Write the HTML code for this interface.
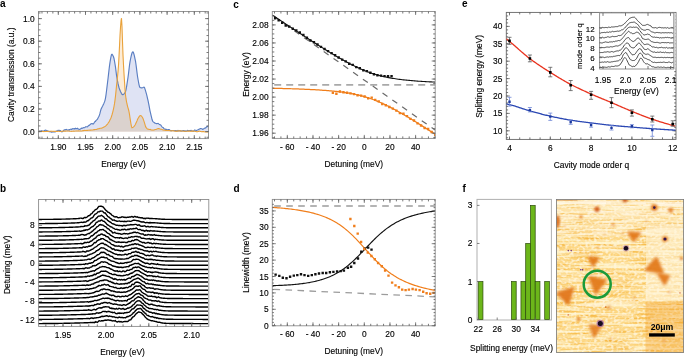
<!DOCTYPE html>
<html><head><meta charset="utf-8"><style>
html,body{margin:0;padding:0;background:#fff;}
svg{display:block;font-family:"Liberation Sans", sans-serif;will-change:transform;}
</style></head><body>
<svg width="685" height="357" viewBox="0 0 685 357">
<path d="M38.5,131.6 L38.5,131.51 L39,131.54 L39.5,131.05 L40,131.35 L40.5,131.19 L41,130.88 L41.5,130.86 L42,130.68 L42.5,131.49 L43,131.46 L43.5,131.43 L44,130.71 L44.5,130.46 L45,130.25 L45.5,130.17 L46,130.34 L46.5,130.51 L47,130.82 L47.5,130.84 L48,131.04 L48.5,131.31 L49,131.6 L49.5,131.66 L50,131.48 L50.5,131.56 L51,132.06 L51.5,132.13 L52,132.07 L52.5,131.96 L53,131.88 L53.5,131.86 L54,131.8 L54.5,131.99 L55,131.98 L55.5,131.86 L56,131.19 L56.5,131.23 L57,130.84 L57.5,130.8 L58,130.33 L58.5,130.34 L59,130.5 L59.5,130.39 L60,130.47 L60.5,130.76 L61,131.4 L61.5,131.68 L62,131.79 L62.5,131.62 L63,131.14 L63.5,130.55 L64,130.05 L64.5,129.87 L65,129.86 L65.5,129.67 L66,129.7 L66.5,129.44 L67,129.81 L67.5,129.94 L68,130.12 L68.5,129.99 L69,129.66 L69.5,129.93 L70,129.42 L70.5,129.26 L71,129.09 L71.5,129.47 L72,129.15 L72.5,128.85 L73,128.61 L73.5,128.77 L74,129.02 L74.5,128.69 L75,128.78 L75.5,128.3 L76,128.72 L76.5,128.67 L77,128.82 L77.5,128.34 L78,128.68 L78.5,128.92 L79,129.38 L79.5,129.33 L80,129.27 L80.5,129 L81,128.58 L81.5,128.24 L82,128.4 L82.5,128.11 L83,127.99 L83.5,127.56 L84,127.69 L84.5,127.73 L85,127.41 L85.5,126.9 L86,126.6 L86.5,126.79 L87,126.94 L87.5,126.7 L88,126.14 L88.5,125.75 L89,125.36 L89.5,125.19 L90,124.61 L90.5,124.27 L91,123.75 L91.5,123.69 L92,123.52 L92.5,123.83 L93,123.86 L93.5,123.93 L94,122.96 L94.5,122.34 L95,121.54 L95.5,121.43 L96,120.5 L96.5,120.15 L97,119.59 L97.5,119.12 L98,118.09 L98.5,116.98 L99,116.21 L99.5,114.85 L100,113.13 L100.5,111.04 L101,109.24 L101.5,108.15 L102,107.21 L102.5,106.31 L103,105.36 L103.5,104.27 L104,103.15 L104.5,101.91 L105,100.37 L105.5,98.11 L106,94.87 L106.5,91 L107,86.84 L107.5,82.77 L108,78.77 L108.5,74.39 L109,69.96 L109.5,65.84 L110,62.38 L110.5,59.44 L111,56.6 L111.5,54.67 L112,54.35 L112.5,54.84 L113,55.71 L113.5,56.8 L114,58.5 L114.5,61.05 L115,64 L115.5,67.2 L116,71.15 L116.5,75.05 L117,78.13 L117.5,80.86 L118,83.38 L118.5,85.62 L119,87.51 L119.5,88.96 L120,90.26 L120.5,91.5 L121,92.62 L121.5,93.55 L122,94.22 L122.5,94.57 L123,94.56 L123.5,94.31 L124,93.88 L124.5,93.29 L125,92.58 L125.5,91.67 L126,89.82 L126.5,87.13 L127,83.95 L127.5,80.62 L128,77.38 L128.5,73.56 L129,69.37 L129.5,65.3 L130,61.81 L130.5,59.26 L131,56.92 L131.5,54.75 L132,53.03 L132.5,51.99 L133,51.89 L133.5,52.76 L134,54.38 L134.5,56.49 L135,58.81 L135.5,61.21 L136,64.48 L136.5,68.41 L137,72.5 L137.5,76.26 L138,79.23 L138.5,82 L139,84.62 L139.5,86.61 L140,87.5 L140.5,87.66 L141,87.79 L141.5,87.87 L142,87.9 L142.5,87.82 L143,87.56 L143.5,87.27 L144,87.11 L144.5,87.59 L145,89.08 L145.5,90.7 L146,92.35 L146.5,94.19 L147,96.18 L147.5,98.28 L148,100.44 L148.5,102.86 L149,105.47 L149.5,108.13 L150,110.83 L150.5,112.96 L151,115.11 L151.5,117.15 L152,119.29 L152.5,120.84 L153,121.59 L153.5,122.03 L154,122.35 L154.5,122.73 L155,123.25 L155.5,123.22 L156,123.44 L156.5,123.61 L157,123.68 L157.5,123.52 L158,123.45 L158.5,123.63 L159,124.15 L159.5,124.41 L160,124.7 L160.5,124.75 L161,125.22 L161.5,126.29 L162,126.84 L162.5,127.3 L163,127.46 L163.5,127.93 L164,128.72 L164.5,128.92 L165,129.35 L165.5,129.19 L166,129.53 L166.5,129.35 L167,129.73 L167.5,129.71 L168,130.01 L168.5,129.64 L169,129.61 L169.5,129.76 L170,130.14 L170.5,130.44 L171,130.59 L171.5,130.59 L172,130.5 L172.5,130.48 L173,130.49 L173.5,130.5 L174,130.51 L174.5,130.66 L175,130.74 L175.5,130.59 L176,130.53 L176.5,130.84 L177,130.9 L177.5,130.79 L178,130.49 L178.5,130.76 L179,130.5 L179.5,130.61 L180,130.63 L180.5,130.83 L181,131.04 L181.5,130.95 L182,131.02 L182.5,130.82 L183,130.49 L183.5,130.49 L184,130.77 L184.5,130.89 L185,131.3 L185.5,130.99 L186,131.32 L186.5,131.02 L187,130.67 L187.5,130.42 L188,130.45 L188.5,130.63 L189,130.51 L189.5,130.54 L190,130.63 L190.5,130.57 L191,130.39 L191.5,130.63 L192,130.8 L192.5,131.02 L193,131.08 L193.5,131.1 L194,130.69 L194.5,130.14 L195,130.05 L195.5,130.3 L196,130.49 L196.5,130.49 L197,130.17 L197.5,130.05 L198,129.75 L198.5,129.63 L199,129.23 L199.5,128.91 L200,128.74 L200.5,128.65 L201,128.63 L201.5,128.72 L202,128.79 L202.5,129.34 L203,129.27 L203.5,129.07 L204,128.58 L204.5,128.32 L205,128.13 L205.5,127.98 L206,127.56 L206.5,126.92 L207,126.6 L207.5,126.34 L208,126.79 L208.5,126.34 L208.5,131.6 Z" fill="#dfe3f4"/>
<path d="M38.5,131.6 L38.5,131.28 L39,131.22 L39.5,131.24 L40,131.4 L40.5,131.5 L41,131.39 L41.5,131.48 L42,131.53 L42.5,131.38 L43,131.42 L43.5,131.47 L44,131.63 L44.5,131.55 L45,131.55 L45.5,131.56 L46,131.49 L46.5,131.35 L47,131.39 L47.5,131.53 L48,131.44 L48.5,131.46 L49,131.26 L49.5,131.19 L50,131.21 L50.5,131.21 L51,131.17 L51.5,131.25 L52,131.35 L52.5,131.25 L53,131.21 L53.5,131.29 L54,131.38 L54.5,131.38 L55,131.31 L55.5,131.51 L56,131.48 L56.5,131.44 L57,131.33 L57.5,131.35 L58,131.27 L58.5,131.21 L59,131.29 L59.5,131.35 L60,131.45 L60.5,131.44 L61,131.44 L61.5,131.22 L62,131.19 L62.5,131.15 L63,131.09 L63.5,131.12 L64,131.21 L64.5,131.16 L65,131.02 L65.5,131.1 L66,131.06 L66.5,131.05 L67,130.97 L67.5,131.02 L68,131.01 L68.5,131.02 L69,131 L69.5,131.18 L70,131.28 L70.5,131.24 L71,131.25 L71.5,131.38 L72,131.31 L72.5,131.25 L73,131.12 L73.5,131.16 L74,131.09 L74.5,131.18 L75,130.98 L75.5,131.07 L76,131.03 L76.5,130.98 L77,130.86 L77.5,131.04 L78,131.02 L78.5,130.9 L79,130.9 L79.5,130.93 L80,130.95 L80.5,130.91 L81,130.93 L81.5,130.94 L82,130.93 L82.5,130.75 L83,130.63 L83.5,130.61 L84,130.5 L84.5,130.36 L85,130.42 L85.5,130.52 L86,130.41 L86.5,130.52 L87,130.41 L87.5,130.41 L88,130.23 L88.5,130.18 L89,130.14 L89.5,130.19 L90,130.06 L90.5,130.09 L91,130.16 L91.5,130.04 L92,129.99 L92.5,130.03 L93,129.92 L93.5,129.75 L94,129.62 L94.5,129.59 L95,129.48 L95.5,129.5 L96,129.42 L96.5,129.34 L97,129.21 L97.5,129 L98,128.85 L98.5,128.78 L99,128.62 L99.5,128.43 L100,128.32 L100.5,128.25 L101,128.24 L101.5,128.15 L102,128.03 L102.5,127.76 L103,127.52 L103.5,127.18 L104,126.94 L104.5,126.78 L105,126.55 L105.5,126.13 L106,125.65 L106.5,125.08 L107,124.48 L107.5,124.04 L108,123.31 L108.5,122.49 L109,121.83 L109.5,120.91 L110,119.8 L110.5,119 L111,117.79 L111.5,116.36 L112,114.75 L112.5,113 L113,111.09 L113.5,108.94 L114,106.51 L114.5,103.7 L115,100.15 L115.5,96 L116,91.12 L116.5,86 L117,81.52 L117.5,77.02 L118,71.69 L118.5,65.2 L119,56.37 L119.5,46.35 L120,35.44 L120.5,27.59 L121,21.06 L121.5,18.2 L122,26.74 L122.5,41.69 L123,55.1 L123.5,65 L124,73.74 L124.5,81.52 L125,89.12 L125.5,95 L126,98.7 L126.5,101.56 L127,104 L127.5,106.07 L128,107.8 L128.5,109.5 L129,111.53 L129.5,114.35 L130,117.85 L130.5,121.06 L131,123.99 L131.5,126.67 L132,127.7 L132.5,127.49 L133,127.2 L133.5,126.85 L134,126.41 L134.5,125.8 L135,125.03 L135.5,124.15 L136,123.09 L136.5,122.01 L137,120.88 L137.5,119.46 L138,118.5 L138.5,117.68 L139,116.87 L139.5,116.18 L140,115.69 L140.5,115.5 L141,115.67 L141.5,116.13 L142,116.77 L142.5,117.5 L143,118.5 L143.5,119.9 L144,121.32 L144.5,122.95 L145,124.61 L145.5,126.32 L146,127.36 L146.5,127.96 L147,128.59 L147.5,129.07 L148,129.13 L148.5,129.23 L149,129.36 L149.5,129.45 L150,129.41 L150.5,129.6 L151,129.92 L151.5,129.96 L152,129.93 L152.5,130.03 L153,130.08 L153.5,130.03 L154,129.94 L154.5,129.8 L155,129.54 L155.5,129.43 L156,129.44 L156.5,129.28 L157,128.94 L157.5,128.79 L158,128.61 L158.5,128.47 L159,128.64 L159.5,128.84 L160,128.97 L160.5,129.19 L161,129.18 L161.5,129.31 L162,129.48 L162.5,129.73 L163,129.84 L163.5,130.1 L164,130.21 L164.5,130.26 L165,130.31 L165.5,130.33 L166,130.37 L166.5,130.46 L167,130.57 L167.5,130.55 L168,130.55 L168.5,130.55 L169,130.55 L169.5,130.55 L170,130.7 L170.5,130.8 L171,130.83 L171.5,130.7 L172,130.8 L172.5,130.78 L173,130.65 L173.5,130.77 L174,130.99 L174.5,131.01 L175,131.01 L175.5,131.32 L176,131.34 L176.5,131.17 L177,131.16 L177.5,131.12 L178,130.95 L178.5,130.71 L179,130.84 L179.5,130.81 L180,130.84 L180.5,130.86 L181,131.09 L181.5,131.03 L182,131.03 L182.5,131.07 L183,131.18 L183.5,131.11 L184,131.24 L184.5,131.32 L185,131.25 L185.5,131.27 L186,131.24 L186.5,131.23 L187,131.18 L187.5,131.26 L188,131.08 L188.5,131.09 L189,131.1 L189.5,131.16 L190,131.15 L190.5,131.21 L191,131.32 L191.5,131.16 L192,131.08 L192.5,131.09 L193,131.08 L193.5,131.01 L194,131.12 L194.5,131.21 L195,131.22 L195.5,131.41 L196,131.55 L196.5,131.66 L197,131.68 L197.5,131.68 L198,131.47 L198.5,131.39 L199,131.17 L199.5,131.14 L200,131.24 L200.5,131.46 L201,131.56 L201.5,131.66 L202,131.74 L202.5,131.64 L203,131.59 L203.5,131.52 L204,131.65 L204.5,131.8 L205,131.93 L205.5,132.04 L206,132.06 L206.5,131.99 L207,131.9 L207.5,131.96 L208,131.8 L208.5,131.79 L208.5,131.6 Z" fill="#fdecd6"/>
<path d="M38.5,131.6 L38.5,131.51 L39,131.54 L39.5,131.24 L40,131.4 L40.5,131.5 L41,131.39 L41.5,131.48 L42,131.53 L42.5,131.49 L43,131.46 L43.5,131.47 L44,131.63 L44.5,131.55 L45,131.55 L45.5,131.56 L46,131.49 L46.5,131.35 L47,131.39 L47.5,131.53 L48,131.44 L48.5,131.46 L49,131.6 L49.5,131.66 L50,131.48 L50.5,131.56 L51,132.06 L51.5,132.13 L52,132.07 L52.5,131.96 L53,131.88 L53.5,131.86 L54,131.8 L54.5,131.99 L55,131.98 L55.5,131.86 L56,131.48 L56.5,131.44 L57,131.33 L57.5,131.35 L58,131.27 L58.5,131.21 L59,131.29 L59.5,131.35 L60,131.45 L60.5,131.44 L61,131.44 L61.5,131.68 L62,131.79 L62.5,131.62 L63,131.14 L63.5,131.12 L64,131.21 L64.5,131.16 L65,131.02 L65.5,131.1 L66,131.06 L66.5,131.05 L67,130.97 L67.5,131.02 L68,131.01 L68.5,131.02 L69,131 L69.5,131.18 L70,131.28 L70.5,131.24 L71,131.25 L71.5,131.38 L72,131.31 L72.5,131.25 L73,131.12 L73.5,131.16 L74,131.09 L74.5,131.18 L75,130.98 L75.5,131.07 L76,131.03 L76.5,130.98 L77,130.86 L77.5,131.04 L78,131.02 L78.5,130.9 L79,130.9 L79.5,130.93 L80,130.95 L80.5,130.91 L81,130.93 L81.5,130.94 L82,130.93 L82.5,130.75 L83,130.63 L83.5,130.61 L84,130.5 L84.5,130.36 L85,130.42 L85.5,130.52 L86,130.41 L86.5,130.52 L87,130.41 L87.5,130.41 L88,130.23 L88.5,130.18 L89,130.14 L89.5,130.19 L90,130.06 L90.5,130.09 L91,130.16 L91.5,130.04 L92,129.99 L92.5,130.03 L93,129.92 L93.5,129.75 L94,129.62 L94.5,129.59 L95,129.48 L95.5,129.5 L96,129.42 L96.5,129.34 L97,129.21 L97.5,129 L98,128.85 L98.5,128.78 L99,128.62 L99.5,128.43 L100,128.32 L100.5,128.25 L101,128.24 L101.5,128.15 L102,128.03 L102.5,127.76 L103,127.52 L103.5,127.18 L104,126.94 L104.5,126.78 L105,126.55 L105.5,126.13 L106,125.65 L106.5,125.08 L107,124.48 L107.5,124.04 L108,123.31 L108.5,122.49 L109,121.83 L109.5,120.91 L110,119.8 L110.5,119 L111,117.79 L111.5,116.36 L112,114.75 L112.5,113 L113,111.09 L113.5,108.94 L114,106.51 L114.5,103.7 L115,100.15 L115.5,96 L116,91.12 L116.5,86 L117,81.52 L117.5,80.86 L118,83.38 L118.5,85.62 L119,87.51 L119.5,88.96 L120,90.26 L120.5,91.5 L121,92.62 L121.5,93.55 L122,94.22 L122.5,94.57 L123,94.56 L123.5,94.31 L124,93.88 L124.5,93.29 L125,92.58 L125.5,95 L126,98.7 L126.5,101.56 L127,104 L127.5,106.07 L128,107.8 L128.5,109.5 L129,111.53 L129.5,114.35 L130,117.85 L130.5,121.06 L131,123.99 L131.5,126.67 L132,127.7 L132.5,127.49 L133,127.2 L133.5,126.85 L134,126.41 L134.5,125.8 L135,125.03 L135.5,124.15 L136,123.09 L136.5,122.01 L137,120.88 L137.5,119.46 L138,118.5 L138.5,117.68 L139,116.87 L139.5,116.18 L140,115.69 L140.5,115.5 L141,115.67 L141.5,116.13 L142,116.77 L142.5,117.5 L143,118.5 L143.5,119.9 L144,121.32 L144.5,122.95 L145,124.61 L145.5,126.32 L146,127.36 L146.5,127.96 L147,128.59 L147.5,129.07 L148,129.13 L148.5,129.23 L149,129.36 L149.5,129.45 L150,129.41 L150.5,129.6 L151,129.92 L151.5,129.96 L152,129.93 L152.5,130.03 L153,130.08 L153.5,130.03 L154,129.94 L154.5,129.8 L155,129.54 L155.5,129.43 L156,129.44 L156.5,129.28 L157,128.94 L157.5,128.79 L158,128.61 L158.5,128.47 L159,128.64 L159.5,128.84 L160,128.97 L160.5,129.19 L161,129.18 L161.5,129.31 L162,129.48 L162.5,129.73 L163,129.84 L163.5,130.1 L164,130.21 L164.5,130.26 L165,130.31 L165.5,130.33 L166,130.37 L166.5,130.46 L167,130.57 L167.5,130.55 L168,130.55 L168.5,130.55 L169,130.55 L169.5,130.55 L170,130.7 L170.5,130.8 L171,130.83 L171.5,130.7 L172,130.8 L172.5,130.78 L173,130.65 L173.5,130.77 L174,130.99 L174.5,131.01 L175,131.01 L175.5,131.32 L176,131.34 L176.5,131.17 L177,131.16 L177.5,131.12 L178,130.95 L178.5,130.76 L179,130.84 L179.5,130.81 L180,130.84 L180.5,130.86 L181,131.09 L181.5,131.03 L182,131.03 L182.5,131.07 L183,131.18 L183.5,131.11 L184,131.24 L184.5,131.32 L185,131.3 L185.5,131.27 L186,131.32 L186.5,131.23 L187,131.18 L187.5,131.26 L188,131.08 L188.5,131.09 L189,131.1 L189.5,131.16 L190,131.15 L190.5,131.21 L191,131.32 L191.5,131.16 L192,131.08 L192.5,131.09 L193,131.08 L193.5,131.1 L194,131.12 L194.5,131.21 L195,131.22 L195.5,131.41 L196,131.55 L196.5,131.66 L197,131.68 L197.5,131.68 L198,131.47 L198.5,131.39 L199,131.17 L199.5,131.14 L200,131.24 L200.5,131.46 L201,131.56 L201.5,131.66 L202,131.74 L202.5,131.64 L203,131.59 L203.5,131.52 L204,131.65 L204.5,131.8 L205,131.93 L205.5,132.04 L206,132.06 L206.5,131.99 L207,131.9 L207.5,131.96 L208,131.8 L208.5,131.79 L208.5,131.6 Z" fill="#dbd2ce"/>
<path d="M38.5,131.51 L39,131.54 L39.5,131.05 L40,131.35 L40.5,131.19 L41,130.88 L41.5,130.86 L42,130.68 L42.5,131.49 L43,131.46 L43.5,131.43 L44,130.71 L44.5,130.46 L45,130.25 L45.5,130.17 L46,130.34 L46.5,130.51 L47,130.82 L47.5,130.84 L48,131.04 L48.5,131.31 L49,131.6 L49.5,131.66 L50,131.48 L50.5,131.56 L51,132.06 L51.5,132.13 L52,132.07 L52.5,131.96 L53,131.88 L53.5,131.86 L54,131.8 L54.5,131.99 L55,131.98 L55.5,131.86 L56,131.19 L56.5,131.23 L57,130.84 L57.5,130.8 L58,130.33 L58.5,130.34 L59,130.5 L59.5,130.39 L60,130.47 L60.5,130.76 L61,131.4 L61.5,131.68 L62,131.79 L62.5,131.62 L63,131.14 L63.5,130.55 L64,130.05 L64.5,129.87 L65,129.86 L65.5,129.67 L66,129.7 L66.5,129.44 L67,129.81 L67.5,129.94 L68,130.12 L68.5,129.99 L69,129.66 L69.5,129.93 L70,129.42 L70.5,129.26 L71,129.09 L71.5,129.47 L72,129.15 L72.5,128.85 L73,128.61 L73.5,128.77 L74,129.02 L74.5,128.69 L75,128.78 L75.5,128.3 L76,128.72 L76.5,128.67 L77,128.82 L77.5,128.34 L78,128.68 L78.5,128.92 L79,129.38 L79.5,129.33 L80,129.27 L80.5,129 L81,128.58 L81.5,128.24 L82,128.4 L82.5,128.11 L83,127.99 L83.5,127.56 L84,127.69 L84.5,127.73 L85,127.41 L85.5,126.9 L86,126.6 L86.5,126.79 L87,126.94 L87.5,126.7 L88,126.14 L88.5,125.75 L89,125.36 L89.5,125.19 L90,124.61 L90.5,124.27 L91,123.75 L91.5,123.69 L92,123.52 L92.5,123.83 L93,123.86 L93.5,123.93 L94,122.96 L94.5,122.34 L95,121.54 L95.5,121.43 L96,120.5 L96.5,120.15 L97,119.59 L97.5,119.12 L98,118.09 L98.5,116.98 L99,116.21 L99.5,114.85 L100,113.13 L100.5,111.04 L101,109.24 L101.5,108.15 L102,107.21 L102.5,106.31 L103,105.36 L103.5,104.27 L104,103.15 L104.5,101.91 L105,100.37 L105.5,98.11 L106,94.87 L106.5,91 L107,86.84 L107.5,82.77 L108,78.77 L108.5,74.39 L109,69.96 L109.5,65.84 L110,62.38 L110.5,59.44 L111,56.6 L111.5,54.67 L112,54.35 L112.5,54.84 L113,55.71 L113.5,56.8 L114,58.5 L114.5,61.05 L115,64 L115.5,67.2 L116,71.15 L116.5,75.05 L117,78.13 L117.5,80.86 L118,83.38 L118.5,85.62 L119,87.51 L119.5,88.96 L120,90.26 L120.5,91.5 L121,92.62 L121.5,93.55 L122,94.22 L122.5,94.57 L123,94.56 L123.5,94.31 L124,93.88 L124.5,93.29 L125,92.58 L125.5,91.67 L126,89.82 L126.5,87.13 L127,83.95 L127.5,80.62 L128,77.38 L128.5,73.56 L129,69.37 L129.5,65.3 L130,61.81 L130.5,59.26 L131,56.92 L131.5,54.75 L132,53.03 L132.5,51.99 L133,51.89 L133.5,52.76 L134,54.38 L134.5,56.49 L135,58.81 L135.5,61.21 L136,64.48 L136.5,68.41 L137,72.5 L137.5,76.26 L138,79.23 L138.5,82 L139,84.62 L139.5,86.61 L140,87.5 L140.5,87.66 L141,87.79 L141.5,87.87 L142,87.9 L142.5,87.82 L143,87.56 L143.5,87.27 L144,87.11 L144.5,87.59 L145,89.08 L145.5,90.7 L146,92.35 L146.5,94.19 L147,96.18 L147.5,98.28 L148,100.44 L148.5,102.86 L149,105.47 L149.5,108.13 L150,110.83 L150.5,112.96 L151,115.11 L151.5,117.15 L152,119.29 L152.5,120.84 L153,121.59 L153.5,122.03 L154,122.35 L154.5,122.73 L155,123.25 L155.5,123.22 L156,123.44 L156.5,123.61 L157,123.68 L157.5,123.52 L158,123.45 L158.5,123.63 L159,124.15 L159.5,124.41 L160,124.7 L160.5,124.75 L161,125.22 L161.5,126.29 L162,126.84 L162.5,127.3 L163,127.46 L163.5,127.93 L164,128.72 L164.5,128.92 L165,129.35 L165.5,129.19 L166,129.53 L166.5,129.35 L167,129.73 L167.5,129.71 L168,130.01 L168.5,129.64 L169,129.61 L169.5,129.76 L170,130.14 L170.5,130.44 L171,130.59 L171.5,130.59 L172,130.5 L172.5,130.48 L173,130.49 L173.5,130.5 L174,130.51 L174.5,130.66 L175,130.74 L175.5,130.59 L176,130.53 L176.5,130.84 L177,130.9 L177.5,130.79 L178,130.49 L178.5,130.76 L179,130.5 L179.5,130.61 L180,130.63 L180.5,130.83 L181,131.04 L181.5,130.95 L182,131.02 L182.5,130.82 L183,130.49 L183.5,130.49 L184,130.77 L184.5,130.89 L185,131.3 L185.5,130.99 L186,131.32 L186.5,131.02 L187,130.67 L187.5,130.42 L188,130.45 L188.5,130.63 L189,130.51 L189.5,130.54 L190,130.63 L190.5,130.57 L191,130.39 L191.5,130.63 L192,130.8 L192.5,131.02 L193,131.08 L193.5,131.1 L194,130.69 L194.5,130.14 L195,130.05 L195.5,130.3 L196,130.49 L196.5,130.49 L197,130.17 L197.5,130.05 L198,129.75 L198.5,129.63 L199,129.23 L199.5,128.91 L200,128.74 L200.5,128.65 L201,128.63 L201.5,128.72 L202,128.79 L202.5,129.34 L203,129.27 L203.5,129.07 L204,128.58 L204.5,128.32 L205,128.13 L205.5,127.98 L206,127.56 L206.5,126.92 L207,126.6 L207.5,126.34 L208,126.79 L208.5,126.34" fill="none" stroke="#5a7ec2" stroke-width="1.15" />
<path d="M38.5,131.28 L39,131.22 L39.5,131.24 L40,131.4 L40.5,131.5 L41,131.39 L41.5,131.48 L42,131.53 L42.5,131.38 L43,131.42 L43.5,131.47 L44,131.63 L44.5,131.55 L45,131.55 L45.5,131.56 L46,131.49 L46.5,131.35 L47,131.39 L47.5,131.53 L48,131.44 L48.5,131.46 L49,131.26 L49.5,131.19 L50,131.21 L50.5,131.21 L51,131.17 L51.5,131.25 L52,131.35 L52.5,131.25 L53,131.21 L53.5,131.29 L54,131.38 L54.5,131.38 L55,131.31 L55.5,131.51 L56,131.48 L56.5,131.44 L57,131.33 L57.5,131.35 L58,131.27 L58.5,131.21 L59,131.29 L59.5,131.35 L60,131.45 L60.5,131.44 L61,131.44 L61.5,131.22 L62,131.19 L62.5,131.15 L63,131.09 L63.5,131.12 L64,131.21 L64.5,131.16 L65,131.02 L65.5,131.1 L66,131.06 L66.5,131.05 L67,130.97 L67.5,131.02 L68,131.01 L68.5,131.02 L69,131 L69.5,131.18 L70,131.28 L70.5,131.24 L71,131.25 L71.5,131.38 L72,131.31 L72.5,131.25 L73,131.12 L73.5,131.16 L74,131.09 L74.5,131.18 L75,130.98 L75.5,131.07 L76,131.03 L76.5,130.98 L77,130.86 L77.5,131.04 L78,131.02 L78.5,130.9 L79,130.9 L79.5,130.93 L80,130.95 L80.5,130.91 L81,130.93 L81.5,130.94 L82,130.93 L82.5,130.75 L83,130.63 L83.5,130.61 L84,130.5 L84.5,130.36 L85,130.42 L85.5,130.52 L86,130.41 L86.5,130.52 L87,130.41 L87.5,130.41 L88,130.23 L88.5,130.18 L89,130.14 L89.5,130.19 L90,130.06 L90.5,130.09 L91,130.16 L91.5,130.04 L92,129.99 L92.5,130.03 L93,129.92 L93.5,129.75 L94,129.62 L94.5,129.59 L95,129.48 L95.5,129.5 L96,129.42 L96.5,129.34 L97,129.21 L97.5,129 L98,128.85 L98.5,128.78 L99,128.62 L99.5,128.43 L100,128.32 L100.5,128.25 L101,128.24 L101.5,128.15 L102,128.03 L102.5,127.76 L103,127.52 L103.5,127.18 L104,126.94 L104.5,126.78 L105,126.55 L105.5,126.13 L106,125.65 L106.5,125.08 L107,124.48 L107.5,124.04 L108,123.31 L108.5,122.49 L109,121.83 L109.5,120.91 L110,119.8 L110.5,119 L111,117.79 L111.5,116.36 L112,114.75 L112.5,113 L113,111.09 L113.5,108.94 L114,106.51 L114.5,103.7 L115,100.15 L115.5,96 L116,91.12 L116.5,86 L117,81.52 L117.5,77.02 L118,71.69 L118.5,65.2 L119,56.37 L119.5,46.35 L120,35.44 L120.5,27.59 L121,21.06 L121.5,18.2 L122,26.74 L122.5,41.69 L123,55.1 L123.5,65 L124,73.74 L124.5,81.52 L125,89.12 L125.5,95 L126,98.7 L126.5,101.56 L127,104 L127.5,106.07 L128,107.8 L128.5,109.5 L129,111.53 L129.5,114.35 L130,117.85 L130.5,121.06 L131,123.99 L131.5,126.67 L132,127.7 L132.5,127.49 L133,127.2 L133.5,126.85 L134,126.41 L134.5,125.8 L135,125.03 L135.5,124.15 L136,123.09 L136.5,122.01 L137,120.88 L137.5,119.46 L138,118.5 L138.5,117.68 L139,116.87 L139.5,116.18 L140,115.69 L140.5,115.5 L141,115.67 L141.5,116.13 L142,116.77 L142.5,117.5 L143,118.5 L143.5,119.9 L144,121.32 L144.5,122.95 L145,124.61 L145.5,126.32 L146,127.36 L146.5,127.96 L147,128.59 L147.5,129.07 L148,129.13 L148.5,129.23 L149,129.36 L149.5,129.45 L150,129.41 L150.5,129.6 L151,129.92 L151.5,129.96 L152,129.93 L152.5,130.03 L153,130.08 L153.5,130.03 L154,129.94 L154.5,129.8 L155,129.54 L155.5,129.43 L156,129.44 L156.5,129.28 L157,128.94 L157.5,128.79 L158,128.61 L158.5,128.47 L159,128.64 L159.5,128.84 L160,128.97 L160.5,129.19 L161,129.18 L161.5,129.31 L162,129.48 L162.5,129.73 L163,129.84 L163.5,130.1 L164,130.21 L164.5,130.26 L165,130.31 L165.5,130.33 L166,130.37 L166.5,130.46 L167,130.57 L167.5,130.55 L168,130.55 L168.5,130.55 L169,130.55 L169.5,130.55 L170,130.7 L170.5,130.8 L171,130.83 L171.5,130.7 L172,130.8 L172.5,130.78 L173,130.65 L173.5,130.77 L174,130.99 L174.5,131.01 L175,131.01 L175.5,131.32 L176,131.34 L176.5,131.17 L177,131.16 L177.5,131.12 L178,130.95 L178.5,130.71 L179,130.84 L179.5,130.81 L180,130.84 L180.5,130.86 L181,131.09 L181.5,131.03 L182,131.03 L182.5,131.07 L183,131.18 L183.5,131.11 L184,131.24 L184.5,131.32 L185,131.25 L185.5,131.27 L186,131.24 L186.5,131.23 L187,131.18 L187.5,131.26 L188,131.08 L188.5,131.09 L189,131.1 L189.5,131.16 L190,131.15 L190.5,131.21 L191,131.32 L191.5,131.16 L192,131.08 L192.5,131.09 L193,131.08 L193.5,131.01 L194,131.12 L194.5,131.21 L195,131.22 L195.5,131.41 L196,131.55 L196.5,131.66 L197,131.68 L197.5,131.68 L198,131.47 L198.5,131.39 L199,131.17 L199.5,131.14 L200,131.24 L200.5,131.46 L201,131.56 L201.5,131.66 L202,131.74 L202.5,131.64 L203,131.59 L203.5,131.52 L204,131.65 L204.5,131.8 L205,131.93 L205.5,132.04 L206,132.06 L206.5,131.99 L207,131.9 L207.5,131.96 L208,131.8 L208.5,131.79" fill="none" stroke="#e9a23b" stroke-width="1.1" />
<rect x="38.5" y="11.5" width="170" height="127.1" fill="none" stroke="#8c8c8c" stroke-width="0.9"/>
<path d="M41.98,138.6v-2.0M41.98,11.5v2.0M47.42,138.6v-2.0M47.42,11.5v2.0M52.86,138.6v-2.0M52.86,11.5v2.0M58.3,138.6v-2.0M58.3,11.5v2.0M63.74,138.6v-2.0M63.74,11.5v2.0M69.18,138.6v-2.0M69.18,11.5v2.0M74.62,138.6v-2.0M74.62,11.5v2.0M80.06,138.6v-2.0M80.06,11.5v2.0M85.5,138.6v-2.0M85.5,11.5v2.0M90.94,138.6v-2.0M90.94,11.5v2.0M96.38,138.6v-2.0M96.38,11.5v2.0M101.82,138.6v-2.0M101.82,11.5v2.0M107.26,138.6v-2.0M107.26,11.5v2.0M112.7,138.6v-2.0M112.7,11.5v2.0M118.14,138.6v-2.0M118.14,11.5v2.0M123.58,138.6v-2.0M123.58,11.5v2.0M129.02,138.6v-2.0M129.02,11.5v2.0M134.46,138.6v-2.0M134.46,11.5v2.0M139.9,138.6v-2.0M139.9,11.5v2.0M145.34,138.6v-2.0M145.34,11.5v2.0M150.78,138.6v-2.0M150.78,11.5v2.0M156.22,138.6v-2.0M156.22,11.5v2.0M161.66,138.6v-2.0M161.66,11.5v2.0M167.1,138.6v-2.0M167.1,11.5v2.0M172.54,138.6v-2.0M172.54,11.5v2.0M177.98,138.6v-2.0M177.98,11.5v2.0M183.42,138.6v-2.0M183.42,11.5v2.0M188.86,138.6v-2.0M188.86,11.5v2.0M194.3,138.6v-2.0M194.3,11.5v2.0M199.74,138.6v-2.0M199.74,11.5v2.0M205.18,138.6v-2.0M205.18,11.5v2.0" stroke="#555" stroke-width="0.8" fill="none"/>
<path d="M58.3,138.6v-3.5M58.3,11.5v3.5M85.5,138.6v-3.5M85.5,11.5v3.5M112.7,138.6v-3.5M112.7,11.5v3.5M139.9,138.6v-3.5M139.9,11.5v3.5M167.1,138.6v-3.5M167.1,11.5v3.5M194.3,138.6v-3.5M194.3,11.5v3.5" stroke="#666" stroke-width="0.8" fill="none"/>
<text x="58.3" y="150.32" text-anchor="middle" font-size="8.4" font-weight="normal" fill="#000" stroke="#000" stroke-width="0.14">1.90</text>
<text x="85.5" y="150.32" text-anchor="middle" font-size="8.4" font-weight="normal" fill="#000" stroke="#000" stroke-width="0.14">1.95</text>
<text x="112.7" y="150.32" text-anchor="middle" font-size="8.4" font-weight="normal" fill="#000" stroke="#000" stroke-width="0.14">2.00</text>
<text x="139.9" y="150.32" text-anchor="middle" font-size="8.4" font-weight="normal" fill="#000" stroke="#000" stroke-width="0.14">2.05</text>
<text x="167.1" y="150.32" text-anchor="middle" font-size="8.4" font-weight="normal" fill="#000" stroke="#000" stroke-width="0.14">2.10</text>
<text x="194.3" y="150.32" text-anchor="middle" font-size="8.4" font-weight="normal" fill="#000" stroke="#000" stroke-width="0.14">2.15</text>
<path d="M38.5,137.25h2.0M208.5,137.25h-2.0M38.5,131.6h2.0M208.5,131.6h-2.0M38.5,125.95h2.0M208.5,125.95h-2.0M38.5,120.3h2.0M208.5,120.3h-2.0M38.5,114.65h2.0M208.5,114.65h-2.0M38.5,109h2.0M208.5,109h-2.0M38.5,103.35h2.0M208.5,103.35h-2.0M38.5,97.7h2.0M208.5,97.7h-2.0M38.5,92.05h2.0M208.5,92.05h-2.0M38.5,86.4h2.0M208.5,86.4h-2.0M38.5,80.75h2.0M208.5,80.75h-2.0M38.5,75.1h2.0M208.5,75.1h-2.0M38.5,69.45h2.0M208.5,69.45h-2.0M38.5,63.8h2.0M208.5,63.8h-2.0M38.5,58.15h2.0M208.5,58.15h-2.0M38.5,52.5h2.0M208.5,52.5h-2.0M38.5,46.85h2.0M208.5,46.85h-2.0M38.5,41.2h2.0M208.5,41.2h-2.0M38.5,35.55h2.0M208.5,35.55h-2.0M38.5,29.9h2.0M208.5,29.9h-2.0M38.5,24.25h2.0M208.5,24.25h-2.0M38.5,18.6h2.0M208.5,18.6h-2.0M38.5,12.95h2.0M208.5,12.95h-2.0" stroke="#555" stroke-width="0.8" fill="none"/>
<path d="M38.5,131.6h3.5M208.5,131.6h-3.5M38.5,109h3.5M208.5,109h-3.5M38.5,86.4h3.5M208.5,86.4h-3.5M38.5,63.8h3.5M208.5,63.8h-3.5M38.5,41.2h3.5M208.5,41.2h-3.5M38.5,18.6h3.5M208.5,18.6h-3.5" stroke="#666" stroke-width="0.8" fill="none"/>
<text x="34.7" y="134.62" text-anchor="end" font-size="8.4" font-weight="normal" fill="#000" stroke="#000" stroke-width="0.14">0.0</text>
<text x="34.7" y="112.02" text-anchor="end" font-size="8.4" font-weight="normal" fill="#000" stroke="#000" stroke-width="0.14">0.2</text>
<text x="34.7" y="89.42" text-anchor="end" font-size="8.4" font-weight="normal" fill="#000" stroke="#000" stroke-width="0.14">0.4</text>
<text x="34.7" y="66.82" text-anchor="end" font-size="8.4" font-weight="normal" fill="#000" stroke="#000" stroke-width="0.14">0.6</text>
<text x="34.7" y="44.22" text-anchor="end" font-size="8.4" font-weight="normal" fill="#000" stroke="#000" stroke-width="0.14">0.8</text>
<text x="34.7" y="21.62" text-anchor="end" font-size="8.4" font-weight="normal" fill="#000" stroke="#000" stroke-width="0.14">1.0</text>
<text x="123.5" y="167.42" text-anchor="middle" font-size="8.4" font-weight="normal" fill="#000" stroke="#000" stroke-width="0.14">Energy (eV)</text>
<text x="14.3" y="74.8" text-anchor="middle" font-size="8.4" font-weight="normal" fill="#000" stroke="#000" stroke-width="0.14" transform="rotate(-90 14.3 74.8)">Cavity transmission (a.u.)</text>
<text x="0" y="7.4" text-anchor="start" font-size="10" font-weight="bold" fill="#000">a</text>
<path d="M38.12,219.44 L38.63,219.44 L39.15,219.44 L39.66,219.44 L40.18,219.43 L40.69,219.43 L41.21,219.43 L41.72,219.43 L42.24,219.42 L42.75,219.42 L43.27,219.42 L43.78,219.42 L44.3,219.41 L44.81,219.41 L45.33,219.41 L45.84,219.4 L46.35,219.4 L46.87,219.39 L47.38,219.39 L47.9,219.39 L48.41,219.38 L48.93,219.38 L49.44,219.37 L49.96,219.37 L50.47,219.36 L50.99,219.35 L51.5,219.35 L52.02,219.34 L52.53,219.34 L53.05,219.33 L53.56,219.32 L54.08,219.31 L54.59,219.31 L55.11,219.3 L55.62,219.29 L56.14,219.28 L56.65,219.27 L57.17,219.27 L57.68,219.26 L58.2,219.25 L58.71,219.24 L59.22,219.23 L59.74,219.22 L60.25,219.2 L60.77,219.19 L61.28,219.18 L61.8,219.17 L62.31,219.16 L62.83,219.15 L63.34,219.13 L63.86,219.12 L64.37,219.11 L64.89,219.09 L65.4,219.08 L65.92,219.06 L66.43,219.05 L66.95,219.03 L67.46,219.02 L67.98,219 L68.49,218.99 L69.01,218.97 L69.52,218.95 L70.04,218.94 L70.55,218.92 L71.07,218.9 L71.58,218.88 L72.09,218.86 L72.61,218.84 L73.12,218.82 L73.64,218.8 L74.15,218.78 L74.67,218.76 L75.18,218.74 L75.7,218.71 L76.21,218.69 L76.73,218.66 L77.24,218.63 L77.76,218.6 L78.27,218.57 L78.79,218.53 L79.3,218.51 L79.82,218.12 L80.33,218.16 L80.85,218.1 L81.36,218.18 L81.88,218.12 L82.39,218.48 L82.91,218.47 L83.42,218.31 L83.94,217.72 L84.45,217.47 L84.96,217.45 L85.48,217.67 L85.99,217.49 L86.51,217.39 L87.02,217.05 L87.54,216.66 L88.05,216.08 L88.57,215.7 L89.08,215.66 L89.6,215.6 L90.11,215.11 L90.63,214.33 L91.14,213.86 L91.66,213.55 L92.17,213.22 L92.69,212.39 L93.2,211.85 L93.72,211.38 L94.23,210.88 L94.75,210.33 L95.26,209.7 L95.78,209.46 L96.29,209.4 L96.81,209.01 L97.32,208.51 L97.83,207.61 L98.35,207.02 L98.86,206.44 L99.38,206.32 L99.89,206.28 L100.41,206.1 L100.92,206.2 L101.44,206.21 L101.95,206.49 L102.47,206.63 L102.98,206.91 L103.5,207.53 L104.01,207.88 L104.53,208.72 L105.04,209.23 L105.56,210.06 L106.07,210.38 L106.59,210.94 L107.1,211.3 L107.62,212.05 L108.13,212.25 L108.65,212.46 L109.16,212.71 L109.68,213.06 L110.19,213.66 L110.7,213.75 L111.22,214.33 L111.73,214.97 L112.25,215.37 L112.76,215.67 L113.28,215.83 L113.79,216.37 L114.31,216.79 L114.82,216.82 L115.34,217.03 L115.85,216.69 L116.37,216.68 L116.88,216.86 L117.4,217.39 L117.91,217.64 L118.43,217.74 L118.94,217.57 L119.46,217.53 L119.97,217.39 L120.49,217.48 L121,217.41 L121.52,217.09 L122.03,216.79 L122.55,216.86 L123.06,216.95 L123.57,217.27 L124.09,217.2 L124.6,217.46 L125.12,217.22 L125.63,217.44 L126.15,217.42 L126.66,217.49 L127.18,217.19 L127.69,217.22 L128.21,217.26 L128.72,217.28 L129.24,216.98 L129.75,216.98 L130.27,216.94 L130.78,216.97 L131.3,216.59 L131.81,216.49 L132.33,216.62 L132.84,217.14 L133.36,217.2 L133.87,216.82 L134.39,216.48 L134.9,216.39 L135.42,216.68 L135.93,216.97 L136.44,217.06 L136.96,217.05 L137.47,216.83 L137.99,217.24 L138.5,217.33 L139.02,217.62 L139.53,217.39 L140.05,217.6 L140.56,217.7 L141.08,218 L141.59,217.81 L142.11,217.8 L142.62,217.91 L143.14,218.33 L143.65,218.56 L144.17,218.28 L144.68,218.46 L145.2,218.48 L145.71,218.65 L146.23,218.24 L146.74,218.16 L147.26,218.17 L147.77,218.25 L148.29,218.1 L148.8,218.22 L149.31,218.5 L149.83,218.51 L150.34,218.52 L150.86,218.53 L151.37,218.54 L151.89,218.55 L152.4,218.56 L152.92,218.58 L153.43,218.59 L153.95,218.62 L154.46,218.64 L154.98,218.67 L155.49,218.71 L156.01,218.74 L156.52,218.78 L157.04,218.82 L157.55,218.86 L158.07,218.91 L158.58,218.95 L159.1,218.99 L159.61,219.03 L160.13,219.07 L160.64,219.11 L161.16,219.14 L161.67,219.18 L162.18,219.21 L162.7,219.23 L163.21,219.26 L163.73,219.28 L164.24,219.3 L164.76,219.31 L165.27,219.33 L165.79,219.34 L166.3,219.35 L166.82,219.36 L167.33,219.37 L167.85,219.38 L168.36,219.39 L168.88,219.4 L169.39,219.4 L169.91,219.41 L170.42,219.41 L170.94,219.42 L171.45,219.42 L171.97,219.43 L172.48,219.43 L173,219.43 L173.51,219.44 L174.03,219.44 L174.54,219.44 L175.05,219.44 L175.57,219.45 L176.08,219.45 L176.6,219.45 L177.11,219.45 L177.63,219.45 L178.14,219.46 L178.66,219.46 L179.17,219.46 L179.69,219.46 L180.2,219.46 L180.72,219.46 L181.23,219.46 L181.75,219.46 L182.26,219.47 L182.78,219.47 L183.29,219.47 L183.81,219.47 L184.32,219.47 L184.84,219.47 L185.35,219.47 L185.87,219.47 L186.38,219.47 L186.9,219.47 L187.41,219.47 L187.92,219.47 L188.44,219.47 L188.95,219.47 L189.47,219.47 L189.98,219.47 L190.5,219.47 L191.01,219.48 L191.53,219.48 L192.04,219.48 L192.56,219.48 L193.07,219.48 L193.59,219.48 L194.1,219.48 L194.62,219.48 L195.13,219.48 L195.65,219.48 L196.16,219.48 L196.68,219.48 L197.19,219.48 L197.71,219.48 L198.22,219.48 L198.74,219.48 L199.25,219.48 L199.77,219.48 L200.28,219.48 L200.79,219.48 L201.31,219.48 L201.82,219.48 L202.34,219.48 L202.85,219.48 L203.37,219.48 L203.88,219.48 L204.4,219.48 L204.91,219.48 L205.43,219.48 L205.94,219.48 L206.46,219.48 L206.97,219.48 L207.49,219.48 L208,219.48 M38.12,223.61 L38.63,223.61 L39.15,223.61 L39.66,223.6 L40.18,223.6 L40.69,223.6 L41.21,223.6 L41.72,223.59 L42.24,223.59 L42.75,223.59 L43.27,223.59 L43.78,223.58 L44.3,223.58 L44.81,223.58 L45.33,223.57 L45.84,223.57 L46.35,223.57 L46.87,223.56 L47.38,223.56 L47.9,223.55 L48.41,223.55 L48.93,223.54 L49.44,223.54 L49.96,223.53 L50.47,223.53 L50.99,223.52 L51.5,223.52 L52.02,223.51 L52.53,223.5 L53.05,223.5 L53.56,223.49 L54.08,223.48 L54.59,223.48 L55.11,223.47 L55.62,223.46 L56.14,223.45 L56.65,223.44 L57.17,223.43 L57.68,223.43 L58.2,223.42 L58.71,223.41 L59.22,223.4 L59.74,223.39 L60.25,223.37 L60.77,223.36 L61.28,223.35 L61.8,223.34 L62.31,223.33 L62.83,223.32 L63.34,223.3 L63.86,223.29 L64.37,223.28 L64.89,223.26 L65.4,223.25 L65.92,223.24 L66.43,223.22 L66.95,223.21 L67.46,223.19 L67.98,223.17 L68.49,223.16 L69.01,223.14 L69.52,223.13 L70.04,223.11 L70.55,223.09 L71.07,223.07 L71.58,223.06 L72.09,223.04 L72.61,223.02 L73.12,223 L73.64,222.98 L74.15,222.96 L74.67,222.94 L75.18,222.91 L75.7,222.89 L76.21,222.87 L76.73,222.84 L77.24,222.81 L77.76,222.79 L78.27,222.75 L78.79,222.72 L79.3,222.68 L79.82,222.53 L80.33,222.36 L80.85,222.36 L81.36,222.32 L81.88,222.16 L82.39,222.33 L82.91,222.59 L83.42,222.41 L83.94,222.02 L84.45,222.02 L84.96,222.29 L85.48,222.19 L85.99,221.86 L86.51,221.4 L87.02,221.18 L87.54,220.73 L88.05,220.72 L88.57,220.36 L89.08,219.83 L89.6,219.44 L90.11,218.97 L90.63,218.73 L91.14,218.09 L91.66,217.86 L92.17,217.72 L92.69,217.46 L93.2,216.83 L93.72,215.99 L94.23,215.14 L94.75,214.57 L95.26,214.05 L95.78,213.77 L96.29,213.58 L96.81,213.19 L97.32,212.58 L97.83,211.96 L98.35,211.85 L98.86,211.69 L99.38,211.68 L99.89,211.26 L100.41,211.26 L100.92,211.07 L101.44,211.13 L101.95,211.12 L102.47,211.13 L102.98,211.66 L103.5,212.37 L104.01,212.85 L104.53,212.92 L105.04,212.86 L105.56,213.45 L106.07,214.08 L106.59,214.79 L107.1,215.53 L107.62,216.2 L108.13,216.62 L108.65,216.99 L109.16,217.06 L109.68,217.79 L110.19,218.18 L110.7,218.67 L111.22,218.88 L111.73,219.31 L112.25,219.97 L112.76,220.26 L113.28,220.1 L113.79,220.06 L114.31,220.06 L114.82,220.54 L115.34,220.62 L115.85,220.81 L116.37,220.98 L116.88,221.27 L117.4,221.34 L117.91,221.1 L118.43,221.1 L118.94,221.1 L119.46,221.01 L119.97,221.15 L120.49,221.43 L121,221.61 L121.52,221.43 L122.03,221.27 L122.55,221.37 L123.06,221.48 L123.57,221.38 L124.09,221.46 L124.6,221.27 L125.12,221.5 L125.63,221.54 L126.15,221.61 L126.66,221.47 L127.18,221.2 L127.69,221.17 L128.21,221.14 L128.72,221.16 L129.24,221.17 L129.75,221.27 L130.27,221.41 L130.78,221.4 L131.3,221.18 L131.81,220.95 L132.33,220.65 L132.84,220.46 L133.36,220.19 L133.87,220.13 L134.39,220.24 L134.9,220.29 L135.42,220.34 L135.93,220.43 L136.44,220.7 L136.96,220.8 L137.47,220.78 L137.99,220.78 L138.5,220.99 L139.02,221.03 L139.53,221.34 L140.05,221.45 L140.56,221.71 L141.08,221.67 L141.59,222.08 L142.11,222.07 L142.62,222.07 L143.14,221.82 L143.65,221.95 L144.17,222.12 L144.68,222.4 L145.2,222.57 L145.71,222.75 L146.23,222.69 L146.74,222.45 L147.26,222.56 L147.77,222.41 L148.29,222.81 L148.8,222.81 L149.31,222.98 L149.83,222.57 L150.34,222.56 L150.86,222.88 L151.37,222.67 L151.89,222.68 L152.4,222.69 L152.92,222.7 L153.43,222.72 L153.95,222.74 L154.46,222.77 L154.98,222.8 L155.49,222.83 L156.01,222.87 L156.52,222.91 L157.04,222.95 L157.55,223 L158.07,223.04 L158.58,223.09 L159.1,223.13 L159.61,223.18 L160.13,223.22 L160.64,223.26 L161.16,223.3 L161.67,223.33 L162.18,223.36 L162.7,223.39 L163.21,223.42 L163.73,223.44 L164.24,223.46 L164.76,223.48 L165.27,223.49 L165.79,223.51 L166.3,223.52 L166.82,223.53 L167.33,223.54 L167.85,223.55 L168.36,223.55 L168.88,223.56 L169.39,223.57 L169.91,223.57 L170.42,223.58 L170.94,223.58 L171.45,223.59 L171.97,223.59 L172.48,223.59 L173,223.6 L173.51,223.6 L174.03,223.6 L174.54,223.61 L175.05,223.61 L175.57,223.61 L176.08,223.61 L176.6,223.61 L177.11,223.62 L177.63,223.62 L178.14,223.62 L178.66,223.62 L179.17,223.62 L179.69,223.62 L180.2,223.63 L180.72,223.63 L181.23,223.63 L181.75,223.63 L182.26,223.63 L182.78,223.63 L183.29,223.63 L183.81,223.63 L184.32,223.63 L184.84,223.63 L185.35,223.63 L185.87,223.64 L186.38,223.64 L186.9,223.64 L187.41,223.64 L187.92,223.64 L188.44,223.64 L188.95,223.64 L189.47,223.64 L189.98,223.64 L190.5,223.64 L191.01,223.64 L191.53,223.64 L192.04,223.64 L192.56,223.64 L193.07,223.64 L193.59,223.64 L194.1,223.64 L194.62,223.64 L195.13,223.64 L195.65,223.64 L196.16,223.64 L196.68,223.64 L197.19,223.64 L197.71,223.64 L198.22,223.64 L198.74,223.64 L199.25,223.64 L199.77,223.65 L200.28,223.65 L200.79,223.65 L201.31,223.65 L201.82,223.65 L202.34,223.65 L202.85,223.65 L203.37,223.65 L203.88,223.65 L204.4,223.65 L204.91,223.65 L205.43,223.65 L205.94,223.65 L206.46,223.65 L206.97,223.65 L207.49,223.65 L208,223.65 M38.12,227.78 L38.63,227.77 L39.15,227.77 L39.66,227.77 L40.18,227.77 L40.69,227.77 L41.21,227.76 L41.72,227.76 L42.24,227.76 L42.75,227.76 L43.27,227.75 L43.78,227.75 L44.3,227.75 L44.81,227.74 L45.33,227.74 L45.84,227.74 L46.35,227.73 L46.87,227.73 L47.38,227.72 L47.9,227.72 L48.41,227.72 L48.93,227.71 L49.44,227.71 L49.96,227.7 L50.47,227.7 L50.99,227.69 L51.5,227.68 L52.02,227.68 L52.53,227.67 L53.05,227.67 L53.56,227.66 L54.08,227.65 L54.59,227.64 L55.11,227.64 L55.62,227.63 L56.14,227.62 L56.65,227.61 L57.17,227.6 L57.68,227.59 L58.2,227.58 L58.71,227.57 L59.22,227.56 L59.74,227.55 L60.25,227.54 L60.77,227.53 L61.28,227.52 L61.8,227.51 L62.31,227.5 L62.83,227.49 L63.34,227.47 L63.86,227.46 L64.37,227.45 L64.89,227.43 L65.4,227.42 L65.92,227.41 L66.43,227.39 L66.95,227.38 L67.46,227.36 L67.98,227.35 L68.49,227.33 L69.01,227.32 L69.52,227.3 L70.04,227.28 L70.55,227.27 L71.07,227.25 L71.58,227.23 L72.09,227.21 L72.61,227.19 L73.12,227.17 L73.64,227.16 L74.15,227.14 L74.67,227.11 L75.18,227.09 L75.7,227.07 L76.21,227.05 L76.73,227.02 L77.24,227 L77.76,226.97 L78.27,226.94 L78.79,226.91 L79.3,226.88 L79.82,226.84 L80.33,226.76 L80.85,226.45 L81.36,226.45 L81.88,226.63 L82.39,226.61 L82.91,226.45 L83.42,226.47 L83.94,226.35 L84.45,226.25 L84.96,225.66 L85.48,225.81 L85.99,225.94 L86.51,225.9 L87.02,225.81 L87.54,225.52 L88.05,225.56 L88.57,225.19 L89.08,225.08 L89.6,224.64 L90.11,224.01 L90.63,223.29 L91.14,222.81 L91.66,222.59 L92.17,222.01 L92.69,221.54 L93.2,220.85 L93.72,220.81 L94.23,220.33 L94.75,220.14 L95.26,219.35 L95.78,218.86 L96.29,218.35 L96.81,217.89 L97.32,217.29 L97.83,216.62 L98.35,216.17 L98.86,216.15 L99.38,216.06 L99.89,216.12 L100.41,215.85 L100.92,215.54 L101.44,215.35 L101.95,215.5 L102.47,216.04 L102.98,216.31 L103.5,216.67 L104.01,217.16 L104.53,217.9 L105.04,218.36 L105.56,218.68 L106.07,218.65 L106.59,219.08 L107.1,219.59 L107.62,220.39 L108.13,220.62 L108.65,221.06 L109.16,221.31 L109.68,221.91 L110.19,221.94 L110.7,222.35 L111.22,222.82 L111.73,223.28 L112.25,223.64 L112.76,223.7 L113.28,224.03 L113.79,223.97 L114.31,224.32 L114.82,224.42 L115.34,224.96 L115.85,225.06 L116.37,225.24 L116.88,225.21 L117.4,225.18 L117.91,225.33 L118.43,225.54 L118.94,225.56 L119.46,225.56 L119.97,225.57 L120.49,225.58 L121,225.44 L121.52,225.74 L122.03,225.98 L122.55,225.97 L123.06,225.45 L123.57,225.46 L124.09,225.32 L124.6,225.54 L125.12,225.47 L125.63,225.65 L126.15,225.49 L126.66,225.29 L127.18,225.11 L127.69,225.06 L128.21,224.91 L128.72,225.1 L129.24,225.05 L129.75,224.93 L130.27,224.75 L130.78,224.48 L131.3,224.74 L131.81,224.73 L132.33,224.85 L132.84,224.71 L133.36,224.68 L133.87,224.64 L134.39,224.57 L134.9,224.35 L135.42,224.37 L135.93,224.42 L136.44,224.54 L136.96,224.8 L137.47,225.23 L137.99,225.23 L138.5,224.99 L139.02,224.87 L139.53,225.18 L140.05,225.64 L140.56,225.98 L141.08,226.1 L141.59,226.3 L142.11,226.06 L142.62,226.31 L143.14,226.14 L143.65,226.08 L144.17,225.77 L144.68,225.92 L145.2,226.12 L145.71,226.6 L146.23,226.7 L146.74,226.84 L147.26,226.51 L147.77,226.53 L148.29,226.53 L148.8,226.73 L149.31,226.84 L149.83,226.95 L150.34,226.75 L150.86,226.58 L151.37,226.49 L151.89,226.6 L152.4,226.71 L152.92,226.61 L153.43,226.84 L153.95,226.86 L154.46,226.89 L154.98,226.92 L155.49,226.96 L156.01,227 L156.52,227.04 L157.04,227.09 L157.55,227.13 L158.07,227.18 L158.58,227.23 L159.1,227.28 L159.61,227.32 L160.13,227.37 L160.64,227.41 L161.16,227.45 L161.67,227.48 L162.18,227.52 L162.7,227.55 L163.21,227.57 L163.73,227.6 L164.24,227.62 L164.76,227.64 L165.27,227.65 L165.79,227.67 L166.3,227.68 L166.82,227.69 L167.33,227.7 L167.85,227.71 L168.36,227.72 L168.88,227.72 L169.39,227.73 L169.91,227.74 L170.42,227.74 L170.94,227.75 L171.45,227.75 L171.97,227.75 L172.48,227.76 L173,227.76 L173.51,227.76 L174.03,227.77 L174.54,227.77 L175.05,227.77 L175.57,227.77 L176.08,227.78 L176.6,227.78 L177.11,227.78 L177.63,227.78 L178.14,227.78 L178.66,227.79 L179.17,227.79 L179.69,227.79 L180.2,227.79 L180.72,227.79 L181.23,227.79 L181.75,227.79 L182.26,227.79 L182.78,227.8 L183.29,227.8 L183.81,227.8 L184.32,227.8 L184.84,227.8 L185.35,227.8 L185.87,227.8 L186.38,227.8 L186.9,227.8 L187.41,227.8 L187.92,227.8 L188.44,227.8 L188.95,227.8 L189.47,227.8 L189.98,227.8 L190.5,227.8 L191.01,227.8 L191.53,227.81 L192.04,227.81 L192.56,227.81 L193.07,227.81 L193.59,227.81 L194.1,227.81 L194.62,227.81 L195.13,227.81 L195.65,227.81 L196.16,227.81 L196.68,227.81 L197.19,227.81 L197.71,227.81 L198.22,227.81 L198.74,227.81 L199.25,227.81 L199.77,227.81 L200.28,227.81 L200.79,227.81 L201.31,227.81 L201.82,227.81 L202.34,227.81 L202.85,227.81 L203.37,227.81 L203.88,227.81 L204.4,227.81 L204.91,227.81 L205.43,227.81 L205.94,227.81 L206.46,227.81 L206.97,227.81 L207.49,227.81 L208,227.81 M38.12,231.94 L38.63,231.94 L39.15,231.94 L39.66,231.94 L40.18,231.93 L40.69,231.93 L41.21,231.93 L41.72,231.93 L42.24,231.93 L42.75,231.92 L43.27,231.92 L43.78,231.92 L44.3,231.91 L44.81,231.91 L45.33,231.91 L45.84,231.9 L46.35,231.9 L46.87,231.9 L47.38,231.89 L47.9,231.89 L48.41,231.88 L48.93,231.88 L49.44,231.87 L49.96,231.87 L50.47,231.86 L50.99,231.86 L51.5,231.85 L52.02,231.85 L52.53,231.84 L53.05,231.83 L53.56,231.83 L54.08,231.82 L54.59,231.81 L55.11,231.8 L55.62,231.8 L56.14,231.79 L56.65,231.78 L57.17,231.77 L57.68,231.76 L58.2,231.75 L58.71,231.74 L59.22,231.73 L59.74,231.72 L60.25,231.71 L60.77,231.7 L61.28,231.69 L61.8,231.68 L62.31,231.67 L62.83,231.66 L63.34,231.64 L63.86,231.63 L64.37,231.62 L64.89,231.6 L65.4,231.59 L65.92,231.58 L66.43,231.56 L66.95,231.55 L67.46,231.53 L67.98,231.52 L68.49,231.5 L69.01,231.49 L69.52,231.47 L70.04,231.46 L70.55,231.44 L71.07,231.42 L71.58,231.4 L72.09,231.39 L72.61,231.37 L73.12,231.35 L73.64,231.33 L74.15,231.31 L74.67,231.29 L75.18,231.27 L75.7,231.25 L76.21,231.23 L76.73,231.2 L77.24,231.18 L77.76,231.15 L78.27,231.13 L78.79,231.1 L79.3,231.07 L79.82,231.03 L80.33,231.34 L80.85,231.22 L81.36,231.05 L81.88,231.01 L82.39,230.94 L82.91,230.76 L83.42,230.44 L83.94,230.23 L84.45,230.38 L84.96,230.1 L85.48,230.24 L85.99,229.73 L86.51,229.85 L87.02,229.67 L87.54,229.89 L88.05,229.67 L88.57,229.4 L89.08,229.11 L89.6,228.82 L90.11,228.33 L90.63,227.76 L91.14,227.41 L91.66,226.94 L92.17,226.81 L92.69,226.49 L93.2,226.4 L93.72,225.69 L94.23,225.29 L94.75,224.85 L95.26,224.25 L95.78,223.27 L96.29,222.38 L96.81,222.32 L97.32,222.12 L97.83,221.77 L98.35,221.15 L98.86,221.06 L99.38,220.95 L99.89,221 L100.41,220.79 L100.92,220.35 L101.44,220 L101.95,220.12 L102.47,220.82 L102.98,221.09 L103.5,221.24 L104.01,221.27 L104.53,221.81 L105.04,222.16 L105.56,222.65 L106.07,223.16 L106.59,223.88 L107.1,224.56 L107.62,224.97 L108.13,225.17 L108.65,225.44 L109.16,225.77 L109.68,226.07 L110.19,226.58 L110.7,226.73 L111.22,226.85 L111.73,226.98 L112.25,227.45 L112.76,227.83 L113.28,228.03 L113.79,228.25 L114.31,228.66 L114.82,229.04 L115.34,229.39 L115.85,229.4 L116.37,229.23 L116.88,229.31 L117.4,229.51 L117.91,229.73 L118.43,229.69 L118.94,229.85 L119.46,229.98 L119.97,230.24 L120.49,230.16 L121,230.16 L121.52,229.56 L122.03,229.41 L122.55,229.42 L123.06,229.73 L123.57,229.59 L124.09,229.28 L124.6,229.22 L125.12,229.47 L125.63,229.88 L126.15,229.91 L126.66,229.87 L127.18,229.7 L127.69,229.33 L128.21,229.51 L128.72,229.34 L129.24,229.46 L129.75,229.03 L130.27,228.67 L130.78,228.85 L131.3,228.95 L131.81,229.1 L132.33,228.8 L132.84,228.68 L133.36,228.76 L133.87,228.58 L134.39,228.67 L134.9,228.64 L135.42,228.61 L135.93,228.24 L136.44,228.1 L136.96,228.53 L137.47,229.02 L137.99,229.41 L138.5,229.57 L139.02,229.64 L139.53,229.45 L140.05,229.39 L140.56,229.58 L141.08,230.02 L141.59,230.36 L142.11,230.19 L142.62,230.49 L143.14,230.38 L143.65,230.88 L144.17,230.82 L144.68,231.17 L145.2,230.88 L145.71,230.79 L146.23,230.21 L146.74,230.55 L147.26,230.74 L147.77,231.09 L148.29,230.87 L148.8,230.76 L149.31,231.16 L149.83,231.04 L150.34,230.92 L150.86,230.56 L151.37,230.87 L151.89,230.87 L152.4,231.02 L152.92,230.94 L153.43,231.09 L153.95,230.84 L154.46,231.01 L154.98,231.04 L155.49,231.08 L156.01,231.12 L156.52,231.17 L157.04,231.22 L157.55,231.27 L158.07,231.32 L158.58,231.37 L159.1,231.42 L159.61,231.47 L160.13,231.51 L160.64,231.56 L161.16,231.6 L161.67,231.64 L162.18,231.67 L162.7,231.7 L163.21,231.73 L163.73,231.76 L164.24,231.78 L164.76,231.8 L165.27,231.81 L165.79,231.83 L166.3,231.84 L166.82,231.85 L167.33,231.86 L167.85,231.87 L168.36,231.88 L168.88,231.89 L169.39,231.89 L169.91,231.9 L170.42,231.9 L170.94,231.91 L171.45,231.91 L171.97,231.92 L172.48,231.92 L173,231.92 L173.51,231.93 L174.03,231.93 L174.54,231.93 L175.05,231.94 L175.57,231.94 L176.08,231.94 L176.6,231.94 L177.11,231.94 L177.63,231.95 L178.14,231.95 L178.66,231.95 L179.17,231.95 L179.69,231.95 L180.2,231.95 L180.72,231.96 L181.23,231.96 L181.75,231.96 L182.26,231.96 L182.78,231.96 L183.29,231.96 L183.81,231.96 L184.32,231.96 L184.84,231.96 L185.35,231.96 L185.87,231.96 L186.38,231.96 L186.9,231.97 L187.41,231.97 L187.92,231.97 L188.44,231.97 L188.95,231.97 L189.47,231.97 L189.98,231.97 L190.5,231.97 L191.01,231.97 L191.53,231.97 L192.04,231.97 L192.56,231.97 L193.07,231.97 L193.59,231.97 L194.1,231.97 L194.62,231.97 L195.13,231.97 L195.65,231.97 L196.16,231.97 L196.68,231.97 L197.19,231.97 L197.71,231.97 L198.22,231.97 L198.74,231.97 L199.25,231.97 L199.77,231.97 L200.28,231.97 L200.79,231.98 L201.31,231.98 L201.82,231.98 L202.34,231.98 L202.85,231.98 L203.37,231.98 L203.88,231.98 L204.4,231.98 L204.91,231.98 L205.43,231.98 L205.94,231.98 L206.46,231.98 L206.97,231.98 L207.49,231.98 L208,231.98 M38.12,236.11 L38.63,236.11 L39.15,236.11 L39.66,236.1 L40.18,236.1 L40.69,236.1 L41.21,236.1 L41.72,236.09 L42.24,236.09 L42.75,236.09 L43.27,236.09 L43.78,236.08 L44.3,236.08 L44.81,236.08 L45.33,236.07 L45.84,236.07 L46.35,236.07 L46.87,236.06 L47.38,236.06 L47.9,236.05 L48.41,236.05 L48.93,236.05 L49.44,236.04 L49.96,236.04 L50.47,236.03 L50.99,236.03 L51.5,236.02 L52.02,236.01 L52.53,236.01 L53.05,236 L53.56,235.99 L54.08,235.99 L54.59,235.98 L55.11,235.97 L55.62,235.96 L56.14,235.96 L56.65,235.95 L57.17,235.94 L57.68,235.93 L58.2,235.92 L58.71,235.91 L59.22,235.9 L59.74,235.89 L60.25,235.88 L60.77,235.87 L61.28,235.86 L61.8,235.85 L62.31,235.84 L62.83,235.83 L63.34,235.81 L63.86,235.8 L64.37,235.79 L64.89,235.78 L65.4,235.76 L65.92,235.75 L66.43,235.73 L66.95,235.72 L67.46,235.71 L67.98,235.69 L68.49,235.68 L69.01,235.66 L69.52,235.64 L70.04,235.63 L70.55,235.61 L71.07,235.59 L71.58,235.58 L72.09,235.56 L72.61,235.54 L73.12,235.52 L73.64,235.51 L74.15,235.49 L74.67,235.47 L75.18,235.45 L75.7,235.43 L76.21,235.41 L76.73,235.38 L77.24,235.36 L77.76,235.34 L78.27,235.31 L78.79,235.28 L79.3,235.25 L79.82,235.22 L80.33,235.19 L80.85,234.73 L81.36,234.56 L81.88,234.63 L82.39,234.55 L82.91,234.61 L83.42,234.71 L83.94,234.98 L84.45,235.15 L84.96,234.89 L85.48,234.95 L85.99,234.62 L86.51,234.66 L87.02,234.04 L87.54,233.86 L88.05,233.66 L88.57,233.55 L89.08,233.69 L89.6,233.27 L90.11,232.92 L90.63,232.55 L91.14,232.13 L91.66,231.86 L92.17,231.18 L92.69,231.12 L93.2,230.59 L93.72,230.1 L94.23,229.43 L94.75,229.21 L95.26,228.72 L95.78,228.06 L96.29,227.38 L96.81,226.89 L97.32,226.72 L97.83,226.34 L98.35,226.04 L98.86,225.58 L99.38,224.89 L99.89,224.64 L100.41,224.57 L100.92,224.76 L101.44,224.96 L101.95,224.87 L102.47,224.99 L102.98,225.09 L103.5,225.44 L104.01,225.99 L104.53,226.24 L105.04,226.67 L105.56,226.68 L106.07,227.02 L106.59,227.39 L107.1,228.31 L107.62,228.54 L108.13,228.74 L108.65,228.89 L109.16,229.57 L109.68,230.14 L110.19,230.66 L110.7,230.77 L111.22,231.1 L111.73,231.55 L112.25,232.22 L112.76,232.91 L113.28,232.83 L113.79,232.84 L114.31,232.38 L114.82,232.34 L115.34,232.73 L115.85,233.06 L116.37,233.34 L116.88,233.21 L117.4,233.44 L117.91,233.54 L118.43,233.65 L118.94,233.42 L119.46,233.59 L119.97,233.73 L120.49,234.03 L121,234.1 L121.52,234.19 L122.03,234.17 L122.55,234.03 L123.06,233.84 L123.57,233.57 L124.09,233.46 L124.6,233.4 L125.12,233.73 L125.63,233.77 L126.15,233.63 L126.66,233.6 L127.18,233.78 L127.69,234.02 L128.21,233.9 L128.72,233.69 L129.24,233.59 L129.75,233.28 L130.27,233.32 L130.78,233.09 L131.3,233.12 L131.81,232.99 L132.33,232.72 L132.84,232.56 L133.36,232.27 L133.87,232.42 L134.39,232.29 L134.9,232.27 L135.42,232.26 L135.93,232.67 L136.44,232.71 L136.96,232.67 L137.47,232.48 L137.99,232.7 L138.5,232.92 L139.02,233.07 L139.53,233.41 L140.05,233.59 L140.56,233.72 L141.08,233.81 L141.59,234.1 L142.11,234.01 L142.62,233.95 L143.14,233.98 L143.65,234.44 L144.17,235.03 L144.68,235.29 L145.2,235.33 L145.71,234.81 L146.23,234.97 L146.74,235.08 L147.26,235.03 L147.77,234.65 L148.29,234.51 L148.8,234.63 L149.31,234.76 L149.83,234.86 L150.34,234.93 L150.86,234.79 L151.37,234.93 L151.89,234.82 L152.4,235.22 L152.92,235.17 L153.43,234.96 L153.95,234.8 L154.46,234.62 L154.98,235.17 L155.49,235.2 L156.01,235.25 L156.52,235.29 L157.04,235.34 L157.55,235.4 L158.07,235.45 L158.58,235.5 L159.1,235.56 L159.61,235.61 L160.13,235.66 L160.64,235.71 L161.16,235.75 L161.67,235.79 L162.18,235.83 L162.7,235.86 L163.21,235.89 L163.73,235.91 L164.24,235.94 L164.76,235.96 L165.27,235.98 L165.79,235.99 L166.3,236 L166.82,236.02 L167.33,236.03 L167.85,236.04 L168.36,236.04 L168.88,236.05 L169.39,236.06 L169.91,236.06 L170.42,236.07 L170.94,236.07 L171.45,236.08 L171.97,236.08 L172.48,236.08 L173,236.09 L173.51,236.09 L174.03,236.09 L174.54,236.1 L175.05,236.1 L175.57,236.1 L176.08,236.1 L176.6,236.11 L177.11,236.11 L177.63,236.11 L178.14,236.11 L178.66,236.11 L179.17,236.12 L179.69,236.12 L180.2,236.12 L180.72,236.12 L181.23,236.12 L181.75,236.12 L182.26,236.12 L182.78,236.12 L183.29,236.12 L183.81,236.13 L184.32,236.13 L184.84,236.13 L185.35,236.13 L185.87,236.13 L186.38,236.13 L186.9,236.13 L187.41,236.13 L187.92,236.13 L188.44,236.13 L188.95,236.13 L189.47,236.13 L189.98,236.13 L190.5,236.13 L191.01,236.13 L191.53,236.13 L192.04,236.13 L192.56,236.13 L193.07,236.14 L193.59,236.14 L194.1,236.14 L194.62,236.14 L195.13,236.14 L195.65,236.14 L196.16,236.14 L196.68,236.14 L197.19,236.14 L197.71,236.14 L198.22,236.14 L198.74,236.14 L199.25,236.14 L199.77,236.14 L200.28,236.14 L200.79,236.14 L201.31,236.14 L201.82,236.14 L202.34,236.14 L202.85,236.14 L203.37,236.14 L203.88,236.14 L204.4,236.14 L204.91,236.14 L205.43,236.14 L205.94,236.14 L206.46,236.14 L206.97,236.14 L207.49,236.14 L208,236.14 M38.12,240.28 L38.63,240.27 L39.15,240.27 L39.66,240.27 L40.18,240.27 L40.69,240.27 L41.21,240.26 L41.72,240.26 L42.24,240.26 L42.75,240.26 L43.27,240.25 L43.78,240.25 L44.3,240.25 L44.81,240.24 L45.33,240.24 L45.84,240.24 L46.35,240.23 L46.87,240.23 L47.38,240.23 L47.9,240.22 L48.41,240.22 L48.93,240.21 L49.44,240.21 L49.96,240.2 L50.47,240.2 L50.99,240.19 L51.5,240.19 L52.02,240.18 L52.53,240.17 L53.05,240.17 L53.56,240.16 L54.08,240.15 L54.59,240.15 L55.11,240.14 L55.62,240.13 L56.14,240.12 L56.65,240.12 L57.17,240.11 L57.68,240.1 L58.2,240.09 L58.71,240.08 L59.22,240.07 L59.74,240.06 L60.25,240.05 L60.77,240.04 L61.28,240.03 L61.8,240.02 L62.31,240.01 L62.83,240 L63.34,239.98 L63.86,239.97 L64.37,239.96 L64.89,239.95 L65.4,239.93 L65.92,239.92 L66.43,239.9 L66.95,239.89 L67.46,239.88 L67.98,239.86 L68.49,239.85 L69.01,239.83 L69.52,239.82 L70.04,239.8 L70.55,239.78 L71.07,239.77 L71.58,239.75 L72.09,239.73 L72.61,239.72 L73.12,239.7 L73.64,239.68 L74.15,239.66 L74.67,239.64 L75.18,239.62 L75.7,239.6 L76.21,239.58 L76.73,239.56 L77.24,239.54 L77.76,239.52 L78.27,239.49 L78.79,239.47 L79.3,239.44 L79.82,239.41 L80.33,239.38 L80.85,239.34 L81.36,239.25 L81.88,239.46 L82.39,239.34 L82.91,239.35 L83.42,239.14 L83.94,239.04 L84.45,238.97 L84.96,238.71 L85.48,238.68 L85.99,238.66 L86.51,238.74 L87.02,238.61 L87.54,238.59 L88.05,238.66 L88.57,238.62 L89.08,238.13 L89.6,237.7 L90.11,237.3 L90.63,236.63 L91.14,236.06 L91.66,235.7 L92.17,235.87 L92.69,235.46 L93.2,235.16 L93.72,234.47 L94.23,234.16 L94.75,233.4 L95.26,233.25 L95.78,232.76 L96.29,232.79 L96.81,232.26 L97.32,231.81 L97.83,231.02 L98.35,230.89 L98.86,230.6 L99.38,230.33 L99.89,229.8 L100.41,229.82 L100.92,229.8 L101.44,229.81 L101.95,229.57 L102.47,229.54 L102.98,229.44 L103.5,229.69 L104.01,230.22 L104.53,230.67 L105.04,230.79 L105.56,231.14 L106.07,231.52 L106.59,232.37 L107.1,232.75 L107.62,233.18 L108.13,233.34 L108.65,233.51 L109.16,233.87 L109.68,234.25 L110.19,234.98 L110.7,235.27 L111.22,235.69 L111.73,235.78 L112.25,236.19 L112.76,236.64 L113.28,236.67 L113.79,237 L114.31,237.29 L114.82,237.64 L115.34,237.77 L115.85,237.7 L116.37,237.59 L116.88,237.63 L117.4,237.68 L117.91,237.65 L118.43,237.9 L118.94,237.91 L119.46,238.12 L119.97,237.71 L120.49,237.45 L121,237.74 L121.52,237.89 L122.03,238.24 L122.55,238.2 L123.06,238.39 L123.57,238.58 L124.09,238.43 L124.6,238.17 L125.12,238.07 L125.63,237.95 L126.15,238.09 L126.66,238.01 L127.18,238.44 L127.69,238.11 L128.21,237.75 L128.72,237.3 L129.24,237.42 L129.75,237.61 L130.27,237.36 L130.78,237.19 L131.3,236.79 L131.81,236.73 L132.33,236.82 L132.84,237.03 L133.36,236.9 L133.87,236.87 L134.39,236.55 L134.9,236.45 L135.42,236.39 L135.93,236.36 L136.44,236.55 L136.96,236.37 L137.47,236.67 L137.99,236.81 L138.5,236.98 L139.02,236.76 L139.53,236.82 L140.05,236.97 L140.56,237.62 L141.08,237.84 L141.59,238.18 L142.11,238.16 L142.62,238.31 L143.14,238.2 L143.65,238.23 L144.17,238.35 L144.68,238.61 L145.2,238.59 L145.71,238.83 L146.23,238.88 L146.74,238.93 L147.26,238.87 L147.77,238.79 L148.29,238.88 L148.8,238.57 L149.31,238.54 L149.83,238.94 L150.34,239.24 L150.86,239.37 L151.37,239 L151.89,238.95 L152.4,238.72 L152.92,238.69 L153.43,238.95 L153.95,239.36 L154.46,239.87 L154.98,239.46 L155.49,239.33 L156.01,239.37 L156.52,239.42 L157.04,239.47 L157.55,239.53 L158.07,239.58 L158.58,239.64 L159.1,239.7 L159.61,239.75 L160.13,239.8 L160.64,239.85 L161.16,239.9 L161.67,239.94 L162.18,239.98 L162.7,240.01 L163.21,240.04 L163.73,240.07 L164.24,240.1 L164.76,240.12 L165.27,240.14 L165.79,240.15 L166.3,240.17 L166.82,240.18 L167.33,240.19 L167.85,240.2 L168.36,240.21 L168.88,240.21 L169.39,240.22 L169.91,240.23 L170.42,240.23 L170.94,240.24 L171.45,240.24 L171.97,240.24 L172.48,240.25 L173,240.25 L173.51,240.25 L174.03,240.26 L174.54,240.26 L175.05,240.26 L175.57,240.27 L176.08,240.27 L176.6,240.27 L177.11,240.27 L177.63,240.27 L178.14,240.28 L178.66,240.28 L179.17,240.28 L179.69,240.28 L180.2,240.28 L180.72,240.28 L181.23,240.28 L181.75,240.29 L182.26,240.29 L182.78,240.29 L183.29,240.29 L183.81,240.29 L184.32,240.29 L184.84,240.29 L185.35,240.29 L185.87,240.29 L186.38,240.29 L186.9,240.29 L187.41,240.29 L187.92,240.3 L188.44,240.3 L188.95,240.3 L189.47,240.3 L189.98,240.3 L190.5,240.3 L191.01,240.3 L191.53,240.3 L192.04,240.3 L192.56,240.3 L193.07,240.3 L193.59,240.3 L194.1,240.3 L194.62,240.3 L195.13,240.3 L195.65,240.3 L196.16,240.3 L196.68,240.3 L197.19,240.3 L197.71,240.3 L198.22,240.3 L198.74,240.3 L199.25,240.3 L199.77,240.3 L200.28,240.3 L200.79,240.3 L201.31,240.3 L201.82,240.3 L202.34,240.31 L202.85,240.31 L203.37,240.31 L203.88,240.31 L204.4,240.31 L204.91,240.31 L205.43,240.31 L205.94,240.31 L206.46,240.31 L206.97,240.31 L207.49,240.31 L208,240.31 M38.12,244.44 L38.63,244.44 L39.15,244.44 L39.66,244.44 L40.18,244.43 L40.69,244.43 L41.21,244.43 L41.72,244.43 L42.24,244.43 L42.75,244.42 L43.27,244.42 L43.78,244.42 L44.3,244.41 L44.81,244.41 L45.33,244.41 L45.84,244.4 L46.35,244.4 L46.87,244.4 L47.38,244.39 L47.9,244.39 L48.41,244.38 L48.93,244.38 L49.44,244.38 L49.96,244.37 L50.47,244.37 L50.99,244.36 L51.5,244.35 L52.02,244.35 L52.53,244.34 L53.05,244.34 L53.56,244.33 L54.08,244.32 L54.59,244.32 L55.11,244.31 L55.62,244.3 L56.14,244.29 L56.65,244.28 L57.17,244.28 L57.68,244.27 L58.2,244.26 L58.71,244.25 L59.22,244.24 L59.74,244.23 L60.25,244.22 L60.77,244.21 L61.28,244.2 L61.8,244.19 L62.31,244.18 L62.83,244.16 L63.34,244.15 L63.86,244.14 L64.37,244.13 L64.89,244.12 L65.4,244.1 L65.92,244.09 L66.43,244.08 L66.95,244.06 L67.46,244.05 L67.98,244.03 L68.49,244.02 L69.01,244 L69.52,243.99 L70.04,243.97 L70.55,243.96 L71.07,243.94 L71.58,243.92 L72.09,243.91 L72.61,243.89 L73.12,243.87 L73.64,243.86 L74.15,243.84 L74.67,243.82 L75.18,243.8 L75.7,243.78 L76.21,243.76 L76.73,243.74 L77.24,243.72 L77.76,243.7 L78.27,243.67 L78.79,243.65 L79.3,243.62 L79.82,243.59 L80.33,243.56 L80.85,243.53 L81.36,243.49 L81.88,243.92 L82.39,243.66 L82.91,243.69 L83.42,243.27 L83.94,243.29 L84.45,242.49 L84.96,242.44 L85.48,242.5 L85.99,242.83 L86.51,242.66 L87.02,242.31 L87.54,242.13 L88.05,242.16 L88.57,242.51 L89.08,242.38 L89.6,242.14 L90.11,241.36 L90.63,241.35 L91.14,240.93 L91.66,240.96 L92.17,240.57 L92.69,240 L93.2,239.49 L93.72,239 L94.23,238.75 L94.75,238.49 L95.26,238.09 L95.78,237.88 L96.29,237.03 L96.81,236.49 L97.32,235.88 L97.83,235.62 L98.35,235.32 L98.86,235.09 L99.38,235.2 L99.89,234.83 L100.41,234.55 L100.92,234.21 L101.44,234.01 L101.95,234.3 L102.47,234.22 L102.98,234.73 L103.5,234.8 L104.01,235.12 L104.53,234.98 L105.04,235.3 L105.56,235.76 L106.07,236.53 L106.59,236.41 L107.1,236.57 L107.62,236.72 L108.13,237.11 L108.65,237.55 L109.16,238.32 L109.68,239.09 L110.19,239.68 L110.7,239.37 L111.22,239.84 L111.73,239.91 L112.25,240.58 L112.76,240.69 L113.28,240.97 L113.79,241.13 L114.31,241.36 L114.82,241.73 L115.34,241.97 L115.85,242.16 L116.37,242.23 L116.88,242.21 L117.4,242.16 L117.91,242.02 L118.43,242.14 L118.94,241.87 L119.46,242.1 L119.97,242.25 L120.49,242.42 L121,242.43 L121.52,242.26 L122.03,242.27 L122.55,242.17 L123.06,242.23 L123.57,242.21 L124.09,242.11 L124.6,242.1 L125.12,242.39 L125.63,242.45 L126.15,242.55 L126.66,242.43 L127.18,242.45 L127.69,242.05 L128.21,241.69 L128.72,241.51 L129.24,241.5 L129.75,241.66 L130.27,241.64 L130.78,241.5 L131.3,241.1 L131.81,240.68 L132.33,240.39 L132.84,240.39 L133.36,240.78 L133.87,240.64 L134.39,240.32 L134.9,239.71 L135.42,239.7 L135.93,239.76 L136.44,239.54 L136.96,239.71 L137.47,239.75 L137.99,240.18 L138.5,240.28 L139.02,240.72 L139.53,241.08 L140.05,241.55 L140.56,241.62 L141.08,241.81 L141.59,242 L142.11,242.39 L142.62,242.69 L143.14,242.41 L143.65,242.47 L144.17,242.4 L144.68,242.96 L145.2,243.19 L145.71,243.13 L146.23,243.05 L146.74,242.92 L147.26,242.85 L147.77,242.53 L148.29,242.49 L148.8,242.72 L149.31,243.02 L149.83,243.18 L150.34,242.95 L150.86,243.18 L151.37,243.16 L151.89,243.78 L152.4,243.8 L152.92,243.73 L153.43,243.38 L153.95,243.15 L154.46,243.3 L154.98,243.51 L155.49,243.69 L156.01,243.49 L156.52,243.55 L157.04,243.6 L157.55,243.66 L158.07,243.72 L158.58,243.78 L159.1,243.84 L159.61,243.89 L160.13,243.95 L160.64,244 L161.16,244.05 L161.67,244.09 L162.18,244.13 L162.7,244.17 L163.21,244.2 L163.73,244.23 L164.24,244.26 L164.76,244.28 L165.27,244.3 L165.79,244.31 L166.3,244.33 L166.82,244.34 L167.33,244.35 L167.85,244.36 L168.36,244.37 L168.88,244.38 L169.39,244.38 L169.91,244.39 L170.42,244.39 L170.94,244.4 L171.45,244.4 L171.97,244.41 L172.48,244.41 L173,244.41 L173.51,244.42 L174.03,244.42 L174.54,244.42 L175.05,244.43 L175.57,244.43 L176.08,244.43 L176.6,244.43 L177.11,244.44 L177.63,244.44 L178.14,244.44 L178.66,244.44 L179.17,244.44 L179.69,244.44 L180.2,244.45 L180.72,244.45 L181.23,244.45 L181.75,244.45 L182.26,244.45 L182.78,244.45 L183.29,244.45 L183.81,244.45 L184.32,244.45 L184.84,244.46 L185.35,244.46 L185.87,244.46 L186.38,244.46 L186.9,244.46 L187.41,244.46 L187.92,244.46 L188.44,244.46 L188.95,244.46 L189.47,244.46 L189.98,244.46 L190.5,244.46 L191.01,244.46 L191.53,244.46 L192.04,244.46 L192.56,244.46 L193.07,244.46 L193.59,244.46 L194.1,244.46 L194.62,244.47 L195.13,244.47 L195.65,244.47 L196.16,244.47 L196.68,244.47 L197.19,244.47 L197.71,244.47 L198.22,244.47 L198.74,244.47 L199.25,244.47 L199.77,244.47 L200.28,244.47 L200.79,244.47 L201.31,244.47 L201.82,244.47 L202.34,244.47 L202.85,244.47 L203.37,244.47 L203.88,244.47 L204.4,244.47 L204.91,244.47 L205.43,244.47 L205.94,244.47 L206.46,244.47 L206.97,244.47 L207.49,244.47 L208,244.47 M38.12,248.61 L38.63,248.61 L39.15,248.6 L39.66,248.6 L40.18,248.6 L40.69,248.6 L41.21,248.6 L41.72,248.59 L42.24,248.59 L42.75,248.59 L43.27,248.59 L43.78,248.58 L44.3,248.58 L44.81,248.58 L45.33,248.57 L45.84,248.57 L46.35,248.57 L46.87,248.56 L47.38,248.56 L47.9,248.56 L48.41,248.55 L48.93,248.55 L49.44,248.54 L49.96,248.54 L50.47,248.53 L50.99,248.53 L51.5,248.52 L52.02,248.52 L52.53,248.51 L53.05,248.5 L53.56,248.5 L54.08,248.49 L54.59,248.48 L55.11,248.48 L55.62,248.47 L56.14,248.46 L56.65,248.45 L57.17,248.44 L57.68,248.44 L58.2,248.43 L58.71,248.42 L59.22,248.41 L59.74,248.4 L60.25,248.39 L60.77,248.38 L61.28,248.37 L61.8,248.36 L62.31,248.35 L62.83,248.33 L63.34,248.32 L63.86,248.31 L64.37,248.3 L64.89,248.28 L65.4,248.27 L65.92,248.26 L66.43,248.25 L66.95,248.23 L67.46,248.22 L67.98,248.2 L68.49,248.19 L69.01,248.17 L69.52,248.16 L70.04,248.14 L70.55,248.13 L71.07,248.11 L71.58,248.1 L72.09,248.08 L72.61,248.06 L73.12,248.05 L73.64,248.03 L74.15,248.01 L74.67,247.99 L75.18,247.98 L75.7,247.96 L76.21,247.94 L76.73,247.92 L77.24,247.9 L77.76,247.88 L78.27,247.85 L78.79,247.83 L79.3,247.81 L79.82,247.78 L80.33,247.75 L80.85,247.72 L81.36,247.69 L81.88,247.99 L82.39,247.58 L82.91,247.16 L83.42,247.06 L83.94,246.99 L84.45,247.24 L84.96,247.36 L85.48,247.28 L85.99,246.87 L86.51,246.81 L87.02,246.88 L87.54,247.01 L88.05,246.56 L88.57,246.23 L89.08,246.03 L89.6,246.2 L90.11,246 L90.63,245.97 L91.14,245.63 L91.66,245.51 L92.17,245.04 L92.69,244.65 L93.2,244.16 L93.72,243.24 L94.23,242.89 L94.75,242.46 L95.26,242.66 L95.78,242.53 L96.29,242.05 L96.81,241.22 L97.32,240.72 L97.83,240.51 L98.35,240.27 L98.86,239.76 L99.38,239.8 L99.89,239.54 L100.41,239.35 L100.92,238.69 L101.44,238.88 L101.95,238.67 L102.47,238.63 L102.98,238.67 L103.5,238.87 L104.01,239.32 L104.53,239.52 L105.04,240.02 L105.56,240.3 L106.07,240.67 L106.59,240.7 L107.1,241.04 L107.62,241.49 L108.13,241.83 L108.65,242.09 L109.16,242.13 L109.68,242.71 L110.19,243.03 L110.7,243.53 L111.22,243.98 L111.73,244.37 L112.25,244.6 L112.76,244.69 L113.28,244.81 L113.79,245.31 L114.31,245.48 L114.82,245.91 L115.34,245.84 L115.85,245.95 L116.37,245.94 L116.88,246.1 L117.4,246.14 L117.91,246.24 L118.43,246.05 L118.94,246.03 L119.46,246.12 L119.97,246.47 L120.49,246.67 L121,246.5 L121.52,246.29 L122.03,246.48 L122.55,246.86 L123.06,247.04 L123.57,246.98 L124.09,246.59 L124.6,246.39 L125.12,246.06 L125.63,246.11 L126.15,245.79 L126.66,245.84 L127.18,245.65 L127.69,245.86 L128.21,245.68 L128.72,245.47 L129.24,245.15 L129.75,244.88 L130.27,244.98 L130.78,244.88 L131.3,244.65 L131.81,244.36 L132.33,244.3 L132.84,244.45 L133.36,244.44 L133.87,244.28 L134.39,243.94 L134.9,243.73 L135.42,243.73 L135.93,244.07 L136.44,244.35 L136.96,244.07 L137.47,244.13 L137.99,244.08 L138.5,244.69 L139.02,244.77 L139.53,245.05 L140.05,245.16 L140.56,245.18 L141.08,245.43 L141.59,245.57 L142.11,246 L142.62,245.96 L143.14,246.32 L143.65,246.41 L144.17,246.82 L144.68,247.13 L145.2,247.51 L145.71,247.61 L146.23,247.59 L146.74,247.51 L147.26,247.26 L147.77,247.31 L148.29,247.23 L148.8,247.41 L149.31,247.36 L149.83,247.58 L150.34,247.55 L150.86,247.38 L151.37,247.29 L151.89,247.39 L152.4,247.47 L152.92,247.63 L153.43,247.61 L153.95,247.59 L154.46,247.16 L154.98,247.4 L155.49,247.63 L156.01,247.93 L156.52,247.67 L157.04,247.73 L157.55,247.79 L158.07,247.85 L158.58,247.91 L159.1,247.97 L159.61,248.03 L160.13,248.09 L160.64,248.15 L161.16,248.2 L161.67,248.24 L162.18,248.29 L162.7,248.32 L163.21,248.36 L163.73,248.39 L164.24,248.41 L164.76,248.44 L165.27,248.46 L165.79,248.47 L166.3,248.49 L166.82,248.5 L167.33,248.51 L167.85,248.52 L168.36,248.53 L168.88,248.54 L169.39,248.55 L169.91,248.55 L170.42,248.56 L170.94,248.56 L171.45,248.57 L171.97,248.57 L172.48,248.57 L173,248.58 L173.51,248.58 L174.03,248.58 L174.54,248.59 L175.05,248.59 L175.57,248.59 L176.08,248.59 L176.6,248.6 L177.11,248.6 L177.63,248.6 L178.14,248.6 L178.66,248.6 L179.17,248.61 L179.69,248.61 L180.2,248.61 L180.72,248.61 L181.23,248.61 L181.75,248.61 L182.26,248.61 L182.78,248.62 L183.29,248.62 L183.81,248.62 L184.32,248.62 L184.84,248.62 L185.35,248.62 L185.87,248.62 L186.38,248.62 L186.9,248.62 L187.41,248.62 L187.92,248.62 L188.44,248.62 L188.95,248.62 L189.47,248.62 L189.98,248.63 L190.5,248.63 L191.01,248.63 L191.53,248.63 L192.04,248.63 L192.56,248.63 L193.07,248.63 L193.59,248.63 L194.1,248.63 L194.62,248.63 L195.13,248.63 L195.65,248.63 L196.16,248.63 L196.68,248.63 L197.19,248.63 L197.71,248.63 L198.22,248.63 L198.74,248.63 L199.25,248.63 L199.77,248.63 L200.28,248.63 L200.79,248.63 L201.31,248.63 L201.82,248.63 L202.34,248.63 L202.85,248.63 L203.37,248.63 L203.88,248.64 L204.4,248.64 L204.91,248.64 L205.43,248.64 L205.94,248.64 L206.46,248.64 L206.97,248.64 L207.49,248.64 L208,248.64 M38.12,252.77 L38.63,252.77 L39.15,252.77 L39.66,252.77 L40.18,252.77 L40.69,252.76 L41.21,252.76 L41.72,252.76 L42.24,252.76 L42.75,252.76 L43.27,252.75 L43.78,252.75 L44.3,252.75 L44.81,252.74 L45.33,252.74 L45.84,252.74 L46.35,252.73 L46.87,252.73 L47.38,252.73 L47.9,252.72 L48.41,252.72 L48.93,252.71 L49.44,252.71 L49.96,252.7 L50.47,252.7 L50.99,252.69 L51.5,252.69 L52.02,252.68 L52.53,252.68 L53.05,252.67 L53.56,252.66 L54.08,252.66 L54.59,252.65 L55.11,252.64 L55.62,252.64 L56.14,252.63 L56.65,252.62 L57.17,252.61 L57.68,252.6 L58.2,252.59 L58.71,252.59 L59.22,252.58 L59.74,252.57 L60.25,252.56 L60.77,252.55 L61.28,252.54 L61.8,252.52 L62.31,252.51 L62.83,252.5 L63.34,252.49 L63.86,252.48 L64.37,252.47 L64.89,252.45 L65.4,252.44 L65.92,252.43 L66.43,252.41 L66.95,252.4 L67.46,252.39 L67.98,252.37 L68.49,252.36 L69.01,252.34 L69.52,252.33 L70.04,252.31 L70.55,252.3 L71.07,252.28 L71.58,252.27 L72.09,252.25 L72.61,252.24 L73.12,252.22 L73.64,252.2 L74.15,252.19 L74.67,252.17 L75.18,252.15 L75.7,252.13 L76.21,252.11 L76.73,252.09 L77.24,252.07 L77.76,252.05 L78.27,252.03 L78.79,252.01 L79.3,251.99 L79.82,251.96 L80.33,251.94 L80.85,251.91 L81.36,251.88 L81.88,251.84 L82.39,251.61 L82.91,251.3 L83.42,251.36 L83.94,251.63 L84.45,251.64 L84.96,251.95 L85.48,251.96 L85.99,251.93 L86.51,251.09 L87.02,250.89 L87.54,250.86 L88.05,251.23 L88.57,250.97 L89.08,250.84 L89.6,250.6 L90.11,250.34 L90.63,250.13 L91.14,249.71 L91.66,249.54 L92.17,249.42 L92.69,249.18 L93.2,248.71 L93.72,248.31 L94.23,247.79 L94.75,247.49 L95.26,247.05 L95.78,246.87 L96.29,246.61 L96.81,246.31 L97.32,245.79 L97.83,245.22 L98.35,244.79 L98.86,244.62 L99.38,244.47 L99.89,244.02 L100.41,243.53 L100.92,243.41 L101.44,243.33 L101.95,243.47 L102.47,243.27 L102.98,243.14 L103.5,243.37 L104.01,243.92 L104.53,244.37 L105.04,244.72 L105.56,244.44 L106.07,244.83 L106.59,244.96 L107.1,245.52 L107.62,245.74 L108.13,246.12 L108.65,246.51 L109.16,246.75 L109.68,247.08 L110.19,247.13 L110.7,247.54 L111.22,248.15 L111.73,248.58 L112.25,249.17 L112.76,249.01 L113.28,249.04 L113.79,248.82 L114.31,249.23 L114.82,249.87 L115.34,250.18 L115.85,249.93 L116.37,250.04 L116.88,249.98 L117.4,250.24 L117.91,250.22 L118.43,250.48 L118.94,250.32 L119.46,250.58 L119.97,250.76 L120.49,250.9 L121,250.54 L121.52,250.57 L122.03,250.84 L122.55,251.16 L123.06,250.86 L123.57,250.8 L124.09,250.38 L124.6,250.3 L125.12,250.1 L125.63,250.22 L126.15,250.18 L126.66,250 L127.18,249.93 L127.69,249.86 L128.21,249.74 L128.72,249.62 L129.24,249.36 L129.75,249.34 L130.27,249.28 L130.78,249.22 L131.3,248.78 L131.81,248.26 L132.33,248.35 L132.84,248.39 L133.36,248.53 L133.87,248.2 L134.39,248.19 L134.9,248.07 L135.42,248.05 L135.93,248.03 L136.44,247.99 L136.96,248.17 L137.47,248.42 L137.99,248.76 L138.5,248.92 L139.02,248.84 L139.53,249.05 L140.05,249.11 L140.56,249.42 L141.08,249.37 L141.59,249.57 L142.11,249.64 L142.62,249.96 L143.14,250.13 L143.65,250.35 L144.17,250.73 L144.68,250.86 L145.2,250.87 L145.71,250.75 L146.23,250.95 L146.74,250.97 L147.26,251.04 L147.77,250.87 L148.29,251.56 L148.8,251.59 L149.31,251.87 L149.83,251.47 L150.34,251.32 L150.86,251.27 L151.37,251.37 L151.89,251.98 L152.4,251.85 L152.92,251.63 L153.43,251.2 L153.95,251.42 L154.46,251.6 L154.98,251.5 L155.49,251.38 L156.01,251.17 L156.52,251.47 L157.04,251.86 L157.55,251.92 L158.07,251.98 L158.58,252.05 L159.1,252.11 L159.61,252.18 L160.13,252.24 L160.64,252.29 L161.16,252.34 L161.67,252.39 L162.18,252.44 L162.7,252.48 L163.21,252.51 L163.73,252.54 L164.24,252.57 L164.76,252.59 L165.27,252.62 L165.79,252.63 L166.3,252.65 L166.82,252.66 L167.33,252.67 L167.85,252.68 L168.36,252.69 L168.88,252.7 L169.39,252.71 L169.91,252.71 L170.42,252.72 L170.94,252.72 L171.45,252.73 L171.97,252.73 L172.48,252.74 L173,252.74 L173.51,252.74 L174.03,252.75 L174.54,252.75 L175.05,252.75 L175.57,252.76 L176.08,252.76 L176.6,252.76 L177.11,252.76 L177.63,252.76 L178.14,252.77 L178.66,252.77 L179.17,252.77 L179.69,252.77 L180.2,252.77 L180.72,252.77 L181.23,252.78 L181.75,252.78 L182.26,252.78 L182.78,252.78 L183.29,252.78 L183.81,252.78 L184.32,252.78 L184.84,252.78 L185.35,252.78 L185.87,252.78 L186.38,252.79 L186.9,252.79 L187.41,252.79 L187.92,252.79 L188.44,252.79 L188.95,252.79 L189.47,252.79 L189.98,252.79 L190.5,252.79 L191.01,252.79 L191.53,252.79 L192.04,252.79 L192.56,252.79 L193.07,252.79 L193.59,252.79 L194.1,252.79 L194.62,252.79 L195.13,252.79 L195.65,252.79 L196.16,252.79 L196.68,252.8 L197.19,252.8 L197.71,252.8 L198.22,252.8 L198.74,252.8 L199.25,252.8 L199.77,252.8 L200.28,252.8 L200.79,252.8 L201.31,252.8 L201.82,252.8 L202.34,252.8 L202.85,252.8 L203.37,252.8 L203.88,252.8 L204.4,252.8 L204.91,252.8 L205.43,252.8 L205.94,252.8 L206.46,252.8 L206.97,252.8 L207.49,252.8 L208,252.8 M38.12,256.94 L38.63,256.94 L39.15,256.94 L39.66,256.93 L40.18,256.93 L40.69,256.93 L41.21,256.93 L41.72,256.93 L42.24,256.92 L42.75,256.92 L43.27,256.92 L43.78,256.92 L44.3,256.91 L44.81,256.91 L45.33,256.91 L45.84,256.9 L46.35,256.9 L46.87,256.9 L47.38,256.89 L47.9,256.89 L48.41,256.88 L48.93,256.88 L49.44,256.88 L49.96,256.87 L50.47,256.87 L50.99,256.86 L51.5,256.86 L52.02,256.85 L52.53,256.84 L53.05,256.84 L53.56,256.83 L54.08,256.82 L54.59,256.82 L55.11,256.81 L55.62,256.8 L56.14,256.8 L56.65,256.79 L57.17,256.78 L57.68,256.77 L58.2,256.76 L58.71,256.75 L59.22,256.74 L59.74,256.73 L60.25,256.72 L60.77,256.71 L61.28,256.7 L61.8,256.69 L62.31,256.68 L62.83,256.67 L63.34,256.66 L63.86,256.65 L64.37,256.64 L64.89,256.62 L65.4,256.61 L65.92,256.6 L66.43,256.58 L66.95,256.57 L67.46,256.56 L67.98,256.54 L68.49,256.53 L69.01,256.52 L69.52,256.5 L70.04,256.49 L70.55,256.47 L71.07,256.46 L71.58,256.44 L72.09,256.42 L72.61,256.41 L73.12,256.39 L73.64,256.38 L74.15,256.36 L74.67,256.34 L75.18,256.32 L75.7,256.31 L76.21,256.29 L76.73,256.27 L77.24,256.25 L77.76,256.23 L78.27,256.21 L78.79,256.19 L79.3,256.17 L79.82,256.15 L80.33,256.12 L80.85,256.09 L81.36,256.06 L81.88,256.03 L82.39,256 L82.91,256.19 L83.42,256.36 L83.94,256.43 L84.45,256.3 L84.96,256.21 L85.48,256.07 L85.99,256.28 L86.51,256.14 L87.02,255.83 L87.54,255.36 L88.05,255.01 L88.57,255.12 L89.08,254.93 L89.6,254.52 L90.11,254.27 L90.63,254.15 L91.14,254.1 L91.66,253.91 L92.17,253.7 L92.69,253.51 L93.2,253.08 L93.72,252.91 L94.23,252.59 L94.75,252.43 L95.26,251.98 L95.78,251.42 L96.29,250.9 L96.81,250.74 L97.32,250.42 L97.83,250.26 L98.35,249.95 L98.86,249.74 L99.38,249.18 L99.89,248.62 L100.41,248.26 L100.92,247.97 L101.44,247.79 L101.95,247.83 L102.47,247.87 L102.98,248.05 L103.5,248.01 L104.01,248.16 L104.53,248.3 L105.04,248.8 L105.56,249.16 L106.07,249.47 L106.59,249.57 L107.1,249.93 L107.62,250.38 L108.13,250.94 L108.65,251.11 L109.16,251.16 L109.68,251.19 L110.19,251.62 L110.7,251.75 L111.22,252 L111.73,252.27 L112.25,252.69 L112.76,253.05 L113.28,253.17 L113.79,253.46 L114.31,253.56 L114.82,253.82 L115.34,254.08 L115.85,254.22 L116.37,254.18 L116.88,254.35 L117.4,254.6 L117.91,255.01 L118.43,254.8 L118.94,254.81 L119.46,254.56 L119.97,254.84 L120.49,254.71 L121,254.94 L121.52,254.9 L122.03,254.94 L122.55,254.9 L123.06,254.91 L123.57,254.82 L124.09,254.74 L124.6,254.42 L125.12,254.12 L125.63,254.12 L126.15,254.27 L126.66,254.78 L127.18,254.77 L127.69,254.51 L128.21,254.1 L128.72,253.73 L129.24,253.59 L129.75,253.59 L130.27,253.7 L130.78,253.41 L131.3,253.06 L131.81,252.44 L132.33,252.41 L132.84,252.14 L133.36,252.21 L133.87,252.04 L134.39,252.04 L134.9,251.8 L135.42,251.52 L135.93,251.37 L136.44,251.87 L136.96,252.15 L137.47,252.34 L137.99,251.93 L138.5,252.07 L139.02,252.38 L139.53,252.83 L140.05,253.14 L140.56,253.38 L141.08,253.3 L141.59,253.4 L142.11,253.53 L142.62,253.82 L143.14,253.81 L143.65,254.05 L144.17,254.38 L144.68,254.91 L145.2,255.21 L145.71,255.43 L146.23,255.64 L146.74,255.48 L147.26,255.39 L147.77,255.19 L148.29,255.42 L148.8,255.38 L149.31,255.68 L149.83,255.61 L150.34,255.58 L150.86,255.26 L151.37,255.08 L151.89,254.96 L152.4,255 L152.92,255.21 L153.43,255.58 L153.95,255.87 L154.46,255.84 L154.98,255.96 L155.49,255.98 L156.01,256.21 L156.52,256.41 L157.04,256.01 L157.55,256.05 L158.07,256.11 L158.58,256.18 L159.1,256.25 L159.61,256.32 L160.13,256.38 L160.64,256.44 L161.16,256.49 L161.67,256.54 L162.18,256.59 L162.7,256.63 L163.21,256.67 L163.73,256.7 L164.24,256.73 L164.76,256.75 L165.27,256.77 L165.79,256.79 L166.3,256.81 L166.82,256.82 L167.33,256.84 L167.85,256.85 L168.36,256.85 L168.88,256.86 L169.39,256.87 L169.91,256.88 L170.42,256.88 L170.94,256.89 L171.45,256.89 L171.97,256.9 L172.48,256.9 L173,256.9 L173.51,256.91 L174.03,256.91 L174.54,256.91 L175.05,256.92 L175.57,256.92 L176.08,256.92 L176.6,256.92 L177.11,256.93 L177.63,256.93 L178.14,256.93 L178.66,256.93 L179.17,256.93 L179.69,256.93 L180.2,256.94 L180.72,256.94 L181.23,256.94 L181.75,256.94 L182.26,256.94 L182.78,256.94 L183.29,256.94 L183.81,256.94 L184.32,256.95 L184.84,256.95 L185.35,256.95 L185.87,256.95 L186.38,256.95 L186.9,256.95 L187.41,256.95 L187.92,256.95 L188.44,256.95 L188.95,256.95 L189.47,256.95 L189.98,256.95 L190.5,256.95 L191.01,256.95 L191.53,256.96 L192.04,256.96 L192.56,256.96 L193.07,256.96 L193.59,256.96 L194.1,256.96 L194.62,256.96 L195.13,256.96 L195.65,256.96 L196.16,256.96 L196.68,256.96 L197.19,256.96 L197.71,256.96 L198.22,256.96 L198.74,256.96 L199.25,256.96 L199.77,256.96 L200.28,256.96 L200.79,256.96 L201.31,256.96 L201.82,256.96 L202.34,256.96 L202.85,256.96 L203.37,256.96 L203.88,256.96 L204.4,256.96 L204.91,256.96 L205.43,256.96 L205.94,256.97 L206.46,256.97 L206.97,256.97 L207.49,256.97 L208,256.97 M38.12,261.11 L38.63,261.1 L39.15,261.1 L39.66,261.1 L40.18,261.1 L40.69,261.1 L41.21,261.1 L41.72,261.09 L42.24,261.09 L42.75,261.09 L43.27,261.09 L43.78,261.08 L44.3,261.08 L44.81,261.08 L45.33,261.07 L45.84,261.07 L46.35,261.07 L46.87,261.06 L47.38,261.06 L47.9,261.06 L48.41,261.05 L48.93,261.05 L49.44,261.04 L49.96,261.04 L50.47,261.03 L50.99,261.03 L51.5,261.02 L52.02,261.02 L52.53,261.01 L53.05,261 L53.56,261 L54.08,260.99 L54.59,260.99 L55.11,260.98 L55.62,260.97 L56.14,260.96 L56.65,260.96 L57.17,260.95 L57.68,260.94 L58.2,260.93 L58.71,260.92 L59.22,260.91 L59.74,260.9 L60.25,260.89 L60.77,260.88 L61.28,260.87 L61.8,260.86 L62.31,260.85 L62.83,260.84 L63.34,260.83 L63.86,260.82 L64.37,260.8 L64.89,260.79 L65.4,260.78 L65.92,260.77 L66.43,260.75 L66.95,260.74 L67.46,260.73 L67.98,260.71 L68.49,260.7 L69.01,260.69 L69.52,260.67 L70.04,260.66 L70.55,260.64 L71.07,260.63 L71.58,260.61 L72.09,260.6 L72.61,260.58 L73.12,260.56 L73.64,260.55 L74.15,260.53 L74.67,260.51 L75.18,260.5 L75.7,260.48 L76.21,260.46 L76.73,260.45 L77.24,260.43 L77.76,260.41 L78.27,260.39 L78.79,260.37 L79.3,260.35 L79.82,260.33 L80.33,260.3 L80.85,260.28 L81.36,260.25 L81.88,260.22 L82.39,260.19 L82.91,260.16 L83.42,260.11 L83.94,260.1 L84.45,260.07 L84.96,259.92 L85.48,259.9 L85.99,259.92 L86.51,259.81 L87.02,259.66 L87.54,259.34 L88.05,259.23 L88.57,259.09 L89.08,259.07 L89.6,259.28 L90.11,259.52 L90.63,259.39 L91.14,259.03 L91.66,258.45 L92.17,258.38 L92.69,258.03 L93.2,257.93 L93.72,257.57 L94.23,257.3 L94.75,256.91 L95.26,256.46 L95.78,256.12 L96.29,255.75 L96.81,255.35 L97.32,254.95 L97.83,254.73 L98.35,254.58 L98.86,254.3 L99.38,253.97 L99.89,253.58 L100.41,252.87 L100.92,252.41 L101.44,252.25 L101.95,252.43 L102.47,252.44 L102.98,252.25 L103.5,252.17 L104.01,252.49 L104.53,252.49 L105.04,253 L105.56,253.07 L106.07,253.77 L106.59,254.17 L107.1,254.74 L107.62,254.63 L108.13,254.48 L108.65,254.68 L109.16,255.45 L109.68,255.76 L110.19,256.06 L110.7,256.12 L111.22,256.33 L111.73,256.34 L112.25,256.44 L112.76,256.95 L113.28,257.53 L113.79,258.07 L114.31,258.55 L114.82,258.42 L115.34,258.64 L115.85,258.5 L116.37,258.74 L116.88,258.75 L117.4,258.79 L117.91,258.86 L118.43,258.95 L118.94,258.93 L119.46,258.91 L119.97,259.04 L120.49,259.04 L121,259.26 L121.52,259.02 L122.03,259.11 L122.55,258.93 L123.06,259.07 L123.57,259.17 L124.09,259.14 L124.6,259.14 L125.12,258.9 L125.63,258.87 L126.15,258.73 L126.66,258.55 L127.18,258.46 L127.69,258.45 L128.21,258.52 L128.72,258.25 L129.24,257.84 L129.75,257.34 L130.27,257.23 L130.78,256.82 L131.3,256.79 L131.81,256.27 L132.33,256.26 L132.84,256.22 L133.36,256.26 L133.87,256.01 L134.39,255.66 L134.9,255.25 L135.42,255.46 L135.93,255.39 L136.44,255.58 L136.96,255.35 L137.47,255.75 L137.99,255.89 L138.5,256.34 L139.02,256.21 L139.53,256.63 L140.05,256.63 L140.56,257.09 L141.08,257.14 L141.59,257.58 L142.11,257.69 L142.62,257.96 L143.14,257.77 L143.65,258.07 L144.17,258.36 L144.68,259.05 L145.2,259.32 L145.71,259.2 L146.23,259.12 L146.74,259.24 L147.26,259.6 L147.77,259.48 L148.29,259.72 L148.8,259.47 L149.31,259.54 L149.83,259.2 L150.34,259.48 L150.86,259.29 L151.37,259.47 L151.89,259.36 L152.4,259.65 L152.92,259.78 L153.43,259.95 L153.95,259.88 L154.46,259.77 L154.98,259.86 L155.49,260.01 L156.01,260.16 L156.52,260.32 L157.04,260.37 L157.55,260.18 L158.07,260.25 L158.58,260.32 L159.1,260.39 L159.61,260.46 L160.13,260.52 L160.64,260.58 L161.16,260.64 L161.67,260.69 L162.18,260.74 L162.7,260.78 L163.21,260.82 L163.73,260.86 L164.24,260.89 L164.76,260.91 L165.27,260.93 L165.79,260.95 L166.3,260.97 L166.82,260.98 L167.33,261 L167.85,261.01 L168.36,261.02 L168.88,261.02 L169.39,261.03 L169.91,261.04 L170.42,261.04 L170.94,261.05 L171.45,261.05 L171.97,261.06 L172.48,261.06 L173,261.07 L173.51,261.07 L174.03,261.07 L174.54,261.08 L175.05,261.08 L175.57,261.08 L176.08,261.08 L176.6,261.09 L177.11,261.09 L177.63,261.09 L178.14,261.09 L178.66,261.09 L179.17,261.1 L179.69,261.1 L180.2,261.1 L180.72,261.1 L181.23,261.1 L181.75,261.1 L182.26,261.1 L182.78,261.11 L183.29,261.11 L183.81,261.11 L184.32,261.11 L184.84,261.11 L185.35,261.11 L185.87,261.11 L186.38,261.11 L186.9,261.11 L187.41,261.11 L187.92,261.11 L188.44,261.12 L188.95,261.12 L189.47,261.12 L189.98,261.12 L190.5,261.12 L191.01,261.12 L191.53,261.12 L192.04,261.12 L192.56,261.12 L193.07,261.12 L193.59,261.12 L194.1,261.12 L194.62,261.12 L195.13,261.12 L195.65,261.12 L196.16,261.12 L196.68,261.12 L197.19,261.12 L197.71,261.12 L198.22,261.12 L198.74,261.13 L199.25,261.13 L199.77,261.13 L200.28,261.13 L200.79,261.13 L201.31,261.13 L201.82,261.13 L202.34,261.13 L202.85,261.13 L203.37,261.13 L203.88,261.13 L204.4,261.13 L204.91,261.13 L205.43,261.13 L205.94,261.13 L206.46,261.13 L206.97,261.13 L207.49,261.13 L208,261.13 M38.12,265.27 L38.63,265.27 L39.15,265.27 L39.66,265.27 L40.18,265.27 L40.69,265.26 L41.21,265.26 L41.72,265.26 L42.24,265.26 L42.75,265.25 L43.27,265.25 L43.78,265.25 L44.3,265.25 L44.81,265.24 L45.33,265.24 L45.84,265.24 L46.35,265.23 L46.87,265.23 L47.38,265.23 L47.9,265.22 L48.41,265.22 L48.93,265.21 L49.44,265.21 L49.96,265.2 L50.47,265.2 L50.99,265.19 L51.5,265.19 L52.02,265.18 L52.53,265.18 L53.05,265.17 L53.56,265.17 L54.08,265.16 L54.59,265.15 L55.11,265.15 L55.62,265.14 L56.14,265.13 L56.65,265.12 L57.17,265.11 L57.68,265.11 L58.2,265.1 L58.71,265.09 L59.22,265.08 L59.74,265.07 L60.25,265.06 L60.77,265.05 L61.28,265.04 L61.8,265.03 L62.31,265.02 L62.83,265.01 L63.34,265 L63.86,264.98 L64.37,264.97 L64.89,264.96 L65.4,264.95 L65.92,264.94 L66.43,264.92 L66.95,264.91 L67.46,264.9 L67.98,264.88 L68.49,264.87 L69.01,264.86 L69.52,264.84 L70.04,264.83 L70.55,264.81 L71.07,264.8 L71.58,264.78 L72.09,264.77 L72.61,264.75 L73.12,264.74 L73.64,264.72 L74.15,264.7 L74.67,264.69 L75.18,264.67 L75.7,264.65 L76.21,264.64 L76.73,264.62 L77.24,264.6 L77.76,264.58 L78.27,264.57 L78.79,264.55 L79.3,264.53 L79.82,264.51 L80.33,264.48 L80.85,264.46 L81.36,264.44 L81.88,264.41 L82.39,264.38 L82.91,264.35 L83.42,264.28 L83.94,264.16 L84.45,264.52 L84.96,264.3 L85.48,263.79 L85.99,263.78 L86.51,263.91 L87.02,263.97 L87.54,263.97 L88.05,263.72 L88.57,263.68 L89.08,263.3 L89.6,263.32 L90.11,263.31 L90.63,263.25 L91.14,262.9 L91.66,262.82 L92.17,262.78 L92.69,262.6 L93.2,262.19 L93.72,261.47 L94.23,261.11 L94.75,260.58 L95.26,260.64 L95.78,260.42 L96.29,260.28 L96.81,259.78 L97.32,259.52 L97.83,258.97 L98.35,258.92 L98.86,258.41 L99.38,258.31 L99.89,257.98 L100.41,257.64 L100.92,257.32 L101.44,257.11 L101.95,257.33 L102.47,257.27 L102.98,257.32 L103.5,257.14 L104.01,257.46 L104.53,257.44 L105.04,257.81 L105.56,257.89 L106.07,257.88 L106.59,257.74 L107.1,258.05 L107.62,258.63 L108.13,259.43 L108.65,259.61 L109.16,259.7 L109.68,259.87 L110.19,260.34 L110.7,260.74 L111.22,260.97 L111.73,261.06 L112.25,261.13 L112.76,261.2 L113.28,261.34 L113.79,261.49 L114.31,261.7 L114.82,261.86 L115.34,262.28 L115.85,262.57 L116.37,262.55 L116.88,262.87 L117.4,262.83 L117.91,263.33 L118.43,263.31 L118.94,263.57 L119.46,263.48 L119.97,263.32 L120.49,262.95 L121,263.21 L121.52,263.25 L122.03,263.51 L122.55,263.31 L123.06,263.34 L123.57,263.22 L124.09,263.1 L124.6,263.03 L125.12,262.67 L125.63,262.57 L126.15,262.42 L126.66,262.82 L127.18,262.55 L127.69,262.55 L128.21,262.24 L128.72,262.35 L129.24,262.1 L129.75,262.03 L130.27,261.89 L130.78,261.87 L131.3,261.55 L131.81,261.11 L132.33,260.56 L132.84,260.01 L133.36,259.51 L133.87,259.5 L134.39,259.66 L134.9,259.67 L135.42,259.58 L135.93,259.23 L136.44,259.15 L136.96,259.19 L137.47,259.32 L137.99,259.39 L138.5,259.35 L139.02,259.71 L139.53,260.19 L140.05,260.44 L140.56,260.79 L141.08,260.99 L141.59,261.38 L142.11,261.66 L142.62,262.13 L143.14,262.27 L143.65,262.54 L144.17,262.59 L144.68,263.15 L145.2,263.23 L145.71,263.41 L146.23,263.23 L146.74,263.18 L147.26,263.21 L147.77,263.27 L148.29,263.51 L148.8,263.79 L149.31,264.09 L149.83,264.19 L150.34,264.02 L150.86,263.71 L151.37,263.55 L151.89,263.57 L152.4,263.62 L152.92,263.74 L153.43,263.77 L153.95,263.93 L154.46,263.88 L154.98,263.99 L155.49,264.21 L156.01,264.36 L156.52,264.51 L157.04,264.13 L157.55,263.93 L158.07,264.38 L158.58,264.45 L159.1,264.52 L159.61,264.6 L160.13,264.66 L160.64,264.73 L161.16,264.79 L161.67,264.84 L162.18,264.89 L162.7,264.94 L163.21,264.98 L163.73,265.01 L164.24,265.04 L164.76,265.07 L165.27,265.09 L165.79,265.11 L166.3,265.13 L166.82,265.14 L167.33,265.16 L167.85,265.17 L168.36,265.18 L168.88,265.19 L169.39,265.19 L169.91,265.2 L170.42,265.21 L170.94,265.21 L171.45,265.22 L171.97,265.22 L172.48,265.22 L173,265.23 L173.51,265.23 L174.03,265.24 L174.54,265.24 L175.05,265.24 L175.57,265.24 L176.08,265.25 L176.6,265.25 L177.11,265.25 L177.63,265.25 L178.14,265.26 L178.66,265.26 L179.17,265.26 L179.69,265.26 L180.2,265.26 L180.72,265.26 L181.23,265.27 L181.75,265.27 L182.26,265.27 L182.78,265.27 L183.29,265.27 L183.81,265.27 L184.32,265.27 L184.84,265.27 L185.35,265.27 L185.87,265.28 L186.38,265.28 L186.9,265.28 L187.41,265.28 L187.92,265.28 L188.44,265.28 L188.95,265.28 L189.47,265.28 L189.98,265.28 L190.5,265.28 L191.01,265.28 L191.53,265.28 L192.04,265.28 L192.56,265.28 L193.07,265.28 L193.59,265.29 L194.1,265.29 L194.62,265.29 L195.13,265.29 L195.65,265.29 L196.16,265.29 L196.68,265.29 L197.19,265.29 L197.71,265.29 L198.22,265.29 L198.74,265.29 L199.25,265.29 L199.77,265.29 L200.28,265.29 L200.79,265.29 L201.31,265.29 L201.82,265.29 L202.34,265.29 L202.85,265.29 L203.37,265.29 L203.88,265.29 L204.4,265.29 L204.91,265.29 L205.43,265.29 L205.94,265.29 L206.46,265.29 L206.97,265.29 L207.49,265.29 L208,265.3 M38.12,269.44 L38.63,269.44 L39.15,269.43 L39.66,269.43 L40.18,269.43 L40.69,269.43 L41.21,269.43 L41.72,269.43 L42.24,269.42 L42.75,269.42 L43.27,269.42 L43.78,269.42 L44.3,269.41 L44.81,269.41 L45.33,269.41 L45.84,269.4 L46.35,269.4 L46.87,269.4 L47.38,269.39 L47.9,269.39 L48.41,269.38 L48.93,269.38 L49.44,269.38 L49.96,269.37 L50.47,269.37 L50.99,269.36 L51.5,269.36 L52.02,269.35 L52.53,269.34 L53.05,269.34 L53.56,269.33 L54.08,269.33 L54.59,269.32 L55.11,269.31 L55.62,269.31 L56.14,269.3 L56.65,269.29 L57.17,269.28 L57.68,269.27 L58.2,269.27 L58.71,269.26 L59.22,269.25 L59.74,269.24 L60.25,269.23 L60.77,269.22 L61.28,269.21 L61.8,269.2 L62.31,269.19 L62.83,269.18 L63.34,269.16 L63.86,269.15 L64.37,269.14 L64.89,269.13 L65.4,269.12 L65.92,269.1 L66.43,269.09 L66.95,269.08 L67.46,269.07 L67.98,269.05 L68.49,269.04 L69.01,269.02 L69.52,269.01 L70.04,269 L70.55,268.98 L71.07,268.97 L71.58,268.95 L72.09,268.94 L72.61,268.92 L73.12,268.91 L73.64,268.89 L74.15,268.88 L74.67,268.86 L75.18,268.84 L75.7,268.83 L76.21,268.81 L76.73,268.79 L77.24,268.78 L77.76,268.76 L78.27,268.74 L78.79,268.72 L79.3,268.7 L79.82,268.68 L80.33,268.66 L80.85,268.64 L81.36,268.62 L81.88,268.59 L82.39,268.57 L82.91,268.54 L83.42,268.51 L83.94,268.86 L84.45,268.38 L84.96,268.32 L85.48,267.89 L85.99,267.71 L86.51,267.88 L87.02,268.06 L87.54,268.24 L88.05,267.86 L88.57,268.14 L89.08,268.08 L89.6,267.96 L90.11,267.37 L90.63,267.18 L91.14,267.1 L91.66,266.8 L92.17,266.42 L92.69,265.85 L93.2,265.91 L93.72,265.81 L94.23,265.77 L94.75,265.59 L95.26,265.74 L95.78,265.42 L96.29,265.35 L96.81,264.65 L97.32,264.59 L97.83,263.96 L98.35,263.8 L98.86,263.47 L99.38,263.38 L99.89,263.15 L100.41,262.5 L100.92,262.07 L101.44,261.84 L101.95,261.79 L102.47,261.92 L102.98,262.06 L103.5,262.31 L104.01,262.01 L104.53,261.91 L105.04,261.89 L105.56,262.19 L106.07,262.41 L106.59,262.47 L107.1,262.62 L107.62,262.95 L108.13,263.57 L108.65,263.96 L109.16,264.25 L109.68,264.37 L110.19,264.53 L110.7,264.65 L111.22,264.88 L111.73,265.32 L112.25,265.68 L112.76,266.09 L113.28,266.02 L113.79,266.21 L114.31,266.22 L114.82,266.56 L115.34,266.52 L115.85,266.71 L116.37,267.09 L116.88,266.94 L117.4,267.15 L117.91,266.89 L118.43,267.43 L118.94,267.22 L119.46,267.52 L119.97,267.13 L120.49,267.19 L121,267.28 L121.52,267.29 L122.03,267.65 L122.55,267.45 L123.06,267.52 L123.57,267.26 L124.09,266.97 L124.6,267.08 L125.12,267.05 L125.63,266.97 L126.15,266.88 L126.66,266.76 L127.18,266.68 L127.69,266.58 L128.21,266.56 L128.72,266.65 L129.24,266.03 L129.75,265.26 L130.27,265.16 L130.78,265.18 L131.3,265.09 L131.81,264.63 L132.33,264.39 L132.84,264.48 L133.36,264.23 L133.87,263.94 L134.39,263.57 L134.9,263.36 L135.42,263.41 L135.93,263.5 L136.44,263.58 L136.96,263.63 L137.47,263.51 L137.99,263.6 L138.5,263.39 L139.02,263.85 L139.53,264.13 L140.05,264.8 L140.56,264.73 L141.08,265.09 L141.59,265.26 L142.11,265.77 L142.62,265.96 L143.14,266.22 L143.65,266.23 L144.17,266.19 L144.68,266.67 L145.2,266.84 L145.71,267.02 L146.23,266.95 L146.74,267.17 L147.26,267.44 L147.77,267.61 L148.29,267.62 L148.8,267.42 L149.31,267.48 L149.83,267.59 L150.34,267.72 L150.86,267.92 L151.37,267.73 L151.89,267.83 L152.4,267.41 L152.92,267.72 L153.43,267.94 L153.95,268.22 L154.46,268.16 L154.98,268.22 L155.49,268.11 L156.01,268.17 L156.52,268.26 L157.04,268.4 L157.55,268.53 L158.07,268.51 L158.58,268.58 L159.1,268.66 L159.61,268.73 L160.13,268.81 L160.64,268.87 L161.16,268.93 L161.67,268.99 L162.18,269.04 L162.7,269.09 L163.21,269.13 L163.73,269.17 L164.24,269.2 L164.76,269.23 L165.27,269.25 L165.79,269.27 L166.3,269.29 L166.82,269.3 L167.33,269.32 L167.85,269.33 L168.36,269.34 L168.88,269.35 L169.39,269.35 L169.91,269.36 L170.42,269.37 L170.94,269.37 L171.45,269.38 L171.97,269.38 L172.48,269.39 L173,269.39 L173.51,269.39 L174.03,269.4 L174.54,269.4 L175.05,269.4 L175.57,269.41 L176.08,269.41 L176.6,269.41 L177.11,269.41 L177.63,269.42 L178.14,269.42 L178.66,269.42 L179.17,269.42 L179.69,269.42 L180.2,269.43 L180.72,269.43 L181.23,269.43 L181.75,269.43 L182.26,269.43 L182.78,269.43 L183.29,269.43 L183.81,269.44 L184.32,269.44 L184.84,269.44 L185.35,269.44 L185.87,269.44 L186.38,269.44 L186.9,269.44 L187.41,269.44 L187.92,269.44 L188.44,269.44 L188.95,269.44 L189.47,269.44 L189.98,269.45 L190.5,269.45 L191.01,269.45 L191.53,269.45 L192.04,269.45 L192.56,269.45 L193.07,269.45 L193.59,269.45 L194.1,269.45 L194.62,269.45 L195.13,269.45 L195.65,269.45 L196.16,269.45 L196.68,269.45 L197.19,269.45 L197.71,269.45 L198.22,269.45 L198.74,269.45 L199.25,269.45 L199.77,269.45 L200.28,269.45 L200.79,269.46 L201.31,269.46 L201.82,269.46 L202.34,269.46 L202.85,269.46 L203.37,269.46 L203.88,269.46 L204.4,269.46 L204.91,269.46 L205.43,269.46 L205.94,269.46 L206.46,269.46 L206.97,269.46 L207.49,269.46 L208,269.46 M38.12,273.6 L38.63,273.6 L39.15,273.6 L39.66,273.6 L40.18,273.6 L40.69,273.6 L41.21,273.59 L41.72,273.59 L42.24,273.59 L42.75,273.59 L43.27,273.58 L43.78,273.58 L44.3,273.58 L44.81,273.58 L45.33,273.57 L45.84,273.57 L46.35,273.57 L46.87,273.56 L47.38,273.56 L47.9,273.56 L48.41,273.55 L48.93,273.55 L49.44,273.54 L49.96,273.54 L50.47,273.53 L50.99,273.53 L51.5,273.52 L52.02,273.52 L52.53,273.51 L53.05,273.51 L53.56,273.5 L54.08,273.49 L54.59,273.49 L55.11,273.48 L55.62,273.47 L56.14,273.46 L56.65,273.46 L57.17,273.45 L57.68,273.44 L58.2,273.43 L58.71,273.42 L59.22,273.41 L59.74,273.41 L60.25,273.4 L60.77,273.39 L61.28,273.38 L61.8,273.37 L62.31,273.35 L62.83,273.34 L63.34,273.33 L63.86,273.32 L64.37,273.31 L64.89,273.3 L65.4,273.29 L65.92,273.27 L66.43,273.26 L66.95,273.25 L67.46,273.23 L67.98,273.22 L68.49,273.21 L69.01,273.19 L69.52,273.18 L70.04,273.17 L70.55,273.15 L71.07,273.14 L71.58,273.12 L72.09,273.11 L72.61,273.09 L73.12,273.08 L73.64,273.06 L74.15,273.05 L74.67,273.03 L75.18,273.02 L75.7,273 L76.21,272.98 L76.73,272.97 L77.24,272.95 L77.76,272.93 L78.27,272.92 L78.79,272.9 L79.3,272.88 L79.82,272.86 L80.33,272.84 L80.85,272.82 L81.36,272.8 L81.88,272.78 L82.39,272.75 L82.91,272.72 L83.42,272.7 L83.94,272.66 L84.45,272.63 L84.96,272.42 L85.48,272.76 L85.99,272.44 L86.51,272.46 L87.02,272.43 L87.54,272.71 L88.05,272.44 L88.57,272.14 L89.08,272.01 L89.6,271.9 L90.11,271.63 L90.63,271.29 L91.14,271.17 L91.66,271.39 L92.17,271.09 L92.69,270.86 L93.2,270.72 L93.72,270.85 L94.23,271.13 L94.75,270.6 L95.26,270.42 L95.78,269.79 L96.29,269.38 L96.81,269.13 L97.32,268.68 L97.83,268.65 L98.35,268.31 L98.86,267.97 L99.38,267.59 L99.89,267.27 L100.41,267.14 L100.92,267.07 L101.44,266.91 L101.95,266.89 L102.47,266.53 L102.98,266.57 L103.5,266.67 L104.01,266.7 L104.53,266.73 L105.04,266.67 L105.56,266.98 L106.07,267.14 L106.59,267.42 L107.1,267.61 L107.62,267.67 L108.13,267.71 L108.65,267.92 L109.16,268.03 L109.68,268.35 L110.19,268.71 L110.7,269 L111.22,269.21 L111.73,269.25 L112.25,269.59 L112.76,269.89 L113.28,270.24 L113.79,270.62 L114.31,270.7 L114.82,270.94 L115.34,270.97 L115.85,271.22 L116.37,270.93 L116.88,271.03 L117.4,270.84 L117.91,271.54 L118.43,271.53 L118.94,271.52 L119.46,271.22 L119.97,271.16 L120.49,271.55 L121,271.89 L121.52,271.87 L122.03,271.65 L122.55,271.18 L123.06,270.95 L123.57,271.07 L124.09,271.11 L124.6,271.66 L125.12,271.63 L125.63,271.61 L126.15,271 L126.66,270.57 L127.18,270.22 L127.69,270.19 L128.21,270.32 L128.72,270.39 L129.24,270.26 L129.75,269.99 L130.27,269.57 L130.78,269.33 L131.3,269.34 L131.81,269.41 L132.33,268.66 L132.84,267.93 L133.36,267.55 L133.87,267.76 L134.39,267.6 L134.9,267.27 L135.42,267 L135.93,267.27 L136.44,267.44 L136.96,267.44 L137.47,267.08 L137.99,266.93 L138.5,266.87 L139.02,267.18 L139.53,267.43 L140.05,267.94 L140.56,268.11 L141.08,268.55 L141.59,268.58 L142.11,269.21 L142.62,269.32 L143.14,269.82 L143.65,269.72 L144.17,270.27 L144.68,270.77 L145.2,271.27 L145.71,271.2 L146.23,271.11 L146.74,271.61 L147.26,271.89 L147.77,272.09 L148.29,271.74 L148.8,271.71 L149.31,271.82 L149.83,271.89 L150.34,272.26 L150.86,272.13 L151.37,272.52 L151.89,272.29 L152.4,272.58 L152.92,272.19 L153.43,272.34 L153.95,272.11 L154.46,272.15 L154.98,271.95 L155.49,271.98 L156.01,271.93 L156.52,272.12 L157.04,272.23 L157.55,272.41 L158.07,272.35 L158.58,272.72 L159.1,272.8 L159.61,272.87 L160.13,272.95 L160.64,273.02 L161.16,273.08 L161.67,273.14 L162.18,273.19 L162.7,273.24 L163.21,273.29 L163.73,273.32 L164.24,273.36 L164.76,273.38 L165.27,273.41 L165.79,273.43 L166.3,273.45 L166.82,273.46 L167.33,273.48 L167.85,273.49 L168.36,273.5 L168.88,273.51 L169.39,273.52 L169.91,273.52 L170.42,273.53 L170.94,273.53 L171.45,273.54 L171.97,273.54 L172.48,273.55 L173,273.55 L173.51,273.56 L174.03,273.56 L174.54,273.56 L175.05,273.57 L175.57,273.57 L176.08,273.57 L176.6,273.57 L177.11,273.58 L177.63,273.58 L178.14,273.58 L178.66,273.58 L179.17,273.59 L179.69,273.59 L180.2,273.59 L180.72,273.59 L181.23,273.59 L181.75,273.59 L182.26,273.59 L182.78,273.6 L183.29,273.6 L183.81,273.6 L184.32,273.6 L184.84,273.6 L185.35,273.6 L185.87,273.6 L186.38,273.6 L186.9,273.6 L187.41,273.61 L187.92,273.61 L188.44,273.61 L188.95,273.61 L189.47,273.61 L189.98,273.61 L190.5,273.61 L191.01,273.61 L191.53,273.61 L192.04,273.61 L192.56,273.61 L193.07,273.61 L193.59,273.61 L194.1,273.61 L194.62,273.61 L195.13,273.61 L195.65,273.62 L196.16,273.62 L196.68,273.62 L197.19,273.62 L197.71,273.62 L198.22,273.62 L198.74,273.62 L199.25,273.62 L199.77,273.62 L200.28,273.62 L200.79,273.62 L201.31,273.62 L201.82,273.62 L202.34,273.62 L202.85,273.62 L203.37,273.62 L203.88,273.62 L204.4,273.62 L204.91,273.62 L205.43,273.62 L205.94,273.62 L206.46,273.62 L206.97,273.62 L207.49,273.62 L208,273.62 M38.12,277.77 L38.63,277.77 L39.15,277.77 L39.66,277.77 L40.18,277.76 L40.69,277.76 L41.21,277.76 L41.72,277.76 L42.24,277.76 L42.75,277.75 L43.27,277.75 L43.78,277.75 L44.3,277.74 L44.81,277.74 L45.33,277.74 L45.84,277.74 L46.35,277.73 L46.87,277.73 L47.38,277.73 L47.9,277.72 L48.41,277.72 L48.93,277.71 L49.44,277.71 L49.96,277.7 L50.47,277.7 L50.99,277.69 L51.5,277.69 L52.02,277.68 L52.53,277.68 L53.05,277.67 L53.56,277.67 L54.08,277.66 L54.59,277.65 L55.11,277.65 L55.62,277.64 L56.14,277.63 L56.65,277.62 L57.17,277.62 L57.68,277.61 L58.2,277.6 L58.71,277.59 L59.22,277.58 L59.74,277.57 L60.25,277.56 L60.77,277.55 L61.28,277.54 L61.8,277.53 L62.31,277.52 L62.83,277.51 L63.34,277.5 L63.86,277.49 L64.37,277.48 L64.89,277.47 L65.4,277.45 L65.92,277.44 L66.43,277.43 L66.95,277.42 L67.46,277.4 L67.98,277.39 L68.49,277.38 L69.01,277.36 L69.52,277.35 L70.04,277.34 L70.55,277.32 L71.07,277.31 L71.58,277.29 L72.09,277.28 L72.61,277.26 L73.12,277.25 L73.64,277.23 L74.15,277.22 L74.67,277.2 L75.18,277.19 L75.7,277.17 L76.21,277.16 L76.73,277.14 L77.24,277.12 L77.76,277.11 L78.27,277.09 L78.79,277.07 L79.3,277.06 L79.82,277.04 L80.33,277.02 L80.85,277 L81.36,276.98 L81.88,276.96 L82.39,276.93 L82.91,276.91 L83.42,276.88 L83.94,276.85 L84.45,276.82 L84.96,276.73 L85.48,276.57 L85.99,276.71 L86.51,276.72 L87.02,276.44 L87.54,276.17 L88.05,276.01 L88.57,276.08 L89.08,276.26 L89.6,276.21 L90.11,275.85 L90.63,275.76 L91.14,275.6 L91.66,275.72 L92.17,275.39 L92.69,275.65 L93.2,275.27 L93.72,274.9 L94.23,274.2 L94.75,274.17 L95.26,274.68 L95.78,274.62 L96.29,274.09 L96.81,273.37 L97.32,273.11 L97.83,273.21 L98.35,273.04 L98.86,273 L99.38,272.73 L99.89,272.48 L100.41,271.85 L100.92,271.39 L101.44,271.23 L101.95,271.3 L102.47,271.37 L102.98,271.25 L103.5,271.15 L104.01,271.23 L104.53,271.14 L105.04,271.33 L105.56,271.06 L106.07,271.39 L106.59,271.44 L107.1,271.92 L107.62,271.92 L108.13,272.44 L108.65,272.63 L109.16,273.07 L109.68,273.29 L110.19,273.51 L110.7,273.65 L111.22,273.73 L111.73,274.05 L112.25,274.34 L112.76,274.56 L113.28,274.45 L113.79,274.45 L114.31,274.31 L114.82,274.47 L115.34,274.42 L115.85,274.72 L116.37,274.93 L116.88,275.27 L117.4,275.42 L117.91,275.43 L118.43,275.45 L118.94,275.37 L119.46,275.47 L119.97,275.4 L120.49,275.7 L121,275.67 L121.52,275.83 L122.03,275.72 L122.55,275.84 L123.06,275.74 L123.57,275.49 L124.09,275.44 L124.6,275.35 L125.12,275.35 L125.63,275.08 L126.15,274.94 L126.66,274.77 L127.18,274.84 L127.69,275 L128.21,274.74 L128.72,274.61 L129.24,274.12 L129.75,274.07 L130.27,273.46 L130.78,273.33 L131.3,273.1 L131.81,273.35 L132.33,272.94 L132.84,272.59 L133.36,272.07 L133.87,271.93 L134.39,271.46 L134.9,271.07 L135.42,270.67 L135.93,270.73 L136.44,270.63 L136.96,270.57 L137.47,270.59 L137.99,270.53 L138.5,270.84 L139.02,270.72 L139.53,271.24 L140.05,271.55 L140.56,272.13 L141.08,272.43 L141.59,272.72 L142.11,273.08 L142.62,273.19 L143.14,273.58 L143.65,273.72 L144.17,274.07 L144.68,274.25 L145.2,274.7 L145.71,274.77 L146.23,275.36 L146.74,275.57 L147.26,276.01 L147.77,275.68 L148.29,275.7 L148.8,275.63 L149.31,275.68 L149.83,275.58 L150.34,275.83 L150.86,275.87 L151.37,275.81 L151.89,275.84 L152.4,275.9 L152.92,276.37 L153.43,276.25 L153.95,276.43 L154.46,276.17 L154.98,276.45 L155.49,276.39 L156.01,276.7 L156.52,276.61 L157.04,276.64 L157.55,276.23 L158.07,276.25 L158.58,276.85 L159.1,276.93 L159.61,277.01 L160.13,277.09 L160.64,277.16 L161.16,277.23 L161.67,277.29 L162.18,277.34 L162.7,277.39 L163.21,277.44 L163.73,277.48 L164.24,277.51 L164.76,277.54 L165.27,277.57 L165.79,277.59 L166.3,277.61 L166.82,277.62 L167.33,277.64 L167.85,277.65 L168.36,277.66 L168.88,277.67 L169.39,277.68 L169.91,277.68 L170.42,277.69 L170.94,277.7 L171.45,277.7 L171.97,277.71 L172.48,277.71 L173,277.71 L173.51,277.72 L174.03,277.72 L174.54,277.73 L175.05,277.73 L175.57,277.73 L176.08,277.73 L176.6,277.74 L177.11,277.74 L177.63,277.74 L178.14,277.74 L178.66,277.75 L179.17,277.75 L179.69,277.75 L180.2,277.75 L180.72,277.75 L181.23,277.75 L181.75,277.76 L182.26,277.76 L182.78,277.76 L183.29,277.76 L183.81,277.76 L184.32,277.76 L184.84,277.76 L185.35,277.77 L185.87,277.77 L186.38,277.77 L186.9,277.77 L187.41,277.77 L187.92,277.77 L188.44,277.77 L188.95,277.77 L189.47,277.77 L189.98,277.77 L190.5,277.77 L191.01,277.77 L191.53,277.77 L192.04,277.78 L192.56,277.78 L193.07,277.78 L193.59,277.78 L194.1,277.78 L194.62,277.78 L195.13,277.78 L195.65,277.78 L196.16,277.78 L196.68,277.78 L197.19,277.78 L197.71,277.78 L198.22,277.78 L198.74,277.78 L199.25,277.78 L199.77,277.78 L200.28,277.78 L200.79,277.78 L201.31,277.78 L201.82,277.78 L202.34,277.78 L202.85,277.79 L203.37,277.79 L203.88,277.79 L204.4,277.79 L204.91,277.79 L205.43,277.79 L205.94,277.79 L206.46,277.79 L206.97,277.79 L207.49,277.79 L208,277.79 M38.12,281.94 L38.63,281.93 L39.15,281.93 L39.66,281.93 L40.18,281.93 L40.69,281.93 L41.21,281.93 L41.72,281.92 L42.24,281.92 L42.75,281.92 L43.27,281.92 L43.78,281.91 L44.3,281.91 L44.81,281.91 L45.33,281.91 L45.84,281.9 L46.35,281.9 L46.87,281.9 L47.38,281.89 L47.9,281.89 L48.41,281.88 L48.93,281.88 L49.44,281.88 L49.96,281.87 L50.47,281.87 L50.99,281.86 L51.5,281.86 L52.02,281.85 L52.53,281.84 L53.05,281.84 L53.56,281.83 L54.08,281.83 L54.59,281.82 L55.11,281.81 L55.62,281.81 L56.14,281.8 L56.65,281.79 L57.17,281.78 L57.68,281.77 L58.2,281.77 L58.71,281.76 L59.22,281.75 L59.74,281.74 L60.25,281.73 L60.77,281.72 L61.28,281.71 L61.8,281.7 L62.31,281.69 L62.83,281.68 L63.34,281.67 L63.86,281.66 L64.37,281.65 L64.89,281.63 L65.4,281.62 L65.92,281.61 L66.43,281.6 L66.95,281.59 L67.46,281.57 L67.98,281.56 L68.49,281.55 L69.01,281.53 L69.52,281.52 L70.04,281.51 L70.55,281.49 L71.07,281.48 L71.58,281.46 L72.09,281.45 L72.61,281.43 L73.12,281.42 L73.64,281.4 L74.15,281.39 L74.67,281.37 L75.18,281.36 L75.7,281.34 L76.21,281.33 L76.73,281.31 L77.24,281.3 L77.76,281.28 L78.27,281.26 L78.79,281.25 L79.3,281.23 L79.82,281.21 L80.33,281.2 L80.85,281.18 L81.36,281.16 L81.88,281.14 L82.39,281.12 L82.91,281.09 L83.42,281.07 L83.94,281.04 L84.45,281.01 L84.96,280.98 L85.48,280.79 L85.99,280.91 L86.51,281 L87.02,281.43 L87.54,281.27 L88.05,281.3 L88.57,280.93 L89.08,280.75 L89.6,280.48 L90.11,280.21 L90.63,280.34 L91.14,280.18 L91.66,280.11 L92.17,279.83 L92.69,279.77 L93.2,279.36 L93.72,279.38 L94.23,279.13 L94.75,279.14 L95.26,278.61 L95.78,278.35 L96.29,278.23 L96.81,278.1 L97.32,277.7 L97.83,277.22 L98.35,277.05 L98.86,276.99 L99.38,276.93 L99.89,276.43 L100.41,276.29 L100.92,275.86 L101.44,275.62 L101.95,275.41 L102.47,275.13 L102.98,275.31 L103.5,275.25 L104.01,275.45 L104.53,275.5 L105.04,275.51 L105.56,275.88 L106.07,275.99 L106.59,276.14 L107.1,276.33 L107.62,276.36 L108.13,276.46 L108.65,276.49 L109.16,276.72 L109.68,276.96 L110.19,277.29 L110.7,277.53 L111.22,277.81 L111.73,278 L112.25,278.23 L112.76,278.62 L113.28,279.12 L113.79,279.28 L114.31,279.25 L114.82,278.7 L115.34,278.94 L115.85,278.96 L116.37,279.47 L116.88,279.69 L117.4,279.95 L117.91,279.86 L118.43,279.75 L118.94,279.59 L119.46,279.48 L119.97,279.7 L120.49,279.96 L121,279.88 L121.52,279.49 L122.03,279.58 L122.55,279.94 L123.06,279.82 L123.57,279.76 L124.09,279.41 L124.6,279.95 L125.12,279.77 L125.63,280.02 L126.15,279.57 L126.66,279.23 L127.18,278.87 L127.69,278.61 L128.21,278.45 L128.72,278.07 L129.24,277.95 L129.75,278.18 L130.27,278.41 L130.78,278.04 L131.3,277.36 L131.81,276.65 L132.33,276.51 L132.84,276.35 L133.36,276.47 L133.87,276.28 L134.39,275.94 L134.9,275.49 L135.42,275.33 L135.93,274.9 L136.44,274.66 L136.96,274.3 L137.47,274.49 L137.99,274.56 L138.5,274.89 L139.02,274.97 L139.53,275.3 L140.05,275.58 L140.56,275.85 L141.08,276.1 L141.59,276.21 L142.11,277.05 L142.62,277.17 L143.14,277.74 L143.65,277.96 L144.17,278.61 L144.68,278.93 L145.2,279.16 L145.71,279.27 L146.23,279.13 L146.74,279.22 L147.26,279.45 L147.77,279.79 L148.29,279.84 L148.8,280.12 L149.31,279.94 L149.83,280.24 L150.34,280.19 L150.86,280.17 L151.37,280 L151.89,280.07 L152.4,280.39 L152.92,280.05 L153.43,279.91 L153.95,280.14 L154.46,280.5 L154.98,280.52 L155.49,280.53 L156.01,280.6 L156.52,281.06 L157.04,280.94 L157.55,281.03 L158.07,280.76 L158.58,280.98 L159.1,281.06 L159.61,281.15 L160.13,281.23 L160.64,281.3 L161.16,281.37 L161.67,281.44 L162.18,281.49 L162.7,281.55 L163.21,281.59 L163.73,281.63 L164.24,281.67 L164.76,281.7 L165.27,281.73 L165.79,281.75 L166.3,281.77 L166.82,281.78 L167.33,281.8 L167.85,281.81 L168.36,281.82 L168.88,281.83 L169.39,281.84 L169.91,281.84 L170.42,281.85 L170.94,281.86 L171.45,281.86 L171.97,281.87 L172.48,281.87 L173,281.88 L173.51,281.88 L174.03,281.88 L174.54,281.89 L175.05,281.89 L175.57,281.89 L176.08,281.9 L176.6,281.9 L177.11,281.9 L177.63,281.9 L178.14,281.91 L178.66,281.91 L179.17,281.91 L179.69,281.91 L180.2,281.91 L180.72,281.92 L181.23,281.92 L181.75,281.92 L182.26,281.92 L182.78,281.92 L183.29,281.92 L183.81,281.92 L184.32,281.93 L184.84,281.93 L185.35,281.93 L185.87,281.93 L186.38,281.93 L186.9,281.93 L187.41,281.93 L187.92,281.93 L188.44,281.93 L188.95,281.93 L189.47,281.94 L189.98,281.94 L190.5,281.94 L191.01,281.94 L191.53,281.94 L192.04,281.94 L192.56,281.94 L193.07,281.94 L193.59,281.94 L194.1,281.94 L194.62,281.94 L195.13,281.94 L195.65,281.94 L196.16,281.94 L196.68,281.94 L197.19,281.94 L197.71,281.95 L198.22,281.95 L198.74,281.95 L199.25,281.95 L199.77,281.95 L200.28,281.95 L200.79,281.95 L201.31,281.95 L201.82,281.95 L202.34,281.95 L202.85,281.95 L203.37,281.95 L203.88,281.95 L204.4,281.95 L204.91,281.95 L205.43,281.95 L205.94,281.95 L206.46,281.95 L206.97,281.95 L207.49,281.95 L208,281.95 M38.12,286.1 L38.63,286.1 L39.15,286.1 L39.66,286.1 L40.18,286.1 L40.69,286.09 L41.21,286.09 L41.72,286.09 L42.24,286.09 L42.75,286.08 L43.27,286.08 L43.78,286.08 L44.3,286.08 L44.81,286.07 L45.33,286.07 L45.84,286.07 L46.35,286.06 L46.87,286.06 L47.38,286.06 L47.9,286.05 L48.41,286.05 L48.93,286.05 L49.44,286.04 L49.96,286.04 L50.47,286.03 L50.99,286.03 L51.5,286.02 L52.02,286.02 L52.53,286.01 L53.05,286.01 L53.56,286 L54.08,285.99 L54.59,285.99 L55.11,285.98 L55.62,285.97 L56.14,285.97 L56.65,285.96 L57.17,285.95 L57.68,285.94 L58.2,285.93 L58.71,285.92 L59.22,285.92 L59.74,285.91 L60.25,285.9 L60.77,285.89 L61.28,285.88 L61.8,285.87 L62.31,285.86 L62.83,285.85 L63.34,285.84 L63.86,285.82 L64.37,285.81 L64.89,285.8 L65.4,285.79 L65.92,285.78 L66.43,285.77 L66.95,285.75 L67.46,285.74 L67.98,285.73 L68.49,285.71 L69.01,285.7 L69.52,285.69 L70.04,285.67 L70.55,285.66 L71.07,285.65 L71.58,285.63 L72.09,285.62 L72.61,285.6 L73.12,285.59 L73.64,285.57 L74.15,285.56 L74.67,285.55 L75.18,285.53 L75.7,285.52 L76.21,285.5 L76.73,285.48 L77.24,285.47 L77.76,285.45 L78.27,285.44 L78.79,285.42 L79.3,285.41 L79.82,285.39 L80.33,285.37 L80.85,285.35 L81.36,285.34 L81.88,285.32 L82.39,285.3 L82.91,285.27 L83.42,285.25 L83.94,285.23 L84.45,285.2 L84.96,285.17 L85.48,285.49 L85.99,285.34 L86.51,285.09 L87.02,284.74 L87.54,285.02 L88.05,285.23 L88.57,285.27 L89.08,284.91 L89.6,285.1 L90.11,285.03 L90.63,284.8 L91.14,284.32 L91.66,284.25 L92.17,284.07 L92.69,284.15 L93.2,284.03 L93.72,283.96 L94.23,283.04 L94.75,282.93 L95.26,282.68 L95.78,282.73 L96.29,282.29 L96.81,282.05 L97.32,281.9 L97.83,282.06 L98.35,281.88 L98.86,281.9 L99.38,281.16 L99.89,280.95 L100.41,280.62 L100.92,280.62 L101.44,280.69 L101.95,280.43 L102.47,280.56 L102.98,280.29 L103.5,280.41 L104.01,279.96 L104.53,279.93 L105.04,280.03 L105.56,280.14 L106.07,279.98 L106.59,280.13 L107.1,280.17 L107.62,280.7 L108.13,280.76 L108.65,281.2 L109.16,281.46 L109.68,281.39 L110.19,281.44 L110.7,281.39 L111.22,282.06 L111.73,282.27 L112.25,282.7 L112.76,282.46 L113.28,283 L113.79,282.92 L114.31,283.52 L114.82,283.62 L115.34,283.82 L115.85,283.57 L116.37,283.27 L116.88,283.46 L117.4,283.76 L117.91,283.86 L118.43,284.04 L118.94,284.18 L119.46,284.28 L119.97,284.06 L120.49,283.9 L121,283.8 L121.52,284.13 L122.03,284.07 L122.55,283.91 L123.06,283.7 L123.57,283.94 L124.09,284.04 L124.6,283.84 L125.12,283.38 L125.63,283.38 L126.15,283.44 L126.66,283.54 L127.18,283.69 L127.69,283.06 L128.21,282.99 L128.72,282.66 L129.24,282.94 L129.75,282.48 L130.27,281.93 L130.78,281.61 L131.3,281.29 L131.81,281.07 L132.33,280.31 L132.84,280.06 L133.36,279.78 L133.87,279.52 L134.39,279.38 L134.9,279.11 L135.42,279.08 L135.93,278.8 L136.44,278.65 L136.96,278.52 L137.47,278.13 L137.99,277.99 L138.5,278.22 L139.02,278.72 L139.53,278.95 L140.05,279.39 L140.56,279.66 L141.08,280.34 L141.59,280.73 L142.11,281 L142.62,281.43 L143.14,281.66 L143.65,281.87 L144.17,281.76 L144.68,282.2 L145.2,282.83 L145.71,283.47 L146.23,283.71 L146.74,283.58 L147.26,283.49 L147.77,283.36 L148.29,283.84 L148.8,283.96 L149.31,284.09 L149.83,284.01 L150.34,284.09 L150.86,283.95 L151.37,283.98 L151.89,284.16 L152.4,284.56 L152.92,284.36 L153.43,284.26 L153.95,284.51 L154.46,284.76 L154.98,284.76 L155.49,284.7 L156.01,285.02 L156.52,285.07 L157.04,284.95 L157.55,285.04 L158.07,285.28 L158.58,285.27 L159.1,285.2 L159.61,285.28 L160.13,285.37 L160.64,285.45 L161.16,285.52 L161.67,285.58 L162.18,285.64 L162.7,285.7 L163.21,285.75 L163.73,285.79 L164.24,285.82 L164.76,285.86 L165.27,285.88 L165.79,285.91 L166.3,285.93 L166.82,285.94 L167.33,285.96 L167.85,285.97 L168.36,285.98 L168.88,285.99 L169.39,286 L169.91,286.01 L170.42,286.01 L170.94,286.02 L171.45,286.02 L171.97,286.03 L172.48,286.03 L173,286.04 L173.51,286.04 L174.03,286.05 L174.54,286.05 L175.05,286.05 L175.57,286.06 L176.08,286.06 L176.6,286.06 L177.11,286.06 L177.63,286.07 L178.14,286.07 L178.66,286.07 L179.17,286.07 L179.69,286.08 L180.2,286.08 L180.72,286.08 L181.23,286.08 L181.75,286.08 L182.26,286.08 L182.78,286.09 L183.29,286.09 L183.81,286.09 L184.32,286.09 L184.84,286.09 L185.35,286.09 L185.87,286.09 L186.38,286.09 L186.9,286.09 L187.41,286.1 L187.92,286.1 L188.44,286.1 L188.95,286.1 L189.47,286.1 L189.98,286.1 L190.5,286.1 L191.01,286.1 L191.53,286.1 L192.04,286.1 L192.56,286.1 L193.07,286.1 L193.59,286.1 L194.1,286.11 L194.62,286.11 L195.13,286.11 L195.65,286.11 L196.16,286.11 L196.68,286.11 L197.19,286.11 L197.71,286.11 L198.22,286.11 L198.74,286.11 L199.25,286.11 L199.77,286.11 L200.28,286.11 L200.79,286.11 L201.31,286.11 L201.82,286.11 L202.34,286.11 L202.85,286.11 L203.37,286.11 L203.88,286.11 L204.4,286.11 L204.91,286.11 L205.43,286.12 L205.94,286.12 L206.46,286.12 L206.97,286.12 L207.49,286.12 L208,286.12 M38.12,290.27 L38.63,290.27 L39.15,290.26 L39.66,290.26 L40.18,290.26 L40.69,290.26 L41.21,290.26 L41.72,290.25 L42.24,290.25 L42.75,290.25 L43.27,290.25 L43.78,290.25 L44.3,290.24 L44.81,290.24 L45.33,290.24 L45.84,290.23 L46.35,290.23 L46.87,290.23 L47.38,290.22 L47.9,290.22 L48.41,290.22 L48.93,290.21 L49.44,290.21 L49.96,290.2 L50.47,290.2 L50.99,290.19 L51.5,290.19 L52.02,290.18 L52.53,290.18 L53.05,290.17 L53.56,290.17 L54.08,290.16 L54.59,290.15 L55.11,290.15 L55.62,290.14 L56.14,290.13 L56.65,290.12 L57.17,290.12 L57.68,290.11 L58.2,290.1 L58.71,290.09 L59.22,290.08 L59.74,290.07 L60.25,290.06 L60.77,290.06 L61.28,290.05 L61.8,290.04 L62.31,290.02 L62.83,290.01 L63.34,290 L63.86,289.99 L64.37,289.98 L64.89,289.97 L65.4,289.96 L65.92,289.95 L66.43,289.93 L66.95,289.92 L67.46,289.91 L67.98,289.9 L68.49,289.88 L69.01,289.87 L69.52,289.86 L70.04,289.84 L70.55,289.83 L71.07,289.82 L71.58,289.8 L72.09,289.79 L72.61,289.77 L73.12,289.76 L73.64,289.74 L74.15,289.73 L74.67,289.72 L75.18,289.7 L75.7,289.69 L76.21,289.67 L76.73,289.66 L77.24,289.64 L77.76,289.63 L78.27,289.61 L78.79,289.59 L79.3,289.58 L79.82,289.56 L80.33,289.55 L80.85,289.53 L81.36,289.51 L81.88,289.49 L82.39,289.48 L82.91,289.46 L83.42,289.43 L83.94,289.41 L84.45,289.39 L84.96,289.36 L85.48,289.33 L85.99,289.07 L86.51,289.12 L87.02,288.93 L87.54,289 L88.05,289.15 L88.57,289.35 L89.08,289.31 L89.6,288.96 L90.11,288.75 L90.63,288.75 L91.14,288.82 L91.66,288.6 L92.17,288.47 L92.69,288.4 L93.2,288.36 L93.72,288.04 L94.23,287.99 L94.75,287.9 L95.26,287.83 L95.78,287.53 L96.29,287.2 L96.81,286.87 L97.32,286.71 L97.83,286.21 L98.35,286.06 L98.86,285.5 L99.38,285.52 L99.89,285.64 L100.41,285.86 L100.92,285.74 L101.44,285.21 L101.95,284.76 L102.47,284.96 L102.98,285.01 L103.5,284.95 L104.01,284.4 L104.53,284.21 L105.04,284.5 L105.56,284.82 L106.07,285.02 L106.59,284.98 L107.1,284.87 L107.62,284.79 L108.13,284.7 L108.65,285.2 L109.16,285.74 L109.68,286.35 L110.19,286.42 L110.7,286.41 L111.22,286.58 L111.73,286.68 L112.25,286.84 L112.76,286.84 L113.28,286.97 L113.79,287.31 L114.31,287.59 L114.82,287.57 L115.34,287.6 L115.85,287.4 L116.37,287.82 L116.88,288.19 L117.4,288.34 L117.91,288.5 L118.43,288.34 L118.94,288.34 L119.46,288.43 L119.97,288.37 L120.49,288.35 L121,287.83 L121.52,287.95 L122.03,288.09 L122.55,288.48 L123.06,288.13 L123.57,288.2 L124.09,287.86 L124.6,288.17 L125.12,287.91 L125.63,287.81 L126.15,287.42 L126.66,287.42 L127.18,287.57 L127.69,287.71 L128.21,287.39 L128.72,286.97 L129.24,286.48 L129.75,286.56 L130.27,286.55 L130.78,286.32 L131.3,285.55 L131.81,284.79 L132.33,284.26 L132.84,284.36 L133.36,284.58 L133.87,284.35 L134.39,283.71 L134.9,282.81 L135.42,282.64 L135.93,282.28 L136.44,282.37 L136.96,282.01 L137.47,282.19 L137.99,282.22 L138.5,282.49 L139.02,282.6 L139.53,282.9 L140.05,283.23 L140.56,283.49 L141.08,283.9 L141.59,284.22 L142.11,284.76 L142.62,285.02 L143.14,285.18 L143.65,285.59 L144.17,285.67 L144.68,286.48 L145.2,286.83 L145.71,287.26 L146.23,287.61 L146.74,287.74 L147.26,287.98 L147.77,288 L148.29,287.88 L148.8,287.78 L149.31,287.64 L149.83,287.93 L150.34,288.15 L150.86,288.05 L151.37,288.16 L151.89,288.37 L152.4,288.25 L152.92,288.17 L153.43,288.17 L153.95,288.66 L154.46,289.19 L154.98,289.25 L155.49,289.18 L156.01,288.82 L156.52,288.91 L157.04,288.88 L157.55,288.92 L158.07,288.95 L158.58,289.2 L159.1,289.33 L159.61,289.42 L160.13,289.51 L160.64,289.59 L161.16,289.66 L161.67,289.73 L162.18,289.79 L162.7,289.85 L163.21,289.9 L163.73,289.94 L164.24,289.98 L164.76,290.01 L165.27,290.04 L165.79,290.06 L166.3,290.08 L166.82,290.1 L167.33,290.12 L167.85,290.13 L168.36,290.14 L168.88,290.15 L169.39,290.16 L169.91,290.17 L170.42,290.17 L170.94,290.18 L171.45,290.19 L171.97,290.19 L172.48,290.2 L173,290.2 L173.51,290.2 L174.03,290.21 L174.54,290.21 L175.05,290.21 L175.57,290.22 L176.08,290.22 L176.6,290.22 L177.11,290.23 L177.63,290.23 L178.14,290.23 L178.66,290.23 L179.17,290.24 L179.69,290.24 L180.2,290.24 L180.72,290.24 L181.23,290.24 L181.75,290.25 L182.26,290.25 L182.78,290.25 L183.29,290.25 L183.81,290.25 L184.32,290.25 L184.84,290.25 L185.35,290.25 L185.87,290.26 L186.38,290.26 L186.9,290.26 L187.41,290.26 L187.92,290.26 L188.44,290.26 L188.95,290.26 L189.47,290.26 L189.98,290.26 L190.5,290.26 L191.01,290.27 L191.53,290.27 L192.04,290.27 L192.56,290.27 L193.07,290.27 L193.59,290.27 L194.1,290.27 L194.62,290.27 L195.13,290.27 L195.65,290.27 L196.16,290.27 L196.68,290.27 L197.19,290.27 L197.71,290.27 L198.22,290.27 L198.74,290.27 L199.25,290.27 L199.77,290.28 L200.28,290.28 L200.79,290.28 L201.31,290.28 L201.82,290.28 L202.34,290.28 L202.85,290.28 L203.37,290.28 L203.88,290.28 L204.4,290.28 L204.91,290.28 L205.43,290.28 L205.94,290.28 L206.46,290.28 L206.97,290.28 L207.49,290.28 L208,290.28 M38.12,294.43 L38.63,294.43 L39.15,294.43 L39.66,294.43 L40.18,294.43 L40.69,294.42 L41.21,294.42 L41.72,294.42 L42.24,294.42 L42.75,294.42 L43.27,294.41 L43.78,294.41 L44.3,294.41 L44.81,294.41 L45.33,294.4 L45.84,294.4 L46.35,294.4 L46.87,294.39 L47.38,294.39 L47.9,294.39 L48.41,294.38 L48.93,294.38 L49.44,294.37 L49.96,294.37 L50.47,294.36 L50.99,294.36 L51.5,294.35 L52.02,294.35 L52.53,294.34 L53.05,294.34 L53.56,294.33 L54.08,294.33 L54.59,294.32 L55.11,294.31 L55.62,294.31 L56.14,294.3 L56.65,294.29 L57.17,294.28 L57.68,294.28 L58.2,294.27 L58.71,294.26 L59.22,294.25 L59.74,294.24 L60.25,294.23 L60.77,294.22 L61.28,294.21 L61.8,294.2 L62.31,294.19 L62.83,294.18 L63.34,294.17 L63.86,294.16 L64.37,294.15 L64.89,294.14 L65.4,294.13 L65.92,294.11 L66.43,294.1 L66.95,294.09 L67.46,294.08 L67.98,294.06 L68.49,294.05 L69.01,294.04 L69.52,294.02 L70.04,294.01 L70.55,294 L71.07,293.98 L71.58,293.97 L72.09,293.96 L72.61,293.94 L73.12,293.93 L73.64,293.91 L74.15,293.9 L74.67,293.89 L75.18,293.87 L75.7,293.86 L76.21,293.84 L76.73,293.83 L77.24,293.81 L77.76,293.8 L78.27,293.78 L78.79,293.77 L79.3,293.75 L79.82,293.74 L80.33,293.72 L80.85,293.7 L81.36,293.69 L81.88,293.67 L82.39,293.65 L82.91,293.63 L83.42,293.61 L83.94,293.59 L84.45,293.57 L84.96,293.55 L85.48,293.52 L85.99,293.49 L86.51,293.63 L87.02,293.54 L87.54,293.59 L88.05,293.58 L88.57,293.71 L89.08,293.49 L89.6,293.44 L90.11,293.45 L90.63,293.33 L91.14,293.22 L91.66,293.12 L92.17,293.05 L92.69,292.93 L93.2,292.68 L93.72,292.78 L94.23,292.45 L94.75,292.11 L95.26,291.67 L95.78,291.71 L96.29,291.27 L96.81,291.34 L97.32,291.21 L97.83,291.43 L98.35,291.41 L98.86,291.15 L99.38,290.97 L99.89,290.47 L100.41,289.95 L100.92,289.62 L101.44,289.51 L101.95,289.54 L102.47,289.64 L102.98,289.25 L103.5,289.13 L104.01,288.81 L104.53,289.08 L105.04,289.23 L105.56,289.48 L106.07,289.59 L106.59,289.63 L107.1,289.46 L107.62,289.57 L108.13,289.53 L108.65,289.69 L109.16,289.69 L109.68,289.82 L110.19,290.46 L110.7,290.66 L111.22,291.03 L111.73,290.65 L112.25,290.8 L112.76,290.94 L113.28,291.29 L113.79,291.45 L114.31,291.27 L114.82,291.46 L115.34,291.57 L115.85,292.02 L116.37,292.01 L116.88,292.09 L117.4,292.05 L117.91,292.18 L118.43,292.06 L118.94,291.97 L119.46,291.91 L119.97,292.26 L120.49,292.37 L121,292.44 L121.52,292.21 L122.03,292.19 L122.55,292.3 L123.06,292.33 L123.57,292.1 L124.09,291.87 L124.6,292.07 L125.12,292.35 L125.63,292.2 L126.15,291.74 L126.66,291.78 L127.18,291.63 L127.69,291.39 L128.21,290.75 L128.72,290.9 L129.24,290.91 L129.75,290.66 L130.27,290.05 L130.78,289.8 L131.3,289.8 L131.81,289.57 L132.33,289.05 L132.84,288.67 L133.36,288.29 L133.87,287.78 L134.39,287.04 L134.9,286.62 L135.42,286.26 L135.93,286.18 L136.44,286.06 L136.96,286.18 L137.47,286.21 L137.99,286.16 L138.5,286.18 L139.02,285.83 L139.53,285.83 L140.05,285.72 L140.56,286.53 L141.08,286.95 L141.59,287.76 L142.11,288.25 L142.62,288.7 L143.14,289.16 L143.65,289.24 L144.17,289.34 L144.68,289.6 L145.2,290.08 L145.71,290.9 L146.23,291.43 L146.74,291.7 L147.26,291.95 L147.77,291.89 L148.29,292.06 L148.8,292.02 L149.31,292.08 L149.83,291.93 L150.34,292.22 L150.86,292.47 L151.37,292.48 L151.89,292.21 L152.4,292.24 L152.92,292.11 L153.43,292.72 L153.95,292.72 L154.46,293.21 L154.98,292.77 L155.49,292.99 L156.01,293.02 L156.52,293.15 L157.04,292.86 L157.55,293.24 L158.07,293.48 L158.58,293.85 L159.1,293.51 L159.61,293.56 L160.13,293.65 L160.64,293.73 L161.16,293.81 L161.67,293.88 L162.18,293.94 L162.7,294 L163.21,294.05 L163.73,294.09 L164.24,294.13 L164.76,294.17 L165.27,294.2 L165.79,294.22 L166.3,294.24 L166.82,294.26 L167.33,294.28 L167.85,294.29 L168.36,294.3 L168.88,294.31 L169.39,294.32 L169.91,294.33 L170.42,294.33 L170.94,294.34 L171.45,294.35 L171.97,294.35 L172.48,294.36 L173,294.36 L173.51,294.37 L174.03,294.37 L174.54,294.37 L175.05,294.38 L175.57,294.38 L176.08,294.38 L176.6,294.39 L177.11,294.39 L177.63,294.39 L178.14,294.39 L178.66,294.4 L179.17,294.4 L179.69,294.4 L180.2,294.4 L180.72,294.4 L181.23,294.41 L181.75,294.41 L182.26,294.41 L182.78,294.41 L183.29,294.41 L183.81,294.41 L184.32,294.42 L184.84,294.42 L185.35,294.42 L185.87,294.42 L186.38,294.42 L186.9,294.42 L187.41,294.42 L187.92,294.42 L188.44,294.42 L188.95,294.43 L189.47,294.43 L189.98,294.43 L190.5,294.43 L191.01,294.43 L191.53,294.43 L192.04,294.43 L192.56,294.43 L193.07,294.43 L193.59,294.43 L194.1,294.43 L194.62,294.43 L195.13,294.43 L195.65,294.43 L196.16,294.44 L196.68,294.44 L197.19,294.44 L197.71,294.44 L198.22,294.44 L198.74,294.44 L199.25,294.44 L199.77,294.44 L200.28,294.44 L200.79,294.44 L201.31,294.44 L201.82,294.44 L202.34,294.44 L202.85,294.44 L203.37,294.44 L203.88,294.44 L204.4,294.44 L204.91,294.44 L205.43,294.44 L205.94,294.44 L206.46,294.44 L206.97,294.44 L207.49,294.45 L208,294.45 M38.12,298.6 L38.63,298.6 L39.15,298.6 L39.66,298.59 L40.18,298.59 L40.69,298.59 L41.21,298.59 L41.72,298.59 L42.24,298.58 L42.75,298.58 L43.27,298.58 L43.78,298.58 L44.3,298.57 L44.81,298.57 L45.33,298.57 L45.84,298.57 L46.35,298.56 L46.87,298.56 L47.38,298.56 L47.9,298.55 L48.41,298.55 L48.93,298.54 L49.44,298.54 L49.96,298.54 L50.47,298.53 L50.99,298.53 L51.5,298.52 L52.02,298.52 L52.53,298.51 L53.05,298.5 L53.56,298.5 L54.08,298.49 L54.59,298.49 L55.11,298.48 L55.62,298.47 L56.14,298.46 L56.65,298.46 L57.17,298.45 L57.68,298.44 L58.2,298.43 L58.71,298.42 L59.22,298.42 L59.74,298.41 L60.25,298.4 L60.77,298.39 L61.28,298.38 L61.8,298.37 L62.31,298.36 L62.83,298.35 L63.34,298.34 L63.86,298.33 L64.37,298.32 L64.89,298.3 L65.4,298.29 L65.92,298.28 L66.43,298.27 L66.95,298.26 L67.46,298.24 L67.98,298.23 L68.49,298.22 L69.01,298.21 L69.52,298.19 L70.04,298.18 L70.55,298.17 L71.07,298.15 L71.58,298.14 L72.09,298.13 L72.61,298.11 L73.12,298.1 L73.64,298.08 L74.15,298.07 L74.67,298.06 L75.18,298.04 L75.7,298.03 L76.21,298.01 L76.73,298 L77.24,297.98 L77.76,297.97 L78.27,297.95 L78.79,297.94 L79.3,297.92 L79.82,297.91 L80.33,297.89 L80.85,297.88 L81.36,297.86 L81.88,297.85 L82.39,297.83 L82.91,297.81 L83.42,297.79 L83.94,297.77 L84.45,297.75 L84.96,297.73 L85.48,297.71 L85.99,297.68 L86.51,297.65 L87.02,297.37 L87.54,297.45 L88.05,297.46 L88.57,297.62 L89.08,297.41 L89.6,297.3 L90.11,297.07 L90.63,296.89 L91.14,296.92 L91.66,296.95 L92.17,296.96 L92.69,296.81 L93.2,296.76 L93.72,296.62 L94.23,296.56 L94.75,296.21 L95.26,296.28 L95.78,296.21 L96.29,296.23 L96.81,295.94 L97.32,296.03 L97.83,295.71 L98.35,295.3 L98.86,295.03 L99.38,295.2 L99.89,295.04 L100.41,294.83 L100.92,294.44 L101.44,294.48 L101.95,294.17 L102.47,293.99 L102.98,294.02 L103.5,294.09 L104.01,294.16 L104.53,293.98 L105.04,293.7 L105.56,293.5 L106.07,293.3 L106.59,293.31 L107.1,293.53 L107.62,293.78 L108.13,294.16 L108.65,294.39 L109.16,294.72 L109.68,294.93 L110.19,294.87 L110.7,295.07 L111.22,295.21 L111.73,295.63 L112.25,295.42 L112.76,295.18 L113.28,295.14 L113.79,295.39 L114.31,295.97 L114.82,296.27 L115.34,296.43 L115.85,296.42 L116.37,296.58 L116.88,296.82 L117.4,296.63 L117.91,296.27 L118.43,296.36 L118.94,296.32 L119.46,296.76 L119.97,296.62 L120.49,296.85 L121,296.73 L121.52,296.51 L122.03,296.38 L122.55,296.31 L123.06,296.38 L123.57,296.56 L124.09,296.46 L124.6,296.35 L125.12,296.12 L125.63,295.82 L126.15,296.08 L126.66,296.2 L127.18,296.39 L127.69,296.09 L128.21,295.8 L128.72,295.34 L129.24,295.01 L129.75,294.81 L130.27,294.82 L130.78,294.48 L131.3,294.17 L131.81,293.64 L132.33,293.46 L132.84,292.88 L133.36,292.48 L133.87,292.12 L134.39,291.76 L134.9,291.46 L135.42,290.85 L135.93,290.34 L136.44,290.01 L136.96,290 L137.47,290.03 L137.99,290.08 L138.5,289.94 L139.02,289.85 L139.53,289.79 L140.05,289.86 L140.56,290.45 L141.08,291.21 L141.59,291.93 L142.11,292.25 L142.62,292.54 L143.14,293.03 L143.65,293.48 L144.17,293.63 L144.68,293.91 L145.2,294.21 L145.71,294.43 L146.23,294.78 L146.74,295 L147.26,295.76 L147.77,296.01 L148.29,296.33 L148.8,296.1 L149.31,296.08 L149.83,296.22 L150.34,296.36 L150.86,296.22 L151.37,295.99 L151.89,296.25 L152.4,296.42 L152.92,296.77 L153.43,296.58 L153.95,296.57 L154.46,296.71 L154.98,296.56 L155.49,297.08 L156.01,296.97 L156.52,297.63 L157.04,297.52 L157.55,297.41 L158.07,297.06 L158.58,296.8 L159.1,297.18 L159.61,297.69 L160.13,297.78 L160.64,297.87 L161.16,297.95 L161.67,298.02 L162.18,298.09 L162.7,298.15 L163.21,298.2 L163.73,298.25 L164.24,298.29 L164.76,298.32 L165.27,298.35 L165.79,298.38 L166.3,298.4 L166.82,298.42 L167.33,298.43 L167.85,298.45 L168.36,298.46 L168.88,298.47 L169.39,298.48 L169.91,298.49 L170.42,298.49 L170.94,298.5 L171.45,298.51 L171.97,298.51 L172.48,298.52 L173,298.52 L173.51,298.53 L174.03,298.53 L174.54,298.53 L175.05,298.54 L175.57,298.54 L176.08,298.54 L176.6,298.55 L177.11,298.55 L177.63,298.55 L178.14,298.56 L178.66,298.56 L179.17,298.56 L179.69,298.56 L180.2,298.56 L180.72,298.57 L181.23,298.57 L181.75,298.57 L182.26,298.57 L182.78,298.57 L183.29,298.58 L183.81,298.58 L184.32,298.58 L184.84,298.58 L185.35,298.58 L185.87,298.58 L186.38,298.58 L186.9,298.58 L187.41,298.59 L187.92,298.59 L188.44,298.59 L188.95,298.59 L189.47,298.59 L189.98,298.59 L190.5,298.59 L191.01,298.59 L191.53,298.59 L192.04,298.59 L192.56,298.59 L193.07,298.6 L193.59,298.6 L194.1,298.6 L194.62,298.6 L195.13,298.6 L195.65,298.6 L196.16,298.6 L196.68,298.6 L197.19,298.6 L197.71,298.6 L198.22,298.6 L198.74,298.6 L199.25,298.6 L199.77,298.6 L200.28,298.6 L200.79,298.6 L201.31,298.6 L201.82,298.6 L202.34,298.61 L202.85,298.61 L203.37,298.61 L203.88,298.61 L204.4,298.61 L204.91,298.61 L205.43,298.61 L205.94,298.61 L206.46,298.61 L206.97,298.61 L207.49,298.61 L208,298.61 M38.12,302.76 L38.63,302.76 L39.15,302.76 L39.66,302.76 L40.18,302.76 L40.69,302.76 L41.21,302.75 L41.72,302.75 L42.24,302.75 L42.75,302.75 L43.27,302.75 L43.78,302.74 L44.3,302.74 L44.81,302.74 L45.33,302.73 L45.84,302.73 L46.35,302.73 L46.87,302.72 L47.38,302.72 L47.9,302.72 L48.41,302.71 L48.93,302.71 L49.44,302.71 L49.96,302.7 L50.47,302.7 L50.99,302.69 L51.5,302.69 L52.02,302.68 L52.53,302.68 L53.05,302.67 L53.56,302.66 L54.08,302.66 L54.59,302.65 L55.11,302.64 L55.62,302.64 L56.14,302.63 L56.65,302.62 L57.17,302.62 L57.68,302.61 L58.2,302.6 L58.71,302.59 L59.22,302.58 L59.74,302.57 L60.25,302.56 L60.77,302.56 L61.28,302.55 L61.8,302.54 L62.31,302.53 L62.83,302.52 L63.34,302.5 L63.86,302.49 L64.37,302.48 L64.89,302.47 L65.4,302.46 L65.92,302.45 L66.43,302.44 L66.95,302.42 L67.46,302.41 L67.98,302.4 L68.49,302.39 L69.01,302.37 L69.52,302.36 L70.04,302.35 L70.55,302.33 L71.07,302.32 L71.58,302.31 L72.09,302.29 L72.61,302.28 L73.12,302.27 L73.64,302.25 L74.15,302.24 L74.67,302.22 L75.18,302.21 L75.7,302.2 L76.21,302.18 L76.73,302.17 L77.24,302.15 L77.76,302.14 L78.27,302.12 L78.79,302.11 L79.3,302.1 L79.82,302.08 L80.33,302.07 L80.85,302.05 L81.36,302.04 L81.88,302.02 L82.39,302 L82.91,301.99 L83.42,301.97 L83.94,301.95 L84.45,301.93 L84.96,301.91 L85.48,301.89 L85.99,301.87 L86.51,301.84 L87.02,301.81 L87.54,301.81 L88.05,301.88 L88.57,302.1 L89.08,301.82 L89.6,301.8 L90.11,301.57 L90.63,301.74 L91.14,301.51 L91.66,301.5 L92.17,301.26 L92.69,301.27 L93.2,301.22 L93.72,300.97 L94.23,300.68 L94.75,300.41 L95.26,300.4 L95.78,300.5 L96.29,300.58 L96.81,300.49 L97.32,300.27 L97.83,300.1 L98.35,300.07 L98.86,300.05 L99.38,299.68 L99.89,299.43 L100.41,299.11 L100.92,299.13 L101.44,298.82 L101.95,298.71 L102.47,298.34 L102.98,298.23 L103.5,298.26 L104.01,298.35 L104.53,298.49 L105.04,298.35 L105.56,298.21 L106.07,298.28 L106.59,298.19 L107.1,298.4 L107.62,298.13 L108.13,298.31 L108.65,298.28 L109.16,298.55 L109.68,298.51 L110.19,298.76 L110.7,299.03 L111.22,299.33 L111.73,299.5 L112.25,299.27 L112.76,299.55 L113.28,299.92 L113.79,300.12 L114.31,300.22 L114.82,300.35 L115.34,300.78 L115.85,300.89 L116.37,300.79 L116.88,300.41 L117.4,300.4 L117.91,300.31 L118.43,300.61 L118.94,300.71 L119.46,301.09 L119.97,300.92 L120.49,300.92 L121,300.8 L121.52,301 L122.03,301.05 L122.55,301 L123.06,300.92 L123.57,300.83 L124.09,300.68 L124.6,300.82 L125.12,300.46 L125.63,300.65 L126.15,300.9 L126.66,300.99 L127.18,300.66 L127.69,299.67 L128.21,299.48 L128.72,299.2 L129.24,299.25 L129.75,298.95 L130.27,298.57 L130.78,298.48 L131.3,298.21 L131.81,297.7 L132.33,297.33 L132.84,296.92 L133.36,296.64 L133.87,295.9 L134.39,295.39 L134.9,294.92 L135.42,294.5 L135.93,294.12 L136.44,293.99 L136.96,293.78 L137.47,293.7 L137.99,293.57 L138.5,293.44 L139.02,293.37 L139.53,293.63 L140.05,294.33 L140.56,294.85 L141.08,295.03 L141.59,295.1 L142.11,295.44 L142.62,295.65 L143.14,296.22 L143.65,296.83 L144.17,297.6 L144.68,297.87 L145.2,298.06 L145.71,298.37 L146.23,298.65 L146.74,298.87 L147.26,298.95 L147.77,299.44 L148.29,299.73 L148.8,300.08 L149.31,300.13 L149.83,300.02 L150.34,300.07 L150.86,300.08 L151.37,300.59 L151.89,300.76 L152.4,300.8 L152.92,300.65 L153.43,300.8 L153.95,300.84 L154.46,300.93 L154.98,300.7 L155.49,300.77 L156.01,300.7 L156.52,301.07 L157.04,301.36 L157.55,301.48 L158.07,301.01 L158.58,300.91 L159.1,301.05 L159.61,301.83 L160.13,301.92 L160.64,302.01 L161.16,302.09 L161.67,302.17 L162.18,302.24 L162.7,302.3 L163.21,302.35 L163.73,302.4 L164.24,302.44 L164.76,302.48 L165.27,302.51 L165.79,302.53 L166.3,302.56 L166.82,302.58 L167.33,302.59 L167.85,302.61 L168.36,302.62 L168.88,302.63 L169.39,302.64 L169.91,302.65 L170.42,302.65 L170.94,302.66 L171.45,302.67 L171.97,302.67 L172.48,302.68 L173,302.68 L173.51,302.69 L174.03,302.69 L174.54,302.7 L175.05,302.7 L175.57,302.7 L176.08,302.71 L176.6,302.71 L177.11,302.71 L177.63,302.71 L178.14,302.72 L178.66,302.72 L179.17,302.72 L179.69,302.72 L180.2,302.73 L180.72,302.73 L181.23,302.73 L181.75,302.73 L182.26,302.73 L182.78,302.74 L183.29,302.74 L183.81,302.74 L184.32,302.74 L184.84,302.74 L185.35,302.74 L185.87,302.74 L186.38,302.75 L186.9,302.75 L187.41,302.75 L187.92,302.75 L188.44,302.75 L188.95,302.75 L189.47,302.75 L189.98,302.75 L190.5,302.75 L191.01,302.76 L191.53,302.76 L192.04,302.76 L192.56,302.76 L193.07,302.76 L193.59,302.76 L194.1,302.76 L194.62,302.76 L195.13,302.76 L195.65,302.76 L196.16,302.76 L196.68,302.76 L197.19,302.76 L197.71,302.76 L198.22,302.77 L198.74,302.77 L199.25,302.77 L199.77,302.77 L200.28,302.77 L200.79,302.77 L201.31,302.77 L201.82,302.77 L202.34,302.77 L202.85,302.77 L203.37,302.77 L203.88,302.77 L204.4,302.77 L204.91,302.77 L205.43,302.77 L205.94,302.77 L206.46,302.77 L206.97,302.77 L207.49,302.77 L208,302.77 M38.12,306.93 L38.63,306.93 L39.15,306.93 L39.66,306.92 L40.18,306.92 L40.69,306.92 L41.21,306.92 L41.72,306.92 L42.24,306.92 L42.75,306.91 L43.27,306.91 L43.78,306.91 L44.3,306.91 L44.81,306.9 L45.33,306.9 L45.84,306.9 L46.35,306.89 L46.87,306.89 L47.38,306.89 L47.9,306.88 L48.41,306.88 L48.93,306.88 L49.44,306.87 L49.96,306.87 L50.47,306.86 L50.99,306.86 L51.5,306.85 L52.02,306.85 L52.53,306.84 L53.05,306.84 L53.56,306.83 L54.08,306.82 L54.59,306.82 L55.11,306.81 L55.62,306.8 L56.14,306.8 L56.65,306.79 L57.17,306.78 L57.68,306.77 L58.2,306.77 L58.71,306.76 L59.22,306.75 L59.74,306.74 L60.25,306.73 L60.77,306.72 L61.28,306.71 L61.8,306.7 L62.31,306.69 L62.83,306.68 L63.34,306.67 L63.86,306.66 L64.37,306.65 L64.89,306.64 L65.4,306.63 L65.92,306.61 L66.43,306.6 L66.95,306.59 L67.46,306.58 L67.98,306.57 L68.49,306.55 L69.01,306.54 L69.52,306.53 L70.04,306.51 L70.55,306.5 L71.07,306.49 L71.58,306.48 L72.09,306.46 L72.61,306.45 L73.12,306.43 L73.64,306.42 L74.15,306.41 L74.67,306.39 L75.18,306.38 L75.7,306.37 L76.21,306.35 L76.73,306.34 L77.24,306.32 L77.76,306.31 L78.27,306.3 L78.79,306.28 L79.3,306.27 L79.82,306.25 L80.33,306.24 L80.85,306.22 L81.36,306.21 L81.88,306.19 L82.39,306.18 L82.91,306.16 L83.42,306.15 L83.94,306.13 L84.45,306.11 L84.96,306.09 L85.48,306.07 L85.99,306.05 L86.51,306.03 L87.02,306 L87.54,305.98 L88.05,306.19 L88.57,305.97 L89.08,305.73 L89.6,305.91 L90.11,305.72 L90.63,305.79 L91.14,305.59 L91.66,305.42 L92.17,305.37 L92.69,305.49 L93.2,305.71 L93.72,305.41 L94.23,305.11 L94.75,304.63 L95.26,304.81 L95.78,304.65 L96.29,304.54 L96.81,304.11 L97.32,304.07 L97.83,303.86 L98.35,304.09 L98.86,303.97 L99.38,304.16 L99.89,304 L100.41,303.79 L100.92,303.35 L101.44,303.11 L101.95,303.06 L102.47,303.16 L102.98,303.02 L103.5,302.72 L104.01,302.39 L104.53,302.47 L105.04,302.48 L105.56,302.56 L106.07,302.42 L106.59,302.78 L107.1,302.93 L107.62,303.12 L108.13,302.89 L108.65,302.9 L109.16,302.62 L109.68,302.88 L110.19,303.04 L110.7,303.43 L111.22,303.42 L111.73,303.67 L112.25,303.82 L112.76,304.18 L113.28,304.21 L113.79,304.24 L114.31,303.92 L114.82,303.98 L115.34,304.12 L115.85,304.32 L116.37,304.31 L116.88,304.41 L117.4,304.61 L117.91,304.86 L118.43,304.88 L118.94,304.94 L119.46,304.96 L119.97,305.05 L120.49,305.02 L121,305.08 L121.52,305.27 L122.03,305.43 L122.55,305.18 L123.06,304.83 L123.57,304.62 L124.09,304.71 L124.6,304.83 L125.12,305.08 L125.63,305.24 L126.15,305.02 L126.66,304.72 L127.18,304.36 L127.69,304.28 L128.21,303.71 L128.72,303.63 L129.24,303.09 L129.75,303.2 L130.27,302.57 L130.78,302.15 L131.3,301.45 L131.81,301.02 L132.33,300.8 L132.84,300.85 L133.36,300.87 L133.87,300.45 L134.39,299.61 L134.9,299.1 L135.42,298.52 L135.93,298.24 L136.44,297.84 L136.96,297.68 L137.47,297.11 L137.99,296.89 L138.5,296.83 L139.02,297.18 L139.53,297.29 L140.05,297.4 L140.56,297.55 L141.08,297.77 L141.59,298.14 L142.11,298.8 L142.62,299.26 L143.14,300.15 L143.65,300.49 L144.17,301.11 L144.68,301.68 L145.2,302.3 L145.71,302.91 L146.23,303.18 L146.74,303.39 L147.26,303.35 L147.77,303.6 L148.29,304.3 L148.8,304.51 L149.31,304.7 L149.83,304.37 L150.34,304.46 L150.86,304.29 L151.37,304.16 L151.89,304.22 L152.4,304.36 L152.92,304.81 L153.43,304.98 L153.95,304.97 L154.46,305.17 L154.98,305.3 L155.49,305.43 L156.01,305.55 L156.52,305.81 L157.04,305.87 L157.55,305.96 L158.07,305.68 L158.58,305.75 L159.1,305.59 L159.61,305.98 L160.13,306.06 L160.64,306.15 L161.16,306.24 L161.67,306.31 L162.18,306.38 L162.7,306.45 L163.21,306.5 L163.73,306.55 L164.24,306.6 L164.76,306.63 L165.27,306.66 L165.79,306.69 L166.3,306.71 L166.82,306.73 L167.33,306.75 L167.85,306.77 L168.36,306.78 L168.88,306.79 L169.39,306.8 L169.91,306.81 L170.42,306.81 L170.94,306.82 L171.45,306.83 L171.97,306.83 L172.48,306.84 L173,306.84 L173.51,306.85 L174.03,306.85 L174.54,306.86 L175.05,306.86 L175.57,306.86 L176.08,306.87 L176.6,306.87 L177.11,306.87 L177.63,306.88 L178.14,306.88 L178.66,306.88 L179.17,306.88 L179.69,306.89 L180.2,306.89 L180.72,306.89 L181.23,306.89 L181.75,306.9 L182.26,306.9 L182.78,306.9 L183.29,306.9 L183.81,306.9 L184.32,306.9 L184.84,306.9 L185.35,306.91 L185.87,306.91 L186.38,306.91 L186.9,306.91 L187.41,306.91 L187.92,306.91 L188.44,306.91 L188.95,306.91 L189.47,306.92 L189.98,306.92 L190.5,306.92 L191.01,306.92 L191.53,306.92 L192.04,306.92 L192.56,306.92 L193.07,306.92 L193.59,306.92 L194.1,306.92 L194.62,306.92 L195.13,306.92 L195.65,306.93 L196.16,306.93 L196.68,306.93 L197.19,306.93 L197.71,306.93 L198.22,306.93 L198.74,306.93 L199.25,306.93 L199.77,306.93 L200.28,306.93 L200.79,306.93 L201.31,306.93 L201.82,306.93 L202.34,306.93 L202.85,306.93 L203.37,306.93 L203.88,306.93 L204.4,306.94 L204.91,306.94 L205.43,306.94 L205.94,306.94 L206.46,306.94 L206.97,306.94 L207.49,306.94 L208,306.94 M38.12,311.09 L38.63,311.09 L39.15,311.09 L39.66,311.09 L40.18,311.09 L40.69,311.09 L41.21,311.08 L41.72,311.08 L42.24,311.08 L42.75,311.08 L43.27,311.08 L43.78,311.07 L44.3,311.07 L44.81,311.07 L45.33,311.07 L45.84,311.06 L46.35,311.06 L46.87,311.06 L47.38,311.05 L47.9,311.05 L48.41,311.05 L48.93,311.04 L49.44,311.04 L49.96,311.03 L50.47,311.03 L50.99,311.02 L51.5,311.02 L52.02,311.01 L52.53,311.01 L53.05,311 L53.56,311 L54.08,310.99 L54.59,310.98 L55.11,310.98 L55.62,310.97 L56.14,310.96 L56.65,310.96 L57.17,310.95 L57.68,310.94 L58.2,310.93 L58.71,310.92 L59.22,310.92 L59.74,310.91 L60.25,310.9 L60.77,310.89 L61.28,310.88 L61.8,310.87 L62.31,310.86 L62.83,310.85 L63.34,310.84 L63.86,310.83 L64.37,310.82 L64.89,310.8 L65.4,310.79 L65.92,310.78 L66.43,310.77 L66.95,310.76 L67.46,310.75 L67.98,310.73 L68.49,310.72 L69.01,310.71 L69.52,310.7 L70.04,310.68 L70.55,310.67 L71.07,310.66 L71.58,310.64 L72.09,310.63 L72.61,310.62 L73.12,310.6 L73.64,310.59 L74.15,310.57 L74.67,310.56 L75.18,310.55 L75.7,310.53 L76.21,310.52 L76.73,310.51 L77.24,310.49 L77.76,310.48 L78.27,310.46 L78.79,310.45 L79.3,310.44 L79.82,310.42 L80.33,310.41 L80.85,310.39 L81.36,310.38 L81.88,310.37 L82.39,310.35 L82.91,310.34 L83.42,310.32 L83.94,310.31 L84.45,310.29 L84.96,310.27 L85.48,310.25 L85.99,310.23 L86.51,310.21 L87.02,310.19 L87.54,310.16 L88.05,310.14 L88.57,309.73 L89.08,310.08 L89.6,309.97 L90.11,310.25 L90.63,310.2 L91.14,310.4 L91.66,310.44 L92.17,310 L92.69,309.81 L93.2,309.56 L93.72,309.6 L94.23,309.3 L94.75,309.6 L95.26,309.66 L95.78,309.96 L96.29,309.43 L96.81,309.1 L97.32,308.51 L97.83,308.33 L98.35,308.11 L98.86,307.98 L99.38,307.88 L99.89,307.78 L100.41,307.92 L100.92,307.81 L101.44,307.95 L101.95,307.78 L102.47,307.67 L102.98,307.19 L103.5,307.02 L104.01,306.86 L104.53,306.99 L105.04,306.71 L105.56,306.68 L106.07,306.76 L106.59,306.83 L107.1,306.92 L107.62,306.92 L108.13,306.88 L108.65,307.02 L109.16,307.19 L109.68,307.88 L110.19,308.23 L110.7,308.12 L111.22,308.41 L111.73,308.15 L112.25,308.58 L112.76,308.38 L113.28,308.5 L113.79,308.7 L114.31,308.72 L114.82,309.1 L115.34,308.97 L115.85,308.79 L116.37,308.44 L116.88,308.73 L117.4,309.12 L117.91,309.06 L118.43,308.74 L118.94,308.31 L119.46,308.43 L119.97,308.56 L120.49,308.99 L121,309.15 L121.52,309.1 L122.03,308.74 L122.55,308.8 L123.06,308.47 L123.57,308.92 L124.09,309.21 L124.6,309.6 L125.12,309.47 L125.63,309.11 L126.15,309.05 L126.66,308.56 L127.18,308.41 L127.69,308.08 L128.21,308.17 L128.72,307.97 L129.24,307.85 L129.75,307.63 L130.27,307.27 L130.78,307.17 L131.3,306.72 L131.81,306.45 L132.33,305.54 L132.84,305.06 L133.36,304.75 L133.87,304.47 L134.39,303.87 L134.9,303.04 L135.42,302.41 L135.93,301.9 L136.44,301.49 L136.96,301.07 L137.47,300.97 L137.99,300.78 L138.5,300.87 L139.02,300.77 L139.53,300.89 L140.05,301.18 L140.56,301.58 L141.08,302.02 L141.59,302.74 L142.11,303.12 L142.62,303.49 L143.14,303.69 L143.65,304.32 L144.17,305 L144.68,305.29 L145.2,305.77 L145.71,306.01 L146.23,306.8 L146.74,307.17 L147.26,307.41 L147.77,307.56 L148.29,307.93 L148.8,308.32 L149.31,308.48 L149.83,308.42 L150.34,308.5 L150.86,308.6 L151.37,308.6 L151.89,308.8 L152.4,308.78 L152.92,308.95 L153.43,309.18 L153.95,309.39 L154.46,309.52 L154.98,309.28 L155.49,309.36 L156.01,309.51 L156.52,309.7 L157.04,309.57 L157.55,309.52 L158.07,309.7 L158.58,310.15 L159.1,310.21 L159.61,310.1 L160.13,310.19 L160.64,310.29 L161.16,310.38 L161.67,310.46 L162.18,310.53 L162.7,310.6 L163.21,310.65 L163.73,310.71 L164.24,310.75 L164.76,310.79 L165.27,310.82 L165.79,310.85 L166.3,310.87 L166.82,310.89 L167.33,310.91 L167.85,310.92 L168.36,310.94 L168.88,310.95 L169.39,310.96 L169.91,310.97 L170.42,310.97 L170.94,310.98 L171.45,310.99 L171.97,310.99 L172.48,311 L173,311 L173.51,311.01 L174.03,311.01 L174.54,311.02 L175.05,311.02 L175.57,311.03 L176.08,311.03 L176.6,311.03 L177.11,311.04 L177.63,311.04 L178.14,311.04 L178.66,311.04 L179.17,311.05 L179.69,311.05 L180.2,311.05 L180.72,311.05 L181.23,311.06 L181.75,311.06 L182.26,311.06 L182.78,311.06 L183.29,311.06 L183.81,311.06 L184.32,311.07 L184.84,311.07 L185.35,311.07 L185.87,311.07 L186.38,311.07 L186.9,311.07 L187.41,311.07 L187.92,311.08 L188.44,311.08 L188.95,311.08 L189.47,311.08 L189.98,311.08 L190.5,311.08 L191.01,311.08 L191.53,311.08 L192.04,311.08 L192.56,311.08 L193.07,311.09 L193.59,311.09 L194.1,311.09 L194.62,311.09 L195.13,311.09 L195.65,311.09 L196.16,311.09 L196.68,311.09 L197.19,311.09 L197.71,311.09 L198.22,311.09 L198.74,311.09 L199.25,311.09 L199.77,311.09 L200.28,311.09 L200.79,311.1 L201.31,311.1 L201.82,311.1 L202.34,311.1 L202.85,311.1 L203.37,311.1 L203.88,311.1 L204.4,311.1 L204.91,311.1 L205.43,311.1 L205.94,311.1 L206.46,311.1 L206.97,311.1 L207.49,311.1 L208,311.1 M38.12,315.26 L38.63,315.26 L39.15,315.26 L39.66,315.26 L40.18,315.25 L40.69,315.25 L41.21,315.25 L41.72,315.25 L42.24,315.25 L42.75,315.24 L43.27,315.24 L43.78,315.24 L44.3,315.24 L44.81,315.23 L45.33,315.23 L45.84,315.23 L46.35,315.22 L46.87,315.22 L47.38,315.22 L47.9,315.21 L48.41,315.21 L48.93,315.21 L49.44,315.2 L49.96,315.2 L50.47,315.19 L50.99,315.19 L51.5,315.18 L52.02,315.18 L52.53,315.17 L53.05,315.17 L53.56,315.16 L54.08,315.16 L54.59,315.15 L55.11,315.14 L55.62,315.14 L56.14,315.13 L56.65,315.12 L57.17,315.11 L57.68,315.11 L58.2,315.1 L58.71,315.09 L59.22,315.08 L59.74,315.07 L60.25,315.06 L60.77,315.05 L61.28,315.04 L61.8,315.03 L62.31,315.02 L62.83,315.01 L63.34,315 L63.86,314.99 L64.37,314.98 L64.89,314.97 L65.4,314.96 L65.92,314.95 L66.43,314.94 L66.95,314.92 L67.46,314.91 L67.98,314.9 L68.49,314.89 L69.01,314.87 L69.52,314.86 L70.04,314.85 L70.55,314.84 L71.07,314.82 L71.58,314.81 L72.09,314.8 L72.61,314.78 L73.12,314.77 L73.64,314.76 L74.15,314.74 L74.67,314.73 L75.18,314.72 L75.7,314.7 L76.21,314.69 L76.73,314.67 L77.24,314.66 L77.76,314.65 L78.27,314.63 L78.79,314.62 L79.3,314.61 L79.82,314.59 L80.33,314.58 L80.85,314.57 L81.36,314.55 L81.88,314.54 L82.39,314.52 L82.91,314.51 L83.42,314.49 L83.94,314.48 L84.45,314.46 L84.96,314.45 L85.48,314.43 L85.99,314.41 L86.51,314.39 L87.02,314.37 L87.54,314.35 L88.05,314.32 L88.57,314.3 L89.08,314.1 L89.6,314.27 L90.11,314.28 L90.63,313.92 L91.14,314.08 L91.66,313.9 L92.17,314.15 L92.69,313.71 L93.2,313.83 L93.72,313.8 L94.23,313.89 L94.75,313.77 L95.26,313.75 L95.78,313.34 L96.29,313.04 L96.81,312.78 L97.32,312.84 L97.83,312.96 L98.35,313.15 L98.86,313.03 L99.38,312.96 L99.89,312.69 L100.41,312.75 L100.92,312.55 L101.44,312.42 L101.95,311.96 L102.47,311.55 L102.98,311.36 L103.5,311.37 L104.01,311.51 L104.53,311.39 L105.04,311.49 L105.56,311.39 L106.07,311.66 L106.59,311.97 L107.1,311.78 L107.62,311.56 L108.13,311.24 L108.65,311.51 L109.16,311.6 L109.68,311.57 L110.19,311.92 L110.7,312.15 L111.22,312.18 L111.73,312.09 L112.25,312.21 L112.76,312.71 L113.28,312.58 L113.79,312.42 L114.31,312.22 L114.82,312.8 L115.34,313.14 L115.85,313.48 L116.37,313.62 L116.88,313.68 L117.4,313.62 L117.91,313.07 L118.43,313.23 L118.94,313.06 L119.46,313.35 L119.97,313.07 L120.49,313.21 L121,313.13 L121.52,313.25 L122.03,313.09 L122.55,313.11 L123.06,313.22 L123.57,313.4 L124.09,313.19 L124.6,312.74 L125.12,312.76 L125.63,312.9 L126.15,312.81 L126.66,312.49 L127.18,312.5 L127.69,312.49 L128.21,312.35 L128.72,312.28 L129.24,312.06 L129.75,311.77 L130.27,311.11 L130.78,310.56 L131.3,309.92 L131.81,309.37 L132.33,308.94 L132.84,308.88 L133.36,308.78 L133.87,308.47 L134.39,307.8 L134.9,307.06 L135.42,306.68 L135.93,306.11 L136.44,305.49 L136.96,305.06 L137.47,304.85 L137.99,304.94 L138.5,305.1 L139.02,305.09 L139.53,305.13 L140.05,304.96 L140.56,305.32 L141.08,305.44 L141.59,305.74 L142.11,305.83 L142.62,306.96 L143.14,307.73 L143.65,308.45 L144.17,308.5 L144.68,308.87 L145.2,309.46 L145.71,309.82 L146.23,310.36 L146.74,310.76 L147.26,310.89 L147.77,311.19 L148.29,311.27 L148.8,311.85 L149.31,311.88 L149.83,312.18 L150.34,312.19 L150.86,312.25 L151.37,312.37 L151.89,312.67 L152.4,313.02 L152.92,313.2 L153.43,312.97 L153.95,312.68 L154.46,312.9 L154.98,313.33 L155.49,313.68 L156.01,313.36 L156.52,313.53 L157.04,313.74 L157.55,313.97 L158.07,313.78 L158.58,313.95 L159.1,313.93 L159.61,314.3 L160.13,314.33 L160.64,314.43 L161.16,314.52 L161.67,314.6 L162.18,314.68 L162.7,314.75 L163.21,314.8 L163.73,314.86 L164.24,314.9 L164.76,314.94 L165.27,314.97 L165.79,315 L166.3,315.03 L166.82,315.05 L167.33,315.07 L167.85,315.08 L168.36,315.09 L168.88,315.11 L169.39,315.12 L169.91,315.13 L170.42,315.13 L170.94,315.14 L171.45,315.15 L171.97,315.15 L172.48,315.16 L173,315.16 L173.51,315.17 L174.03,315.17 L174.54,315.18 L175.05,315.18 L175.57,315.19 L176.08,315.19 L176.6,315.19 L177.11,315.2 L177.63,315.2 L178.14,315.2 L178.66,315.21 L179.17,315.21 L179.69,315.21 L180.2,315.21 L180.72,315.22 L181.23,315.22 L181.75,315.22 L182.26,315.22 L182.78,315.22 L183.29,315.23 L183.81,315.23 L184.32,315.23 L184.84,315.23 L185.35,315.23 L185.87,315.23 L186.38,315.23 L186.9,315.24 L187.41,315.24 L187.92,315.24 L188.44,315.24 L188.95,315.24 L189.47,315.24 L189.98,315.24 L190.5,315.24 L191.01,315.24 L191.53,315.25 L192.04,315.25 L192.56,315.25 L193.07,315.25 L193.59,315.25 L194.1,315.25 L194.62,315.25 L195.13,315.25 L195.65,315.25 L196.16,315.25 L196.68,315.25 L197.19,315.25 L197.71,315.26 L198.22,315.26 L198.74,315.26 L199.25,315.26 L199.77,315.26 L200.28,315.26 L200.79,315.26 L201.31,315.26 L201.82,315.26 L202.34,315.26 L202.85,315.26 L203.37,315.26 L203.88,315.26 L204.4,315.26 L204.91,315.26 L205.43,315.26 L205.94,315.26 L206.46,315.26 L206.97,315.27 L207.49,315.27 L208,315.27 M38.12,319.43 L38.63,319.42 L39.15,319.42 L39.66,319.42 L40.18,319.42 L40.69,319.42 L41.21,319.42 L41.72,319.41 L42.24,319.41 L42.75,319.41 L43.27,319.41 L43.78,319.4 L44.3,319.4 L44.81,319.4 L45.33,319.4 L45.84,319.39 L46.35,319.39 L46.87,319.39 L47.38,319.38 L47.9,319.38 L48.41,319.38 L48.93,319.37 L49.44,319.37 L49.96,319.36 L50.47,319.36 L50.99,319.35 L51.5,319.35 L52.02,319.34 L52.53,319.34 L53.05,319.33 L53.56,319.33 L54.08,319.32 L54.59,319.31 L55.11,319.31 L55.62,319.3 L56.14,319.29 L56.65,319.29 L57.17,319.28 L57.68,319.27 L58.2,319.26 L58.71,319.26 L59.22,319.25 L59.74,319.24 L60.25,319.23 L60.77,319.22 L61.28,319.21 L61.8,319.2 L62.31,319.19 L62.83,319.18 L63.34,319.17 L63.86,319.16 L64.37,319.15 L64.89,319.14 L65.4,319.13 L65.92,319.11 L66.43,319.1 L66.95,319.09 L67.46,319.08 L67.98,319.07 L68.49,319.05 L69.01,319.04 L69.52,319.03 L70.04,319.02 L70.55,319 L71.07,318.99 L71.58,318.98 L72.09,318.96 L72.61,318.95 L73.12,318.94 L73.64,318.92 L74.15,318.91 L74.67,318.9 L75.18,318.88 L75.7,318.87 L76.21,318.86 L76.73,318.84 L77.24,318.83 L77.76,318.82 L78.27,318.8 L78.79,318.79 L79.3,318.78 L79.82,318.76 L80.33,318.75 L80.85,318.73 L81.36,318.72 L81.88,318.71 L82.39,318.69 L82.91,318.68 L83.42,318.67 L83.94,318.65 L84.45,318.64 L84.96,318.62 L85.48,318.61 L85.99,318.59 L86.51,318.57 L87.02,318.55 L87.54,318.53 L88.05,318.51 L88.57,318.48 L89.08,318.59 L89.6,318.72 L90.11,318.34 L90.63,318.25 L91.14,317.93 L91.66,317.93 L92.17,318.03 L92.69,318.42 L93.2,318.53 L93.72,318.23 L94.23,318 L94.75,318.05 L95.26,317.99 L95.78,317.93 L96.29,317.81 L96.81,317.75 L97.32,317.64 L97.83,317.65 L98.35,317.59 L98.86,317.38 L99.38,317.14 L99.89,317.22 L100.41,317.07 L100.92,316.66 L101.44,316.35 L101.95,316.3 L102.47,316.47 L102.98,316.32 L103.5,316.47 L104.01,316.32 L104.53,316.22 L105.04,316.05 L105.56,315.98 L106.07,315.98 L106.59,315.68 L107.1,315.76 L107.62,316.01 L108.13,316.37 L108.65,316.46 L109.16,316.25 L109.68,316.03 L110.19,316.2 L110.7,316.34 L111.22,316.56 L111.73,316.52 L112.25,316.66 L112.76,316.96 L113.28,316.83 L113.79,316.8 L114.31,316.93 L114.82,317.16 L115.34,317.53 L115.85,317.38 L116.37,317.34 L116.88,317.5 L117.4,317.67 L117.91,317.89 L118.43,317.31 L118.94,317.2 L119.46,317.09 L119.97,317.45 L120.49,317.52 L121,317.53 L121.52,317.49 L122.03,317.41 L122.55,317.52 L123.06,317.7 L123.57,317.72 L124.09,317.65 L124.6,317.63 L125.12,317.76 L125.63,317.78 L126.15,317.25 L126.66,316.9 L127.18,316.43 L127.69,316.82 L128.21,316.67 L128.72,316.46 L129.24,315.94 L129.75,315.65 L130.27,315.69 L130.78,315.21 L131.3,314.9 L131.81,314.55 L132.33,313.98 L132.84,313.48 L133.36,312.68 L133.87,312.56 L134.39,311.9 L134.9,311.51 L135.42,310.6 L135.93,310.38 L136.44,309.63 L136.96,309.36 L137.47,308.82 L137.99,308.8 L138.5,308.82 L139.02,308.79 L139.53,308.57 L140.05,308.29 L140.56,308.57 L141.08,308.9 L141.59,309.52 L142.11,310.12 L142.62,310.85 L143.14,311.37 L143.65,311.6 L144.17,312.46 L144.68,312.83 L145.2,313.37 L145.71,313.45 L146.23,314.29 L146.74,315.06 L147.26,315.38 L147.77,315.55 L148.29,315.46 L148.8,316.04 L149.31,316.11 L149.83,316.36 L150.34,316.54 L150.86,316.81 L151.37,316.73 L151.89,316.74 L152.4,316.61 L152.92,316.96 L153.43,317.07 L153.95,317.4 L154.46,317.64 L154.98,317.33 L155.49,317.58 L156.01,317.71 L156.52,318.08 L157.04,317.81 L157.55,317.95 L158.07,318.2 L158.58,318.5 L159.1,318.48 L159.61,318.45 L160.13,318.46 L160.64,318.57 L161.16,318.66 L161.67,318.75 L162.18,318.82 L162.7,318.89 L163.21,318.95 L163.73,319.01 L164.24,319.05 L164.76,319.09 L165.27,319.13 L165.79,319.16 L166.3,319.18 L166.82,319.21 L167.33,319.22 L167.85,319.24 L168.36,319.25 L168.88,319.26 L169.39,319.28 L169.91,319.28 L170.42,319.29 L170.94,319.3 L171.45,319.31 L171.97,319.31 L172.48,319.32 L173,319.32 L173.51,319.33 L174.03,319.33 L174.54,319.34 L175.05,319.34 L175.57,319.35 L176.08,319.35 L176.6,319.35 L177.11,319.36 L177.63,319.36 L178.14,319.36 L178.66,319.37 L179.17,319.37 L179.69,319.37 L180.2,319.37 L180.72,319.38 L181.23,319.38 L181.75,319.38 L182.26,319.38 L182.78,319.39 L183.29,319.39 L183.81,319.39 L184.32,319.39 L184.84,319.39 L185.35,319.39 L185.87,319.4 L186.38,319.4 L186.9,319.4 L187.41,319.4 L187.92,319.4 L188.44,319.4 L188.95,319.4 L189.47,319.4 L189.98,319.41 L190.5,319.41 L191.01,319.41 L191.53,319.41 L192.04,319.41 L192.56,319.41 L193.07,319.41 L193.59,319.41 L194.1,319.41 L194.62,319.41 L195.13,319.42 L195.65,319.42 L196.16,319.42 L196.68,319.42 L197.19,319.42 L197.71,319.42 L198.22,319.42 L198.74,319.42 L199.25,319.42 L199.77,319.42 L200.28,319.42 L200.79,319.42 L201.31,319.42 L201.82,319.42 L202.34,319.42 L202.85,319.43 L203.37,319.43 L203.88,319.43 L204.4,319.43 L204.91,319.43 L205.43,319.43 L205.94,319.43 L206.46,319.43 L206.97,319.43 L207.49,319.43 L208,319.43 M38.12,323.59 L38.63,323.59 L39.15,323.59 L39.66,323.59 L40.18,323.58 L40.69,323.58 L41.21,323.58 L41.72,323.58 L42.24,323.58 L42.75,323.57 L43.27,323.57 L43.78,323.57 L44.3,323.57 L44.81,323.56 L45.33,323.56 L45.84,323.56 L46.35,323.56 L46.87,323.55 L47.38,323.55 L47.9,323.54 L48.41,323.54 L48.93,323.54 L49.44,323.53 L49.96,323.53 L50.47,323.52 L50.99,323.52 L51.5,323.51 L52.02,323.51 L52.53,323.5 L53.05,323.5 L53.56,323.49 L54.08,323.49 L54.59,323.48 L55.11,323.47 L55.62,323.47 L56.14,323.46 L56.65,323.45 L57.17,323.44 L57.68,323.44 L58.2,323.43 L58.71,323.42 L59.22,323.41 L59.74,323.4 L60.25,323.39 L60.77,323.38 L61.28,323.38 L61.8,323.37 L62.31,323.36 L62.83,323.35 L63.34,323.34 L63.86,323.32 L64.37,323.31 L64.89,323.3 L65.4,323.29 L65.92,323.28 L66.43,323.27 L66.95,323.26 L67.46,323.24 L67.98,323.23 L68.49,323.22 L69.01,323.21 L69.52,323.19 L70.04,323.18 L70.55,323.17 L71.07,323.16 L71.58,323.14 L72.09,323.13 L72.61,323.12 L73.12,323.1 L73.64,323.09 L74.15,323.08 L74.67,323.06 L75.18,323.05 L75.7,323.04 L76.21,323.02 L76.73,323.01 L77.24,323 L77.76,322.98 L78.27,322.97 L78.79,322.96 L79.3,322.94 L79.82,322.93 L80.33,322.92 L80.85,322.9 L81.36,322.89 L81.88,322.88 L82.39,322.86 L82.91,322.85 L83.42,322.84 L83.94,322.82 L84.45,322.81 L84.96,322.79 L85.48,322.78 L85.99,322.76 L86.51,322.74 L87.02,322.73 L87.54,322.71 L88.05,322.69 L88.57,322.67 L89.08,322.64 L89.6,322.65 L90.11,322.5 L90.63,322.55 L91.14,322.41 L91.66,322.63 L92.17,322.51 L92.69,322.5 L93.2,322.44 L93.72,322.46 L94.23,322.66 L94.75,322.31 L95.26,322.3 L95.78,321.74 L96.29,322.02 L96.81,322.16 L97.32,322.35 L97.83,322.01 L98.35,321.41 L98.86,320.96 L99.38,320.74 L99.89,320.93 L100.41,321.1 L100.92,321.09 L101.44,320.75 L101.95,320.7 L102.47,320.79 L102.98,320.99 L103.5,320.57 L104.01,320.48 L104.53,320.17 L105.04,320.27 L105.56,320.01 L106.07,320.26 L106.59,320.25 L107.1,320.19 L107.62,319.89 L108.13,319.99 L108.65,320.06 L109.16,320.18 L109.68,320.24 L110.19,320.42 L110.7,320.21 L111.22,320.32 L111.73,320.65 L112.25,320.98 L112.76,320.88 L113.28,320.66 L113.79,320.87 L114.31,320.92 L114.82,320.78 L115.34,320.62 L115.85,321.15 L116.37,321.64 L116.88,321.88 L117.4,321.94 L117.91,321.6 L118.43,321.56 L118.94,321.38 L119.46,321.83 L119.97,321.8 L120.49,321.74 L121,321.56 L121.52,321.89 L122.03,322 L122.55,322.11 L123.06,321.93 L123.57,321.61 L124.09,321.58 L124.6,321.42 L125.12,321.55 L125.63,321.53 L126.15,321.61 L126.66,321.5 L127.18,321.42 L127.69,321.48 L128.21,321.15 L128.72,320.71 L129.24,320.08 L129.75,320.11 L130.27,319.87 L130.78,319.83 L131.3,319 L131.81,318.27 L132.33,317.51 L132.84,316.99 L133.36,316.93 L133.87,316.5 L134.39,316.11 L134.9,315.24 L135.42,314.64 L135.93,314.01 L136.44,313.53 L136.96,313.12 L137.47,312.63 L137.99,312.42 L138.5,312.04 L139.02,312.01 L139.53,312.11 L140.05,312.4 L140.56,312.4 L141.08,312.55 L141.59,312.8 L142.11,313.65 L142.62,314.01 L143.14,314.66 L143.65,315.02 L144.17,315.63 L144.68,316.33 L145.2,317.02 L145.71,317.58 L146.23,318.09 L146.74,318.52 L147.26,319.06 L147.77,319.17 L148.29,319.66 L148.8,319.83 L149.31,320.03 L149.83,320.16 L150.34,320.45 L150.86,320.62 L151.37,320.74 L151.89,320.72 L152.4,320.74 L152.92,320.95 L153.43,321.05 L153.95,321.13 L154.46,321.24 L154.98,321.38 L155.49,321.59 L156.01,321.55 L156.52,321.65 L157.04,322 L157.55,322.06 L158.07,322.33 L158.58,322.2 L159.1,322.32 L159.61,322.32 L160.13,322.4 L160.64,322.7 L161.16,322.8 L161.67,322.89 L162.18,322.97 L162.7,323.04 L163.21,323.1 L163.73,323.16 L164.24,323.21 L164.76,323.25 L165.27,323.28 L165.79,323.31 L166.3,323.34 L166.82,323.36 L167.33,323.38 L167.85,323.4 L168.36,323.41 L168.88,323.42 L169.39,323.43 L169.91,323.44 L170.42,323.45 L170.94,323.46 L171.45,323.47 L171.97,323.47 L172.48,323.48 L173,323.48 L173.51,323.49 L174.03,323.49 L174.54,323.5 L175.05,323.5 L175.57,323.51 L176.08,323.51 L176.6,323.51 L177.11,323.52 L177.63,323.52 L178.14,323.52 L178.66,323.53 L179.17,323.53 L179.69,323.53 L180.2,323.54 L180.72,323.54 L181.23,323.54 L181.75,323.54 L182.26,323.55 L182.78,323.55 L183.29,323.55 L183.81,323.55 L184.32,323.55 L184.84,323.55 L185.35,323.56 L185.87,323.56 L186.38,323.56 L186.9,323.56 L187.41,323.56 L187.92,323.56 L188.44,323.56 L188.95,323.57 L189.47,323.57 L189.98,323.57 L190.5,323.57 L191.01,323.57 L191.53,323.57 L192.04,323.57 L192.56,323.57 L193.07,323.57 L193.59,323.58 L194.1,323.58 L194.62,323.58 L195.13,323.58 L195.65,323.58 L196.16,323.58 L196.68,323.58 L197.19,323.58 L197.71,323.58 L198.22,323.58 L198.74,323.58 L199.25,323.58 L199.77,323.59 L200.28,323.59 L200.79,323.59 L201.31,323.59 L201.82,323.59 L202.34,323.59 L202.85,323.59 L203.37,323.59 L203.88,323.59 L204.4,323.59 L204.91,323.59 L205.43,323.59 L205.94,323.59 L206.46,323.59 L206.97,323.59 L207.49,323.59 L208,323.59" fill="none" stroke="#000" stroke-width="1.4"/>
<rect x="38.6" y="199.5" width="170.2" height="126.9" fill="none" stroke="#8c8c8c" stroke-width="0.9"/>
<path d="M45.84,326.4v-2.0M45.84,199.5v2.0M54.42,326.4v-2.0M54.42,199.5v2.0M63,326.4v-2.0M63,199.5v2.0M71.58,326.4v-2.0M71.58,199.5v2.0M80.16,326.4v-2.0M80.16,199.5v2.0M88.74,326.4v-2.0M88.74,199.5v2.0M97.32,326.4v-2.0M97.32,199.5v2.0M105.9,326.4v-2.0M105.9,199.5v2.0M114.48,326.4v-2.0M114.48,199.5v2.0M123.06,326.4v-2.0M123.06,199.5v2.0M131.64,326.4v-2.0M131.64,199.5v2.0M140.22,326.4v-2.0M140.22,199.5v2.0M148.8,326.4v-2.0M148.8,199.5v2.0M157.38,326.4v-2.0M157.38,199.5v2.0M165.96,326.4v-2.0M165.96,199.5v2.0M174.54,326.4v-2.0M174.54,199.5v2.0M183.12,326.4v-2.0M183.12,199.5v2.0M191.7,326.4v-2.0M191.7,199.5v2.0M200.28,326.4v-2.0M200.28,199.5v2.0" stroke="#555" stroke-width="0.8" fill="none"/>
<path d="M63,326.4v-3.5M63,199.5v3.5M105.9,326.4v-3.5M105.9,199.5v3.5M148.8,326.4v-3.5M148.8,199.5v3.5M191.7,326.4v-3.5M191.7,199.5v3.5" stroke="#666" stroke-width="0.8" fill="none"/>
<text x="63" y="337.82" text-anchor="middle" font-size="8.4" font-weight="normal" fill="#000" stroke="#000" stroke-width="0.14">1.95</text>
<text x="105.9" y="337.82" text-anchor="middle" font-size="8.4" font-weight="normal" fill="#000" stroke="#000" stroke-width="0.14">2.00</text>
<text x="148.8" y="337.82" text-anchor="middle" font-size="8.4" font-weight="normal" fill="#000" stroke="#000" stroke-width="0.14">2.05</text>
<text x="191.7" y="337.82" text-anchor="middle" font-size="8.4" font-weight="normal" fill="#000" stroke="#000" stroke-width="0.14">2.10</text>
<path d="" stroke="#555" stroke-width="0.8" fill="none"/>
<path d="M38.6,225.4h3.5M38.6,244.4h3.5M38.6,263.4h3.5M38.6,282.4h3.5M38.6,301.4h3.5M38.6,320.4h3.5" stroke="#666" stroke-width="0.8" fill="none"/>
<text x="34.7" y="228.42" text-anchor="end" font-size="8.4" font-weight="normal" fill="#000" stroke="#000" stroke-width="0.14">8</text>
<text x="34.7" y="247.42" text-anchor="end" font-size="8.4" font-weight="normal" fill="#000" stroke="#000" stroke-width="0.14">4</text>
<text x="34.7" y="266.42" text-anchor="end" font-size="8.4" font-weight="normal" fill="#000" stroke="#000" stroke-width="0.14">0</text>
<text x="34.7" y="285.42" text-anchor="end" font-size="8.4" font-weight="normal" fill="#000" stroke="#000" stroke-width="0.14">-<tspan dx="2.3">4</tspan></text>
<text x="34.7" y="304.42" text-anchor="end" font-size="8.4" font-weight="normal" fill="#000" stroke="#000" stroke-width="0.14">-<tspan dx="2.3">8</tspan></text>
<text x="34.7" y="323.42" text-anchor="end" font-size="8.4" font-weight="normal" fill="#000" stroke="#000" stroke-width="0.14">-<tspan dx="2.3">12</tspan></text>
<text x="122.5" y="354.82" text-anchor="middle" font-size="8.4" font-weight="normal" fill="#000" stroke="#000" stroke-width="0.14">Energy (eV)</text>
<text x="10.4" y="264.7" text-anchor="middle" font-size="8.4" font-weight="normal" fill="#000" stroke="#000" stroke-width="0.14" transform="rotate(-90 10.4 264.7)">Detuning (meV)</text>
<text x="0" y="191.8" text-anchor="start" font-size="10" font-weight="bold" fill="#000">b</text>
<clipPath id="cc"><rect x="272.3" y="11.5" width="162.89999999999998" height="126.9"/></clipPath>
<g clip-path="url(#cc)">
<path d="M272.3,84.9H435.2" stroke="#a9a9a9" stroke-width="1.8" stroke-dasharray="7,5" stroke-dashoffset="-1.9" fill="none"/>
<path d="M272.3,15.22L435.2,130.11" stroke="#6a6a6a" stroke-width="1.2" stroke-dasharray="6,6" stroke-dashoffset="-2.9" fill="none"/>
<path d="M272.3,14.95 L273.67,15.87 L275.04,16.79 L276.41,17.71 L277.78,18.63 L279.14,19.55 L280.51,20.47 L281.88,21.38 L283.25,22.3 L284.62,23.21 L285.99,24.12 L287.36,25.04 L288.73,25.95 L290.1,26.86 L291.46,27.76 L292.83,28.67 L294.2,29.58 L295.57,30.48 L296.94,31.38 L298.31,32.29 L299.68,33.19 L301.05,34.08 L302.42,34.98 L303.78,35.87 L305.15,36.77 L306.52,37.66 L307.89,38.54 L309.26,39.43 L310.63,40.31 L312,41.19 L313.37,42.07 L314.74,42.95 L316.11,43.82 L317.47,44.69 L318.84,45.56 L320.21,46.42 L321.58,47.28 L322.95,48.13 L324.32,48.99 L325.69,49.83 L327.06,50.68 L328.43,51.51 L329.79,52.35 L331.16,53.17 L332.53,54 L333.9,54.81 L335.27,55.62 L336.64,56.42 L338.01,57.22 L339.38,58.01 L340.75,58.79 L342.11,59.56 L343.48,60.33 L344.85,61.08 L346.22,61.83 L347.59,62.56 L348.96,63.28 L350.33,64 L351.7,64.7 L353.07,65.38 L354.43,66.06 L355.8,66.72 L357.17,67.36 L358.54,68 L359.91,68.61 L361.28,69.21 L362.65,69.8 L364.02,70.36 L365.39,70.91 L366.75,71.45 L368.12,71.96 L369.49,72.46 L370.86,72.94 L372.23,73.4 L373.6,73.84 L374.97,74.27 L376.34,74.67 L377.71,75.06 L379.07,75.44 L380.44,75.8 L381.81,76.14 L383.18,76.46 L384.55,76.77 L385.92,77.07 L387.29,77.35 L388.66,77.62 L390.03,77.88 L391.39,78.12 L392.76,78.35 L394.13,78.57 L395.5,78.78 L396.87,78.98 L398.24,79.17 L399.61,79.36 L400.98,79.53 L402.35,79.69 L403.72,79.85 L405.08,80 L406.45,80.15 L407.82,80.28 L409.19,80.42 L410.56,80.54 L411.93,80.66 L413.3,80.78 L414.67,80.89 L416.04,80.99 L417.4,81.09 L418.77,81.19 L420.14,81.28 L421.51,81.37 L422.88,81.46 L424.25,81.54 L425.62,81.62 L426.99,81.7 L428.36,81.77 L429.72,81.84 L431.09,81.91 L432.46,81.98 L433.83,82.04 L435.2,82.1" fill="none" stroke="#111" stroke-width="1.1" />
<path d="M272.3,88.25 L273.67,88.28 L275.04,88.31 L276.41,88.34 L277.78,88.37 L279.14,88.41 L280.51,88.44 L281.88,88.48 L283.25,88.51 L284.62,88.55 L285.99,88.59 L287.36,88.63 L288.73,88.67 L290.1,88.71 L291.46,88.75 L292.83,88.79 L294.2,88.84 L295.57,88.89 L296.94,88.94 L298.31,88.99 L299.68,89.04 L301.05,89.09 L302.42,89.15 L303.78,89.2 L305.15,89.26 L306.52,89.32 L307.89,89.39 L309.26,89.45 L310.63,89.52 L312,89.59 L313.37,89.66 L314.74,89.74 L316.11,89.82 L317.47,89.9 L318.84,89.98 L320.21,90.07 L321.58,90.16 L322.95,90.26 L324.32,90.36 L325.69,90.46 L327.06,90.57 L328.43,90.68 L329.79,90.8 L331.16,90.92 L332.53,91.05 L333.9,91.19 L335.27,91.33 L336.64,91.48 L338.01,91.63 L339.38,91.8 L340.75,91.97 L342.11,92.14 L343.48,92.33 L344.85,92.53 L346.22,92.73 L347.59,92.95 L348.96,93.18 L350.33,93.42 L351.7,93.67 L353.07,93.93 L354.43,94.21 L355.8,94.5 L357.17,94.8 L358.54,95.12 L359.91,95.46 L361.28,95.81 L362.65,96.18 L364.02,96.56 L365.39,96.96 L366.75,97.38 L368.12,97.82 L369.49,98.27 L370.86,98.74 L372.23,99.23 L373.6,99.74 L374.97,100.27 L376.34,100.81 L377.71,101.37 L379.07,101.95 L380.44,102.54 L381.81,103.15 L383.18,103.78 L384.55,104.42 L385.92,105.07 L387.29,105.74 L388.66,106.43 L390.03,107.12 L391.39,107.83 L392.76,108.55 L394.13,109.28 L395.5,110.02 L396.87,110.77 L398.24,111.53 L399.61,112.3 L400.98,113.08 L402.35,113.86 L403.72,114.66 L405.08,115.46 L406.45,116.26 L407.82,117.08 L409.19,117.9 L410.56,118.72 L411.93,119.55 L413.3,120.39 L414.67,121.23 L416.04,122.08 L417.4,122.93 L418.77,123.78 L420.14,124.64 L421.51,125.5 L422.88,126.36 L424.25,127.23 L425.62,128.1 L426.99,128.98 L428.36,129.86 L429.72,130.74 L431.09,131.62 L432.46,132.5 L433.83,133.39 L435.2,134.28" fill="none" stroke="#f07e1b" stroke-width="1.25" />
<path d="M273.93,17h2.4v2.4h-2.4zM277.46,19.21h2.4v2.4h-2.4zM280.99,21.55h2.4v2.4h-2.4zM284.52,24.31h2.4v2.4h-2.4zM288.04,25.38h2.4v2.4h-2.4zM291.57,27.48h2.4v2.4h-2.4zM295.1,29.16h2.4v2.4h-2.4zM298.63,31.31h2.4v2.4h-2.4zM302.16,33.85h2.4v2.4h-2.4zM305.69,36.53h2.4v2.4h-2.4zM309.21,39.24h2.4v2.4h-2.4zM312.74,41.11h2.4v2.4h-2.4zM316.27,43.3h2.4v2.4h-2.4zM319.8,45.65h2.4v2.4h-2.4zM323.33,47.82h2.4v2.4h-2.4zM326.86,49.92h2.4v2.4h-2.4zM330.38,51.94h2.4v2.4h-2.4zM333.91,54.07h2.4v2.4h-2.4zM337.44,56.31h2.4v2.4h-2.4zM340.97,58.39h2.4v2.4h-2.4zM344.5,60.13h2.4v2.4h-2.4zM348.02,62.51h2.4v2.4h-2.4zM351.55,63.64h2.4v2.4h-2.4zM355.08,65.9h2.4v2.4h-2.4zM358.61,67.11h2.4v2.4h-2.4zM362.14,69.09h2.4v2.4h-2.4zM365.67,69.93h2.4v2.4h-2.4zM369.19,71.56h2.4v2.4h-2.4zM372.72,73.06h2.4v2.4h-2.4zM376.25,74.06h2.4v2.4h-2.4zM379.78,74.43h2.4v2.4h-2.4zM383.31,74.9h2.4v2.4h-2.4zM386.84,74.9h2.4v2.4h-2.4zM390.36,74.9h2.4v2.4h-2.4z" fill="#111"/>
<path d="M331.67,91.68h2.4v2.4h-2.4zM335.19,92.55h2.4v2.4h-2.4zM338.72,90.27h2.4v2.4h-2.4zM342.25,91.06h2.4v2.4h-2.4zM345.78,91.52h2.4v2.4h-2.4zM349.31,92.19h2.4v2.4h-2.4zM352.84,92.91h2.4v2.4h-2.4zM356.36,94.09h2.4v2.4h-2.4zM359.89,94.43h2.4v2.4h-2.4zM363.42,95.28h2.4v2.4h-2.4zM366.95,97.08h2.4v2.4h-2.4zM370.48,96.44h2.4v2.4h-2.4zM374.01,98.7h2.4v2.4h-2.4zM377.53,100.13h2.4v2.4h-2.4zM381.06,102.82h2.4v2.4h-2.4zM384.59,104.07h2.4v2.4h-2.4zM388.12,105.79h2.4v2.4h-2.4zM391.65,107.38h2.4v2.4h-2.4zM395.18,109.45h2.4v2.4h-2.4zM398.7,111.88h2.4v2.4h-2.4zM402.23,112.53h2.4v2.4h-2.4zM405.76,114.96h2.4v2.4h-2.4zM409.29,117.67h2.4v2.4h-2.4zM412.82,119.25h2.4v2.4h-2.4zM416.34,122.15h2.4v2.4h-2.4zM419.87,124.37h2.4v2.4h-2.4zM423.4,126.75h2.4v2.4h-2.4zM426.93,127.78h2.4v2.4h-2.4zM430.46,130.86h2.4v2.4h-2.4zM433.99,133.54h2.4v2.4h-2.4z" fill="#f07e1b"/>
</g>
<rect x="272.3" y="11.5" width="162.9" height="126.9" fill="none" stroke="#8c8c8c" stroke-width="0.9"/>
<path d="M274.49,138.4v-2.0M274.49,11.5v2.0M280.91,138.4v-2.0M280.91,11.5v2.0M287.32,138.4v-2.0M287.32,11.5v2.0M293.74,138.4v-2.0M293.74,11.5v2.0M300.15,138.4v-2.0M300.15,11.5v2.0M306.56,138.4v-2.0M306.56,11.5v2.0M312.98,138.4v-2.0M312.98,11.5v2.0M319.4,138.4v-2.0M319.4,11.5v2.0M325.81,138.4v-2.0M325.81,11.5v2.0M332.23,138.4v-2.0M332.23,11.5v2.0M338.64,138.4v-2.0M338.64,11.5v2.0M345.06,138.4v-2.0M345.06,11.5v2.0M351.47,138.4v-2.0M351.47,11.5v2.0M357.88,138.4v-2.0M357.88,11.5v2.0M364.3,138.4v-2.0M364.3,11.5v2.0M370.72,138.4v-2.0M370.72,11.5v2.0M377.13,138.4v-2.0M377.13,11.5v2.0M383.55,138.4v-2.0M383.55,11.5v2.0M389.96,138.4v-2.0M389.96,11.5v2.0M396.38,138.4v-2.0M396.38,11.5v2.0M402.79,138.4v-2.0M402.79,11.5v2.0M409.2,138.4v-2.0M409.2,11.5v2.0M415.62,138.4v-2.0M415.62,11.5v2.0M422.04,138.4v-2.0M422.04,11.5v2.0M428.45,138.4v-2.0M428.45,11.5v2.0M434.87,138.4v-2.0M434.87,11.5v2.0" stroke="#555" stroke-width="0.8" fill="none"/>
<path d="M287.32,138.4v-3.5M287.32,11.5v3.5M312.98,138.4v-3.5M312.98,11.5v3.5M338.64,138.4v-3.5M338.64,11.5v3.5M364.3,138.4v-3.5M364.3,11.5v3.5M389.96,138.4v-3.5M389.96,11.5v3.5M415.62,138.4v-3.5M415.62,11.5v3.5" stroke="#666" stroke-width="0.8" fill="none"/>
<text x="287.32" y="149.82" text-anchor="middle" font-size="8.4" font-weight="normal" fill="#000" stroke="#000" stroke-width="0.14">-<tspan dx="2.3">60</tspan></text>
<text x="312.98" y="149.82" text-anchor="middle" font-size="8.4" font-weight="normal" fill="#000" stroke="#000" stroke-width="0.14">-<tspan dx="2.3">40</tspan></text>
<text x="338.64" y="149.82" text-anchor="middle" font-size="8.4" font-weight="normal" fill="#000" stroke="#000" stroke-width="0.14">-<tspan dx="2.3">20</tspan></text>
<text x="364.3" y="149.82" text-anchor="middle" font-size="8.4" font-weight="normal" fill="#000" stroke="#000" stroke-width="0.14">0</text>
<text x="389.96" y="149.82" text-anchor="middle" font-size="8.4" font-weight="normal" fill="#000" stroke="#000" stroke-width="0.14">20</text>
<text x="415.62" y="149.82" text-anchor="middle" font-size="8.4" font-weight="normal" fill="#000" stroke="#000" stroke-width="0.14">40</text>
<path d="M272.3,137.71h2.0M435.2,137.71h-2.0M272.3,133.2h2.0M435.2,133.2h-2.0M272.3,128.69h2.0M435.2,128.69h-2.0M272.3,124.18h2.0M435.2,124.18h-2.0M272.3,119.66h2.0M435.2,119.66h-2.0M272.3,115.15h2.0M435.2,115.15h-2.0M272.3,110.64h2.0M435.2,110.64h-2.0M272.3,106.13h2.0M435.2,106.13h-2.0M272.3,101.61h2.0M435.2,101.61h-2.0M272.3,97.1h2.0M435.2,97.1h-2.0M272.3,92.59h2.0M435.2,92.59h-2.0M272.3,88.08h2.0M435.2,88.08h-2.0M272.3,83.56h2.0M435.2,83.56h-2.0M272.3,79.05h2.0M435.2,79.05h-2.0M272.3,74.54h2.0M435.2,74.54h-2.0M272.3,70.03h2.0M435.2,70.03h-2.0M272.3,65.51h2.0M435.2,65.51h-2.0M272.3,61h2.0M435.2,61h-2.0M272.3,56.49h2.0M435.2,56.49h-2.0M272.3,51.98h2.0M435.2,51.98h-2.0M272.3,47.46h2.0M435.2,47.46h-2.0M272.3,42.95h2.0M435.2,42.95h-2.0M272.3,38.44h2.0M435.2,38.44h-2.0M272.3,33.93h2.0M435.2,33.93h-2.0M272.3,29.41h2.0M435.2,29.41h-2.0M272.3,24.9h2.0M435.2,24.9h-2.0M272.3,20.39h2.0M435.2,20.39h-2.0M272.3,15.88h2.0M435.2,15.88h-2.0" stroke="#555" stroke-width="0.8" fill="none"/>
<path d="M272.3,24.9h3.5M435.2,24.9h-3.5M272.3,42.95h3.5M435.2,42.95h-3.5M272.3,61h3.5M435.2,61h-3.5M272.3,79.05h3.5M435.2,79.05h-3.5M272.3,97.1h3.5M435.2,97.1h-3.5M272.3,115.15h3.5M435.2,115.15h-3.5M272.3,133.2h3.5M435.2,133.2h-3.5" stroke="#666" stroke-width="0.8" fill="none"/>
<text x="268.6" y="27.92" text-anchor="end" font-size="8.4" font-weight="normal" fill="#000" stroke="#000" stroke-width="0.14">2.08</text>
<text x="268.6" y="45.97" text-anchor="end" font-size="8.4" font-weight="normal" fill="#000" stroke="#000" stroke-width="0.14">2.06</text>
<text x="268.6" y="64.02" text-anchor="end" font-size="8.4" font-weight="normal" fill="#000" stroke="#000" stroke-width="0.14">2.04</text>
<text x="268.6" y="82.07" text-anchor="end" font-size="8.4" font-weight="normal" fill="#000" stroke="#000" stroke-width="0.14">2.02</text>
<text x="268.6" y="100.12" text-anchor="end" font-size="8.4" font-weight="normal" fill="#000" stroke="#000" stroke-width="0.14">2.00</text>
<text x="268.6" y="118.17" text-anchor="end" font-size="8.4" font-weight="normal" fill="#000" stroke="#000" stroke-width="0.14">1.98</text>
<text x="268.6" y="136.22" text-anchor="end" font-size="8.4" font-weight="normal" fill="#000" stroke="#000" stroke-width="0.14">1.96</text>
<text x="353.8" y="166.62" text-anchor="middle" font-size="8.4" font-weight="normal" fill="#000" stroke="#000" stroke-width="0.14">Detuning (meV)</text>
<text x="248.5" y="74.5" text-anchor="middle" font-size="8.4" font-weight="normal" fill="#000" stroke="#000" stroke-width="0.14" transform="rotate(-90 248.5 74.5)">Energy (eV)</text>
<text x="233.3" y="7.6" text-anchor="start" font-size="10" font-weight="bold" fill="#000">c</text>
<clipPath id="cd"><rect x="272.3" y="199.4" width="162.89999999999998" height="126.4"/></clipPath>
<g clip-path="url(#cd)">
<path d="M272.3,205.98H435.2" stroke="#9c9c9c" stroke-width="1.3" stroke-dasharray="6.6,5.4" stroke-dashoffset="-1.9" fill="none"/>
<path d="M272.3,289.27L435.2,296.8" stroke="#9c9c9c" stroke-width="1.3" stroke-dasharray="6.6,5.4" stroke-dashoffset="-1.2" fill="none"/>
<path d="M272.3,285.64 L273.67,285.6 L275.04,285.56 L276.41,285.52 L277.78,285.48 L279.14,285.42 L280.51,285.37 L281.88,285.31 L283.25,285.24 L284.62,285.17 L285.99,285.09 L287.36,285.01 L288.73,284.92 L290.1,284.83 L291.46,284.72 L292.83,284.61 L294.2,284.5 L295.57,284.37 L296.94,284.24 L298.31,284.09 L299.68,283.94 L301.05,283.78 L302.42,283.6 L303.78,283.42 L305.15,283.22 L306.52,283.01 L307.89,282.79 L309.26,282.56 L310.63,282.3 L312,282.04 L313.37,281.75 L314.74,281.45 L316.11,281.13 L317.47,280.8 L318.84,280.44 L320.21,280.05 L321.58,279.65 L322.95,279.22 L324.32,278.77 L325.69,278.29 L327.06,277.78 L328.43,277.24 L329.79,276.67 L331.16,276.07 L332.53,275.43 L333.9,274.76 L335.27,274.05 L336.64,273.31 L338.01,272.52 L339.38,271.7 L340.75,270.83 L342.11,269.92 L343.48,268.97 L344.85,267.97 L346.22,266.94 L347.59,265.85 L348.96,264.73 L350.33,263.56 L351.7,262.35 L353.07,261.11 L354.43,259.83 L355.8,258.51 L357.17,257.16 L358.54,255.79 L359.91,254.39 L361.28,252.97 L362.65,251.53 L364.02,250.09 L365.39,248.64 L366.75,247.19 L368.12,245.74 L369.49,244.31 L370.86,242.89 L372.23,241.48 L373.6,240.1 L374.97,238.74 L376.34,237.42 L377.71,236.12 L379.07,234.87 L380.44,233.64 L381.81,232.46 L383.18,231.32 L384.55,230.21 L385.92,229.15 L387.29,228.13 L388.66,227.16 L390.03,226.22 L391.39,225.32 L392.76,224.46 L394.13,223.64 L395.5,222.86 L396.87,222.11 L398.24,221.4 L399.61,220.72 L400.98,220.08 L402.35,219.46 L403.72,218.88 L405.08,218.32 L406.45,217.79 L407.82,217.28 L409.19,216.8 L410.56,216.35 L411.93,215.91 L413.3,215.5 L414.67,215.1 L416.04,214.73 L417.4,214.37 L418.77,214.03 L420.14,213.7 L421.51,213.39 L422.88,213.1 L424.25,212.81 L425.62,212.54 L426.99,212.29 L428.36,212.04 L429.72,211.8 L431.09,211.58 L432.46,211.36 L433.83,211.16 L435.2,210.96" fill="none" stroke="#111" stroke-width="1.15" />
<path d="M272.3,207.35 L273.67,207.45 L275.04,207.56 L276.41,207.66 L277.78,207.78 L279.14,207.89 L280.51,208.01 L281.88,208.14 L283.25,208.27 L284.62,208.4 L285.99,208.55 L287.36,208.69 L288.73,208.85 L290.1,209.01 L291.46,209.18 L292.83,209.35 L294.2,209.53 L295.57,209.73 L296.94,209.92 L298.31,210.13 L299.68,210.35 L301.05,210.58 L302.42,210.82 L303.78,211.07 L305.15,211.33 L306.52,211.61 L307.89,211.9 L309.26,212.2 L310.63,212.52 L312,212.85 L313.37,213.2 L314.74,213.57 L316.11,213.96 L317.47,214.37 L318.84,214.79 L320.21,215.24 L321.58,215.71 L322.95,216.21 L324.32,216.74 L325.69,217.29 L327.06,217.86 L328.43,218.47 L329.79,219.11 L331.16,219.78 L332.53,220.49 L333.9,221.23 L335.27,222.01 L336.64,222.83 L338.01,223.69 L339.38,224.59 L340.75,225.53 L342.11,226.51 L343.48,227.54 L344.85,228.61 L346.22,229.72 L347.59,230.88 L348.96,232.08 L350.33,233.33 L351.7,234.61 L353.07,235.93 L354.43,237.3 L355.8,238.69 L357.17,240.12 L358.54,241.57 L359.91,243.05 L361.28,244.55 L362.65,246.06 L364.02,247.59 L365.39,249.11 L366.75,250.64 L368.12,252.17 L369.49,253.69 L370.86,255.19 L372.23,256.67 L373.6,258.13 L374.97,259.57 L376.34,260.97 L377.71,262.34 L379.07,263.68 L380.44,264.98 L381.81,266.24 L383.18,267.46 L384.55,268.63 L385.92,269.77 L387.29,270.86 L388.66,271.92 L390.03,272.93 L391.39,273.9 L392.76,274.83 L394.13,275.72 L395.5,276.58 L396.87,277.4 L398.24,278.18 L399.61,278.93 L400.98,279.64 L402.35,280.33 L403.72,280.98 L405.08,281.61 L406.45,282.21 L407.82,282.78 L409.19,283.33 L410.56,283.86 L411.93,284.36 L413.3,284.84 L414.67,285.31 L416.04,285.75 L417.4,286.17 L418.77,286.58 L420.14,286.98 L421.51,287.35 L422.88,287.72 L424.25,288.06 L425.62,288.4 L426.99,288.72 L428.36,289.04 L429.72,289.34 L431.09,289.63 L432.46,289.91 L433.83,290.18 L435.2,290.44" fill="none" stroke="#f07e1b" stroke-width="1.2" />
<path d="M274.4,273.4h2.4v2.4h-2.4zM278.1,274.7h2.4v2.4h-2.4zM281.6,276.6h2.4v2.4h-2.4zM285.3,277.1h2.4v2.4h-2.4zM288.9,275.5h2.4v2.4h-2.4zM292.6,274.4h2.4v2.4h-2.4zM296.1,273.9h2.4v2.4h-2.4zM299.8,273.1h2.4v2.4h-2.4zM303.3,273.9h2.4v2.4h-2.4zM307,274.7h2.4v2.4h-2.4zM310.6,273.9h2.4v2.4h-2.4zM314.2,273.1h2.4v2.4h-2.4zM317.8,272.3h2.4v2.4h-2.4zM321.5,271.8h2.4v2.4h-2.4zM325,271.8h2.4v2.4h-2.4zM328.7,271.1h2.4v2.4h-2.4zM332.2,270.7h2.4v2.4h-2.4zM335.9,270.3h2.4v2.4h-2.4zM339.5,269.9h2.4v2.4h-2.4zM342.7,269.4h2.4v2.4h-2.4zM346.7,266.6h2.4v2.4h-2.4zM349.9,265.5h2.4v2.4h-2.4zM353.1,261.8h2.4v2.4h-2.4zM356.8,257.3h2.4v2.4h-2.4zM360.1,250.6h2.4v2.4h-2.4zM363.6,247.4h2.4v2.4h-2.4zM367,246.4h2.4v2.4h-2.4zM370.3,248.4h2.4v2.4h-2.4z" fill="#111"/>
<path d="M349.2,217.8h2.4v2.4h-2.4zM353.1,224.8h2.4v2.4h-2.4zM356.5,232.4h2.4v2.4h-2.4zM359.9,240.8h2.4v2.4h-2.4zM363.2,247.8h2.4v2.4h-2.4zM366.6,251.4h2.4v2.4h-2.4zM370.2,254.8h2.4v2.4h-2.4zM373.6,258.1h2.4v2.4h-2.4zM376.9,261.8h2.4v2.4h-2.4zM380.6,265.1h2.4v2.4h-2.4zM383.9,269.3h2.4v2.4h-2.4zM387.3,274.4h2.4v2.4h-2.4zM390.9,281.4h2.4v2.4h-2.4zM394.3,284.2h2.4v2.4h-2.4zM397.7,286.1h2.4v2.4h-2.4zM401,288.4h2.4v2.4h-2.4zM404.4,288.9h2.4v2.4h-2.4zM407.7,288.4h2.4v2.4h-2.4zM411.4,287.8h2.4v2.4h-2.4zM414.7,288.4h2.4v2.4h-2.4zM418.4,288.9h2.4v2.4h-2.4zM422,290.6h2.4v2.4h-2.4zM425.4,292h2.4v2.4h-2.4zM429,292.6h2.4v2.4h-2.4zM432.4,291.7h2.4v2.4h-2.4z" fill="#f07e1b"/>
</g>
<rect x="272.3" y="199.4" width="162.9" height="126.4" fill="none" stroke="#8c8c8c" stroke-width="0.9"/>
<path d="M274.49,325.8v-2.0M274.49,199.4v2.0M280.91,325.8v-2.0M280.91,199.4v2.0M287.32,325.8v-2.0M287.32,199.4v2.0M293.74,325.8v-2.0M293.74,199.4v2.0M300.15,325.8v-2.0M300.15,199.4v2.0M306.56,325.8v-2.0M306.56,199.4v2.0M312.98,325.8v-2.0M312.98,199.4v2.0M319.4,325.8v-2.0M319.4,199.4v2.0M325.81,325.8v-2.0M325.81,199.4v2.0M332.23,325.8v-2.0M332.23,199.4v2.0M338.64,325.8v-2.0M338.64,199.4v2.0M345.06,325.8v-2.0M345.06,199.4v2.0M351.47,325.8v-2.0M351.47,199.4v2.0M357.88,325.8v-2.0M357.88,199.4v2.0M364.3,325.8v-2.0M364.3,199.4v2.0M370.72,325.8v-2.0M370.72,199.4v2.0M377.13,325.8v-2.0M377.13,199.4v2.0M383.55,325.8v-2.0M383.55,199.4v2.0M389.96,325.8v-2.0M389.96,199.4v2.0M396.38,325.8v-2.0M396.38,199.4v2.0M402.79,325.8v-2.0M402.79,199.4v2.0M409.2,325.8v-2.0M409.2,199.4v2.0M415.62,325.8v-2.0M415.62,199.4v2.0M422.04,325.8v-2.0M422.04,199.4v2.0M428.45,325.8v-2.0M428.45,199.4v2.0M434.87,325.8v-2.0M434.87,199.4v2.0" stroke="#555" stroke-width="0.8" fill="none"/>
<path d="M287.32,325.8v-3.5M287.32,199.4v3.5M312.98,325.8v-3.5M312.98,199.4v3.5M338.64,325.8v-3.5M338.64,199.4v3.5M364.3,325.8v-3.5M364.3,199.4v3.5M389.96,325.8v-3.5M389.96,199.4v3.5M415.62,325.8v-3.5M415.62,199.4v3.5" stroke="#666" stroke-width="0.8" fill="none"/>
<text x="287.32" y="336.92" text-anchor="middle" font-size="8.4" font-weight="normal" fill="#000" stroke="#000" stroke-width="0.14">-<tspan dx="2.3">60</tspan></text>
<text x="312.98" y="336.92" text-anchor="middle" font-size="8.4" font-weight="normal" fill="#000" stroke="#000" stroke-width="0.14">-<tspan dx="2.3">40</tspan></text>
<text x="338.64" y="336.92" text-anchor="middle" font-size="8.4" font-weight="normal" fill="#000" stroke="#000" stroke-width="0.14">-<tspan dx="2.3">20</tspan></text>
<text x="364.3" y="336.92" text-anchor="middle" font-size="8.4" font-weight="normal" fill="#000" stroke="#000" stroke-width="0.14">0</text>
<text x="389.96" y="336.92" text-anchor="middle" font-size="8.4" font-weight="normal" fill="#000" stroke="#000" stroke-width="0.14">20</text>
<text x="415.62" y="336.92" text-anchor="middle" font-size="8.4" font-weight="normal" fill="#000" stroke="#000" stroke-width="0.14">40</text>
<path d="M272.3,325.7h1.6M435.2,325.7h-1.6M272.3,322.42h1.6M435.2,322.42h-1.6M272.3,319.14h1.6M435.2,319.14h-1.6M272.3,315.86h1.6M435.2,315.86h-1.6M272.3,312.58h1.6M435.2,312.58h-1.6M272.3,309.3h1.6M435.2,309.3h-1.6M272.3,306.02h1.6M435.2,306.02h-1.6M272.3,302.74h1.6M435.2,302.74h-1.6M272.3,299.46h1.6M435.2,299.46h-1.6M272.3,296.18h1.6M435.2,296.18h-1.6M272.3,292.9h1.6M435.2,292.9h-1.6M272.3,289.62h1.6M435.2,289.62h-1.6M272.3,286.34h1.6M435.2,286.34h-1.6M272.3,283.06h1.6M435.2,283.06h-1.6M272.3,279.78h1.6M435.2,279.78h-1.6M272.3,276.5h1.6M435.2,276.5h-1.6M272.3,273.22h1.6M435.2,273.22h-1.6M272.3,269.94h1.6M435.2,269.94h-1.6M272.3,266.66h1.6M435.2,266.66h-1.6M272.3,263.38h1.6M435.2,263.38h-1.6M272.3,260.1h1.6M435.2,260.1h-1.6M272.3,256.82h1.6M435.2,256.82h-1.6M272.3,253.54h1.6M435.2,253.54h-1.6M272.3,250.26h1.6M435.2,250.26h-1.6M272.3,246.98h1.6M435.2,246.98h-1.6M272.3,243.7h1.6M435.2,243.7h-1.6M272.3,240.42h1.6M435.2,240.42h-1.6M272.3,237.14h1.6M435.2,237.14h-1.6M272.3,233.86h1.6M435.2,233.86h-1.6M272.3,230.58h1.6M435.2,230.58h-1.6M272.3,227.3h1.6M435.2,227.3h-1.6M272.3,224.02h1.6M435.2,224.02h-1.6M272.3,220.74h1.6M435.2,220.74h-1.6M272.3,217.46h1.6M435.2,217.46h-1.6M272.3,214.18h1.6M435.2,214.18h-1.6M272.3,210.9h1.6M435.2,210.9h-1.6M272.3,207.62h1.6M435.2,207.62h-1.6M272.3,204.34h1.6M435.2,204.34h-1.6" stroke="#555" stroke-width="0.8" fill="none"/>
<path d="M272.3,325.7h3.5M435.2,325.7h-3.5M272.3,309.3h3.5M435.2,309.3h-3.5M272.3,292.9h3.5M435.2,292.9h-3.5M272.3,276.5h3.5M435.2,276.5h-3.5M272.3,260.1h3.5M435.2,260.1h-3.5M272.3,243.7h3.5M435.2,243.7h-3.5M272.3,227.3h3.5M435.2,227.3h-3.5M272.3,210.9h3.5M435.2,210.9h-3.5" stroke="#666" stroke-width="0.8" fill="none"/>
<text x="268.6" y="328.72" text-anchor="end" font-size="8.4" font-weight="normal" fill="#000" stroke="#000" stroke-width="0.14">0</text>
<text x="268.6" y="312.32" text-anchor="end" font-size="8.4" font-weight="normal" fill="#000" stroke="#000" stroke-width="0.14">5</text>
<text x="268.6" y="295.92" text-anchor="end" font-size="8.4" font-weight="normal" fill="#000" stroke="#000" stroke-width="0.14">10</text>
<text x="268.6" y="279.52" text-anchor="end" font-size="8.4" font-weight="normal" fill="#000" stroke="#000" stroke-width="0.14">15</text>
<text x="268.6" y="263.12" text-anchor="end" font-size="8.4" font-weight="normal" fill="#000" stroke="#000" stroke-width="0.14">20</text>
<text x="268.6" y="246.72" text-anchor="end" font-size="8.4" font-weight="normal" fill="#000" stroke="#000" stroke-width="0.14">25</text>
<text x="268.6" y="230.32" text-anchor="end" font-size="8.4" font-weight="normal" fill="#000" stroke="#000" stroke-width="0.14">30</text>
<text x="268.6" y="213.92" text-anchor="end" font-size="8.4" font-weight="normal" fill="#000" stroke="#000" stroke-width="0.14">35</text>
<text x="353.8" y="354.32" text-anchor="middle" font-size="8.4" font-weight="normal" fill="#000" stroke="#000" stroke-width="0.14">Detuning (meV)</text>
<text x="248.5" y="262.5" text-anchor="middle" font-size="8.4" font-weight="normal" fill="#000" stroke="#000" stroke-width="0.14" transform="rotate(-90 248.5 262.5)">Linewidth (meV)</text>
<text x="233.5" y="191.7" text-anchor="start" font-size="10" font-weight="bold" fill="#000">d</text>
<rect x="506.3" y="12.4" width="169.7" height="127" fill="none" stroke="#666" stroke-width="0.9"/>
<path d="M509.5,139.4v-2.0M509.5,12.4v2.0M519.7,139.4v-2.0M519.7,12.4v2.0M529.9,139.4v-2.0M529.9,12.4v2.0M540.1,139.4v-2.0M540.1,12.4v2.0M550.3,139.4v-2.0M550.3,12.4v2.0M560.5,139.4v-2.0M560.5,12.4v2.0M570.7,139.4v-2.0M570.7,12.4v2.0M580.9,139.4v-2.0M580.9,12.4v2.0M591.1,139.4v-2.0M591.1,12.4v2.0M601.3,139.4v-2.0M601.3,12.4v2.0M611.5,139.4v-2.0M611.5,12.4v2.0M621.7,139.4v-2.0M621.7,12.4v2.0M631.9,139.4v-2.0M631.9,12.4v2.0M642.1,139.4v-2.0M642.1,12.4v2.0M652.3,139.4v-2.0M652.3,12.4v2.0M662.5,139.4v-2.0M662.5,12.4v2.0M672.7,139.4v-2.0M672.7,12.4v2.0" stroke="#555" stroke-width="0.8" fill="none"/>
<path d="M509.5,139.4v-3.0M509.5,12.4v3.0M550.3,139.4v-3.0M550.3,12.4v3.0M591.1,139.4v-3.0M591.1,12.4v3.0M631.9,139.4v-3.0M631.9,12.4v3.0M672.7,139.4v-3.0M672.7,12.4v3.0" stroke="#666" stroke-width="0.8" fill="none"/>
<text x="509.5" y="150.52" text-anchor="middle" font-size="8.4" font-weight="normal" fill="#000" stroke="#000" stroke-width="0.14">4</text>
<text x="550.3" y="150.52" text-anchor="middle" font-size="8.4" font-weight="normal" fill="#000" stroke="#000" stroke-width="0.14">6</text>
<text x="591.1" y="150.52" text-anchor="middle" font-size="8.4" font-weight="normal" fill="#000" stroke="#000" stroke-width="0.14">8</text>
<text x="631.9" y="150.52" text-anchor="middle" font-size="8.4" font-weight="normal" fill="#000" stroke="#000" stroke-width="0.14">10</text>
<text x="672.7" y="150.52" text-anchor="middle" font-size="8.4" font-weight="normal" fill="#000" stroke="#000" stroke-width="0.14">12</text>
<path d="M506.3,137.76h1.8M676,137.76h-1.8M506.3,134.28h1.8M676,134.28h-1.8M506.3,130.8h1.8M676,130.8h-1.8M506.3,127.32h1.8M676,127.32h-1.8M506.3,123.84h1.8M676,123.84h-1.8M506.3,120.36h1.8M676,120.36h-1.8M506.3,116.88h1.8M676,116.88h-1.8M506.3,113.4h1.8M676,113.4h-1.8M506.3,109.92h1.8M676,109.92h-1.8M506.3,106.44h1.8M676,106.44h-1.8M506.3,102.96h1.8M676,102.96h-1.8M506.3,99.48h1.8M676,99.48h-1.8M506.3,96h1.8M676,96h-1.8M506.3,92.52h1.8M676,92.52h-1.8M506.3,89.04h1.8M676,89.04h-1.8M506.3,85.56h1.8M676,85.56h-1.8M506.3,82.08h1.8M676,82.08h-1.8M506.3,78.6h1.8M676,78.6h-1.8M506.3,75.12h1.8M676,75.12h-1.8M506.3,71.64h1.8M676,71.64h-1.8M506.3,68.16h1.8M676,68.16h-1.8M506.3,64.68h1.8M676,64.68h-1.8M506.3,61.2h1.8M676,61.2h-1.8M506.3,57.72h1.8M676,57.72h-1.8M506.3,54.24h1.8M676,54.24h-1.8M506.3,50.76h1.8M676,50.76h-1.8M506.3,47.28h1.8M676,47.28h-1.8M506.3,43.8h1.8M676,43.8h-1.8M506.3,40.32h1.8M676,40.32h-1.8M506.3,36.84h1.8M676,36.84h-1.8M506.3,33.36h1.8M676,33.36h-1.8M506.3,29.88h1.8M676,29.88h-1.8M506.3,26.4h1.8M676,26.4h-1.8M506.3,22.92h1.8M676,22.92h-1.8M506.3,19.44h1.8M676,19.44h-1.8M506.3,15.96h1.8M676,15.96h-1.8" stroke="#555" stroke-width="0.8" fill="none"/>
<path d="M506.3,130.8h3.5M676,130.8h-3.5M506.3,113.4h3.5M676,113.4h-3.5M506.3,96h3.5M676,96h-3.5M506.3,78.6h3.5M676,78.6h-3.5M506.3,61.2h3.5M676,61.2h-3.5M506.3,43.8h3.5M676,43.8h-3.5M506.3,26.4h3.5M676,26.4h-3.5" stroke="#666" stroke-width="0.8" fill="none"/>
<text x="502.3" y="133.82" text-anchor="end" font-size="8.4" font-weight="normal" fill="#000" stroke="#000" stroke-width="0.14">10</text>
<text x="502.3" y="116.42" text-anchor="end" font-size="8.4" font-weight="normal" fill="#000" stroke="#000" stroke-width="0.14">15</text>
<text x="502.3" y="99.02" text-anchor="end" font-size="8.4" font-weight="normal" fill="#000" stroke="#000" stroke-width="0.14">20</text>
<text x="502.3" y="81.62" text-anchor="end" font-size="8.4" font-weight="normal" fill="#000" stroke="#000" stroke-width="0.14">25</text>
<text x="502.3" y="64.22" text-anchor="end" font-size="8.4" font-weight="normal" fill="#000" stroke="#000" stroke-width="0.14">30</text>
<text x="502.3" y="46.82" text-anchor="end" font-size="8.4" font-weight="normal" fill="#000" stroke="#000" stroke-width="0.14">35</text>
<text x="502.3" y="29.42" text-anchor="end" font-size="8.4" font-weight="normal" fill="#000" stroke="#000" stroke-width="0.14">40</text>
<text x="591.5" y="168.02" text-anchor="middle" font-size="8.4" font-weight="normal" fill="#000" stroke="#000" stroke-width="0.14">Cavity mode order q</text>
<text x="482.3" y="76.3" text-anchor="middle" font-size="8.4" font-weight="normal" fill="#000" stroke="#000" stroke-width="0.14" transform="rotate(-90 482.3 76.3)">Splitting energy (meV)</text>
<text x="462" y="6.5" text-anchor="start" font-size="10" font-weight="bold" fill="#000">e</text>
<clipPath id="ce"><rect x="506.3" y="12.4" width="169.7" height="127.0"/></clipPath>
<g clip-path="url(#ce)">
<path d="M506.3,38.8 L507.3,39.6 L508.3,40.4 L509.3,41.22 L510.3,42.05 L511.3,42.89 L512.3,43.74 L513.3,44.6 L514.3,45.47 L515.3,46.34 L516.3,47.22 L517.3,48.1 L518.3,48.99 L519.3,49.87 L520.3,50.75 L521.3,51.62 L522.3,52.49 L523.3,53.34 L524.3,54.19 L525.3,55.03 L526.3,55.85 L527.3,56.66 L528.3,57.45 L529.3,58.22 L530.3,58.97 L531.3,59.71 L532.3,60.45 L533.3,61.17 L534.3,61.88 L535.3,62.58 L536.3,63.28 L537.3,63.97 L538.3,64.65 L539.3,65.32 L540.3,65.99 L541.3,66.65 L542.3,67.31 L543.3,67.96 L544.3,68.61 L545.3,69.25 L546.3,69.89 L547.3,70.52 L548.3,71.16 L549.3,71.78 L550.3,72.41 L551.3,73.04 L552.3,73.66 L553.3,74.28 L554.3,74.9 L555.3,75.52 L556.3,76.13 L557.3,76.74 L558.3,77.34 L559.3,77.94 L560.3,78.54 L561.3,79.13 L562.3,79.72 L563.3,80.3 L564.3,80.87 L565.3,81.44 L566.3,82 L567.3,82.56 L568.3,83.11 L569.3,83.65 L570.3,84.18 L571.3,84.7 L572.3,85.22 L573.3,85.73 L574.3,86.23 L575.3,86.73 L576.3,87.22 L577.3,87.71 L578.3,88.19 L579.3,88.67 L580.3,89.14 L581.3,89.61 L582.3,90.07 L583.3,90.53 L584.3,90.99 L585.3,91.44 L586.3,91.89 L587.3,92.34 L588.3,92.79 L589.3,93.23 L590.3,93.68 L591.3,94.12 L592.3,94.57 L593.3,95 L594.3,95.44 L595.3,95.87 L596.3,96.29 L597.3,96.71 L598.3,97.13 L599.3,97.55 L600.3,97.96 L601.3,98.38 L602.3,98.79 L603.3,99.2 L604.3,99.61 L605.3,100.02 L606.3,100.44 L607.3,100.85 L608.3,101.27 L609.3,101.68 L610.3,102.1 L611.3,102.53 L612.3,102.95 L613.3,103.38 L614.3,103.81 L615.3,104.25 L616.3,104.68 L617.3,105.12 L618.3,105.55 L619.3,105.99 L620.3,106.42 L621.3,106.86 L622.3,107.29 L623.3,107.73 L624.3,108.16 L625.3,108.59 L626.3,109.02 L627.3,109.45 L628.3,109.87 L629.3,110.29 L630.3,110.7 L631.3,111.11 L632.3,111.52 L633.3,111.93 L634.3,112.33 L635.3,112.74 L636.3,113.15 L637.3,113.55 L638.3,113.95 L639.3,114.35 L640.3,114.75 L641.3,115.15 L642.3,115.54 L643.3,115.93 L644.3,116.32 L645.3,116.7 L646.3,117.08 L647.3,117.45 L648.3,117.82 L649.3,118.18 L650.3,118.54 L651.3,118.89 L652.3,119.23 L653.3,119.57 L654.3,119.91 L655.3,120.24 L656.3,120.56 L657.3,120.88 L658.3,121.2 L659.3,121.51 L660.3,121.82 L661.3,122.13 L662.3,122.44 L663.3,122.74 L664.3,123.04 L665.3,123.33 L666.3,123.63 L667.3,123.92 L668.3,124.21 L669.3,124.5 L670.3,124.79 L671.3,125.08 L672.3,125.37 L673.3,125.66 L674.3,125.93 L675.3,126.21" fill="none" stroke="#e8321e" stroke-width="1.3" />
<path d="M506.3,103.9 L507.3,104.11 L508.3,104.32 L509.3,104.55 L510.3,104.8 L511.3,105.07 L512.3,105.34 L513.3,105.63 L514.3,105.93 L515.3,106.24 L516.3,106.55 L517.3,106.87 L518.3,107.2 L519.3,107.53 L520.3,107.86 L521.3,108.19 L522.3,108.52 L523.3,108.85 L524.3,109.18 L525.3,109.5 L526.3,109.82 L527.3,110.13 L528.3,110.44 L529.3,110.73 L530.3,111.01 L531.3,111.29 L532.3,111.57 L533.3,111.85 L534.3,112.13 L535.3,112.4 L536.3,112.67 L537.3,112.94 L538.3,113.21 L539.3,113.48 L540.3,113.74 L541.3,114 L542.3,114.26 L543.3,114.51 L544.3,114.76 L545.3,115.01 L546.3,115.25 L547.3,115.49 L548.3,115.72 L549.3,115.95 L550.3,116.18 L551.3,116.4 L552.3,116.62 L553.3,116.84 L554.3,117.06 L555.3,117.27 L556.3,117.48 L557.3,117.69 L558.3,117.9 L559.3,118.1 L560.3,118.31 L561.3,118.5 L562.3,118.7 L563.3,118.89 L564.3,119.08 L565.3,119.26 L566.3,119.44 L567.3,119.62 L568.3,119.79 L569.3,119.96 L570.3,120.12 L571.3,120.28 L572.3,120.43 L573.3,120.58 L574.3,120.73 L575.3,120.87 L576.3,121.01 L577.3,121.15 L578.3,121.28 L579.3,121.41 L580.3,121.54 L581.3,121.67 L582.3,121.79 L583.3,121.92 L584.3,122.04 L585.3,122.17 L586.3,122.29 L587.3,122.41 L588.3,122.54 L589.3,122.66 L590.3,122.79 L591.3,122.91 L592.3,123.04 L593.3,123.17 L594.3,123.3 L595.3,123.42 L596.3,123.55 L597.3,123.68 L598.3,123.81 L599.3,123.94 L600.3,124.06 L601.3,124.19 L602.3,124.31 L603.3,124.44 L604.3,124.56 L605.3,124.67 L606.3,124.79 L607.3,124.9 L608.3,125.02 L609.3,125.12 L610.3,125.23 L611.3,125.33 L612.3,125.43 L613.3,125.52 L614.3,125.62 L615.3,125.71 L616.3,125.8 L617.3,125.89 L618.3,125.98 L619.3,126.06 L620.3,126.15 L621.3,126.23 L622.3,126.31 L623.3,126.39 L624.3,126.48 L625.3,126.56 L626.3,126.64 L627.3,126.72 L628.3,126.8 L629.3,126.88 L630.3,126.96 L631.3,127.04 L632.3,127.12 L633.3,127.21 L634.3,127.29 L635.3,127.37 L636.3,127.46 L637.3,127.54 L638.3,127.62 L639.3,127.71 L640.3,127.79 L641.3,127.87 L642.3,127.95 L643.3,128.03 L644.3,128.11 L645.3,128.19 L646.3,128.27 L647.3,128.35 L648.3,128.43 L649.3,128.5 L650.3,128.58 L651.3,128.65 L652.3,128.72 L653.3,128.79 L654.3,128.86 L655.3,128.93 L656.3,128.99 L657.3,129.06 L658.3,129.12 L659.3,129.18 L660.3,129.25 L661.3,129.31 L662.3,129.37 L663.3,129.43 L664.3,129.49 L665.3,129.56 L666.3,129.62 L667.3,129.68 L668.3,129.75 L669.3,129.81 L670.3,129.88 L671.3,129.95 L672.3,130.02 L673.3,130.09 L674.3,130.17 L675.3,130.25" fill="none" stroke="#2a47b3" stroke-width="1.3" />
</g>
<path d="M509.5,37.3V44.3M507.5,37.3h4M507.5,44.3h4M529.9,55V61.8M527.9,55h4M527.9,61.8h4M550.3,67.3V76.8M548.3,67.3h4M548.3,76.8h4M570.7,80.5V90.6M568.7,80.5h4M568.7,90.6h4M591.1,91.4V99.3M589.1,91.4h4M589.1,99.3h4M611.5,97.6V107.7M609.5,97.6h4M609.5,107.7h4M631.9,109.9V116.1M629.9,109.9h4M629.9,116.1h4M652.3,116.1V122M650.3,116.1h4M650.3,122h4M672.7,120.8V126.2M670.7,120.8h4M670.7,126.2h4" stroke="#5a5a5a" stroke-width="0.8" fill="none"/>
<path d="M508.2,39.6h2.6v2.6h-2.6zM528.6,57.2h2.6v2.6h-2.6zM549,71.1h2.6v2.6h-2.6zM569.4,84h2.6v2.6h-2.6zM589.8,93.5h2.6v2.6h-2.6zM610.2,101.4h2.6v2.6h-2.6zM630.6,111.5h2.6v2.6h-2.6zM651,117.9h2.6v2.6h-2.6zM671.4,122.7h2.6v2.6h-2.6z" fill="#000"/>
<path d="M509.5,97.3V106.1M507.5,97.3h4M507.5,106.1h4M529.9,107.5V111.9M527.9,107.5h4M527.9,111.9h4M550.3,113.1V120.4M548.3,113.1h4M548.3,120.4h4M570.7,119.9V124.3M568.7,119.9h4M568.7,124.3h4M591.1,123.3V127.2M589.1,123.3h4M589.1,127.2h4M611.5,125.6V130M609.5,125.6h4M609.5,130h4M631.9,124.6V127.8M629.9,124.6h4M629.9,127.8h4M652.3,125V136.3M650.3,125h4M650.3,136.3h4" stroke="#6f86d6" stroke-width="0.8" fill="none"/>
<path d="M508.3,100.5h2.4v2.4h-2.4zM528.7,108.9h2.4v2.4h-2.4zM549.1,115.4h2.4v2.4h-2.4zM569.5,120.9h2.4v2.4h-2.4zM589.9,123.8h2.4v2.4h-2.4zM610.3,126.7h2.4v2.4h-2.4zM630.7,125h2.4v2.4h-2.4zM651.1,128.9h2.4v2.4h-2.4z" fill="#1e3a9e"/>
<rect x="673.8" y="12.9" width="1.8" height="56.1" fill="#e4e4e4"/>
<rect x="599.6" y="12.9" width="74.2" height="56.1" fill="#fff" stroke="#888" stroke-width="0.9"/>
<path d="M599.6,67.39 L600.27,67.22 L600.95,67.18 L601.63,67.48 L602.3,67.16 L602.98,67.17 L603.65,67.38 L604.33,67.15 L605,67.22 L605.68,67.25 L606.35,67.38 L607.03,67.21 L607.7,67.07 L608.38,66.79 L609.05,66.64 L609.73,67.11 L610.4,66.94 L611.08,66.51 L611.75,66.33 L612.43,66.45 L613.1,66.57 L613.78,66.47 L614.45,66.31 L615.13,66.01 L615.8,65.86 L616.48,66.03 L617.15,66.08 L617.83,65.87 L618.5,65.7 L619.18,65.51 L619.85,64.99 L620.53,64.06 L621.2,63 L621.88,62.09 L622.55,60.82 L623.23,59.39 L623.9,58.32 L624.58,57.61 L625.25,57.7 L625.93,58.43 L626.6,59.59 L627.28,60.96 L627.95,62.38 L628.63,63.87 L629.3,65.06 L629.98,65.48 L630.65,65.63 L631.33,66.13 L632,66.48 L632.68,66.67 L633.35,66.3 L634.03,66.26 L634.7,66.61 L635.38,65.91 L636.05,65.03 L636.73,64.55 L637.4,63.72 L638.08,62.43 L638.75,61.3 L639.43,59.7 L640.1,58.46 L640.78,58.2 L641.45,58.36 L642.13,59.07 L642.8,60.31 L643.48,61.57 L644.15,62.44 L644.83,63.14 L645.5,63.65 L646.18,63.84 L646.85,63.91 L647.53,63.78 L648.2,64.04 L648.88,64.78 L649.55,65.08 L650.23,65.29 L650.9,65.89 L651.58,66.43 L652.25,66.69 L652.93,66.89 L653.6,66.82 L654.28,67.11 L654.95,67.5 L655.63,67.37 L656.3,67.34 L656.98,67.3 L657.65,67.02 L658.33,66.99 L659,67.31 L659.68,67.3 L660.35,67.15 L661.03,66.97 L661.7,67.21 L662.38,67.47 L663.05,67.17 L663.73,67.1 L664.4,67.23 L665.08,67.46 L665.75,67.63 L666.43,67.68 L667.1,67.52 L667.78,67.31 L668.45,67.39 L669.13,67.56 L669.8,67.49 L670.48,67.63 L671.15,67.3 L671.83,67.18 L672.5,67.5 L673.18,67.39 M599.6,62.38 L600.27,62.3 L600.95,62.44 L601.63,62.18 L602.3,61.95 L602.98,62.43 L603.65,62.22 L604.33,61.86 L605,62.05 L605.68,62.08 L606.35,62.15 L607.03,61.82 L607.7,61.63 L608.38,61.97 L609.05,62.17 L609.73,62.19 L610.4,62.18 L611.08,62.01 L611.75,61.75 L612.43,61.8 L613.1,61.7 L613.78,61.46 L614.45,61.36 L615.13,61.42 L615.8,61.24 L616.48,61.08 L617.15,61.02 L617.83,60.87 L618.5,60.75 L619.18,60.15 L619.85,59.79 L620.53,59.77 L621.2,59.12 L621.88,58.05 L622.55,56.43 L623.23,54.61 L623.9,54.03 L624.58,53.41 L625.25,52.65 L625.93,52.58 L626.6,53.15 L627.28,54.55 L627.95,55.68 L628.63,56.77 L629.3,57.97 L629.98,59.16 L630.65,59.83 L631.33,60.02 L632,60.36 L632.68,60.58 L633.35,60.54 L634.03,60.39 L634.7,60.35 L635.38,59.79 L636.05,59.12 L636.73,58.24 L637.4,56.93 L638.08,55.52 L638.75,54.28 L639.43,53.47 L640.1,52.99 L640.78,53.31 L641.45,53.97 L642.13,54.77 L642.8,56.18 L643.48,57.45 L644.15,57.89 L644.83,58.13 L645.5,58.36 L646.18,58.48 L646.85,59.05 L647.53,59.38 L648.2,59.48 L648.88,59.9 L649.55,60.01 L650.23,60.4 L650.9,61.13 L651.58,61.63 L652.25,61.97 L652.93,62.25 L653.6,62.48 L654.28,62.26 L654.95,62.13 L655.63,62.57 L656.3,62.67 L656.98,62.43 L657.65,62.49 L658.33,62.42 L659,62.39 L659.68,62.43 L660.35,62.27 L661.03,62.31 L661.7,62.46 L662.38,62.4 L663.05,62.21 L663.73,62.09 L664.4,62.17 L665.08,62.61 L665.75,62.46 L666.43,62.48 L667.1,62.86 L667.78,62.3 L668.45,62.09 L669.13,62.11 L669.8,62.15 L670.48,62.49 L671.15,62.84 L671.83,62.83 L672.5,62.4 L673.18,62.34 M599.6,57.06 L600.27,56.9 L600.95,57.17 L601.63,57.11 L602.3,57.08 L602.98,57.13 L603.65,57.28 L604.33,57.61 L605,57.5 L605.68,57.25 L606.35,57.14 L607.03,56.91 L607.7,56.91 L608.38,57.17 L609.05,57.09 L609.73,56.7 L610.4,56.84 L611.08,56.79 L611.75,56.66 L612.43,56.81 L613.1,56.43 L613.78,56.3 L614.45,56.31 L615.13,56.09 L615.8,56.1 L616.48,55.83 L617.15,55.65 L617.83,55.62 L618.5,55.46 L619.18,55.61 L619.85,55.61 L620.53,54.91 L621.2,53.96 L621.88,52.85 L622.55,51.77 L623.23,51.02 L623.9,50.06 L624.58,48.93 L625.25,48.07 L625.93,47.64 L626.6,47.9 L627.28,48.4 L627.95,49.09 L628.63,50.29 L629.3,51.21 L629.98,52.04 L630.65,52.95 L631.33,53.75 L632,54.73 L632.68,54.83 L633.35,54.65 L634.03,54.72 L634.7,54.31 L635.38,53.71 L636.05,52.7 L636.73,51.67 L637.4,50.87 L638.08,49.92 L638.75,49.02 L639.43,48.66 L640.1,48.79 L640.78,49.04 L641.45,49.92 L642.13,51.1 L642.8,52.01 L643.48,53.22 L644.15,53.77 L644.83,53.62 L645.5,54.25 L646.18,54.49 L646.85,54.05 L647.53,54.03 L648.2,54.15 L648.88,54.46 L649.55,55.03 L650.23,55.42 L650.9,55.9 L651.58,56.35 L652.25,56.8 L652.93,57.19 L653.6,57.3 L654.28,57.31 L654.95,57.17 L655.63,57.3 L656.3,57.54 L656.98,57.64 L657.65,57.46 L658.33,57.37 L659,57.63 L659.68,57.57 L660.35,57.46 L661.03,57.39 L661.7,57.35 L662.38,57.43 L663.05,57.56 L663.73,57.73 L664.4,57.43 L665.08,57.34 L665.75,57.74 L666.43,57.6 L667.1,57.34 L667.78,57.42 L668.45,57.57 L669.13,57.57 L669.8,57.45 L670.48,57.75 L671.15,57.75 L671.83,57.67 L672.5,57.44 L673.18,57.11 M599.6,52.58 L600.27,52.62 L600.95,52.53 L601.63,52.53 L602.3,52.54 L602.98,52.59 L603.65,52.25 L604.33,51.97 L605,52.21 L605.68,52.06 L606.35,52.05 L607.03,51.71 L607.7,51.72 L608.38,51.88 L609.05,51.88 L609.73,52.19 L610.4,52.01 L611.08,51.62 L611.75,51.57 L612.43,51.66 L613.1,51.89 L613.78,52.15 L614.45,51.71 L615.13,51.46 L615.8,51.22 L616.48,51.05 L617.15,50.96 L617.83,50.83 L618.5,50.95 L619.18,50.5 L619.85,50.22 L620.53,50.23 L621.2,49.43 L621.88,48.62 L622.55,47.94 L623.23,47 L623.9,45.76 L624.58,44.85 L625.25,44.32 L625.93,43.46 L626.6,43.09 L627.28,43.08 L627.95,43.2 L628.63,43.73 L629.3,44.79 L629.98,46.15 L630.65,47.02 L631.33,47.34 L632,47.68 L632.68,47.81 L633.35,47.92 L634.03,47.96 L634.7,47.12 L635.38,46.5 L636.05,46.01 L636.73,44.99 L637.4,44.02 L638.08,43.37 L638.75,43.15 L639.43,43.27 L640.1,43.73 L640.78,44.7 L641.45,45.6 L642.13,46.34 L642.8,47.17 L643.48,48.22 L644.15,49.12 L644.83,49.48 L645.5,49.55 L646.18,49.57 L646.85,49.38 L647.53,48.76 L648.2,48.89 L648.88,49.5 L649.55,50.04 L650.23,50.6 L650.9,51.04 L651.58,51.43 L652.25,51.71 L652.93,52.17 L653.6,52.18 L654.28,51.86 L654.95,52.17 L655.63,52.48 L656.3,52.47 L656.98,52.38 L657.65,52.11 L658.33,52.28 L659,52.65 L659.68,52.18 L660.35,51.94 L661.03,52.19 L661.7,52.45 L662.38,52.49 L663.05,52.21 L663.73,52.37 L664.4,52.73 L665.08,52.32 L665.75,52.08 L666.43,52.61 L667.1,52.76 L667.78,52.6 L668.45,52.66 L669.13,52.83 L669.8,52.8 L670.48,52.6 L671.15,52.4 L671.83,52.43 L672.5,52.62 L673.18,52.54 M599.6,47.48 L600.27,47.64 L600.95,47.61 L601.63,47.38 L602.3,47.53 L602.98,47.58 L603.65,47.64 L604.33,47.66 L605,47.48 L605.68,47.32 L606.35,47.12 L607.03,47 L607.7,47.04 L608.38,47.15 L609.05,47.23 L609.73,47.09 L610.4,46.75 L611.08,46.59 L611.75,46.94 L612.43,46.94 L613.1,46.63 L613.78,46.53 L614.45,46.36 L615.13,46.15 L615.8,45.89 L616.48,45.88 L617.15,45.95 L617.83,46.1 L618.5,45.77 L619.18,45.35 L619.85,45.12 L620.53,44.82 L621.2,44.38 L621.88,43.5 L622.55,42.82 L623.23,42.28 L623.9,41.31 L624.58,40.31 L625.25,39.71 L625.93,38.75 L626.6,38.05 L627.28,37.91 L627.95,37.52 L628.63,37.56 L629.3,38.37 L629.98,39.36 L630.65,40.07 L631.33,40.48 L632,41.03 L632.68,41.32 L633.35,41.51 L634.03,41.23 L634.7,40.68 L635.38,40.38 L636.05,39.43 L636.73,38.57 L637.4,38.26 L638.08,38.26 L638.75,38.13 L639.43,38.75 L640.1,39.72 L640.78,40.4 L641.45,41.35 L642.13,42.35 L642.8,43.21 L643.48,43.8 L644.15,44.36 L644.83,44.57 L645.5,44.44 L646.18,44.31 L646.85,44.05 L647.53,44.11 L648.2,44.24 L648.88,44.44 L649.55,45.04 L650.23,45.32 L650.9,45.69 L651.58,46.55 L652.25,46.96 L652.93,46.95 L653.6,46.89 L654.28,47.09 L654.95,47.44 L655.63,47.48 L656.3,47.3 L656.98,47.47 L657.65,47.82 L658.33,47.87 L659,47.78 L659.68,47.53 L660.35,47.59 L661.03,47.41 L661.7,47.22 L662.38,47.57 L663.05,47.79 L663.73,47.8 L664.4,47.7 L665.08,47.92 L665.75,47.83 L666.43,47.39 L667.1,47.77 L667.78,48.2 L668.45,48.03 L669.13,47.83 L669.8,47.82 L670.48,48 L671.15,48.01 L671.83,47.98 L672.5,48.06 L673.18,47.83 M599.6,42.87 L600.27,42.82 L600.95,42.75 L601.63,42.99 L602.3,42.93 L602.98,42.75 L603.65,42.39 L604.33,42.25 L605,42.19 L605.68,41.84 L606.35,42.06 L607.03,42.44 L607.7,42.28 L608.38,42.41 L609.05,42.19 L609.73,41.9 L610.4,41.94 L611.08,41.89 L611.75,41.83 L612.43,41.98 L613.1,41.71 L613.78,41.45 L614.45,41.7 L615.13,41.31 L615.8,41.09 L616.48,41.1 L617.15,41.03 L617.83,40.68 L618.5,40.51 L619.18,40.76 L619.85,40.45 L620.53,40.08 L621.2,39.64 L621.88,38.97 L622.55,38.24 L623.23,37.39 L623.9,36.57 L624.58,35.54 L625.25,34.56 L625.93,33.95 L626.6,33.25 L627.28,32.52 L627.95,31.66 L628.63,31.28 L629.3,31.77 L629.98,32.42 L630.65,32.88 L631.33,32.86 L632,33.2 L632.68,33.76 L633.35,33.65 L634.03,33.49 L634.7,33.27 L635.38,32.8 L636.05,32.58 L636.73,32.09 L637.4,32.26 L638.08,32.63 L638.75,32.83 L639.43,33.67 L640.1,34.64 L640.78,35.44 L641.45,36.34 L642.13,38.02 L642.8,38.79 L643.48,38.88 L644.15,39.26 L644.83,39.3 L645.5,39.48 L646.18,39.5 L646.85,39.3 L647.53,39.17 L648.2,39.14 L648.88,39.25 L649.55,39.79 L650.23,40.61 L650.9,41.26 L651.58,41.65 L652.25,41.74 L652.93,42.04 L653.6,42.27 L654.28,42.36 L654.95,42.56 L655.63,42.51 L656.3,42.41 L656.98,42.35 L657.65,42.38 L658.33,42.62 L659,42.79 L659.68,42.99 L660.35,43.09 L661.03,42.93 L661.7,42.58 L662.38,42.54 L663.05,42.55 L663.73,42.59 L664.4,42.69 L665.08,42.56 L665.75,42.63 L666.43,42.78 L667.1,42.79 L667.78,42.5 L668.45,42.51 L669.13,42.85 L669.8,43.02 L670.48,42.89 L671.15,42.82 L671.83,42.88 L672.5,42.85 L673.18,42.61 M599.6,37.61 L600.27,37.68 L600.95,37.82 L601.63,37.74 L602.3,37.28 L602.98,37.25 L603.65,37.89 L604.33,37.86 L605,37.4 L605.68,37.41 L606.35,37.41 L607.03,36.94 L607.7,36.75 L608.38,36.85 L609.05,37.15 L609.73,37.28 L610.4,37.05 L611.08,36.95 L611.75,36.58 L612.43,36.29 L613.1,36.53 L613.78,36.6 L614.45,36.64 L615.13,36.51 L615.8,36.55 L616.48,36.44 L617.15,36.23 L617.83,35.99 L618.5,35.5 L619.18,35.62 L619.85,35.61 L620.53,35.45 L621.2,35.19 L621.88,34.74 L622.55,34.19 L623.23,33.35 L623.9,32.6 L624.58,31.79 L625.25,30.94 L625.93,30.17 L626.6,29.23 L627.28,28.47 L627.95,28.05 L628.63,27.46 L629.3,27.2 L629.98,27.17 L630.65,26.98 L631.33,27.2 L632,27.37 L632.68,27.36 L633.35,27.08 L634.03,27.05 L634.7,27.38 L635.38,27.22 L636.05,26.97 L636.73,27.3 L637.4,27.71 L638.08,28.07 L638.75,29.25 L639.43,30.18 L640.1,30.84 L640.78,31.95 L641.45,32.79 L642.13,33.44 L642.8,34.14 L643.48,34.65 L644.15,34.96 L644.83,34.93 L645.5,34.62 L646.18,34.54 L646.85,34.42 L647.53,34.03 L648.2,34.26 L648.88,34.59 L649.55,34.72 L650.23,35.36 L650.9,35.89 L651.58,36.65 L652.25,36.91 L652.93,37.04 L653.6,37.23 L654.28,36.98 L654.95,37.31 L655.63,37.43 L656.3,37.29 L656.98,37.38 L657.65,37.48 L658.33,37.47 L659,37.71 L659.68,38.05 L660.35,37.67 L661.03,37.63 L661.7,37.99 L662.38,37.75 L663.05,37.66 L663.73,37.79 L664.4,37.76 L665.08,37.49 L665.75,37.4 L666.43,37.62 L667.1,37.39 L667.78,37.35 L668.45,37.65 L669.13,37.59 L669.8,37.66 L670.48,37.98 L671.15,38.06 L671.83,37.94 L672.5,37.59 L673.18,37.36 M599.6,33.04 L600.27,33.22 L600.95,32.9 L601.63,32.65 L602.3,32.6 L602.98,32.66 L603.65,32.47 L604.33,32.33 L605,32.6 L605.68,32.6 L606.35,32.29 L607.03,32.11 L607.7,32.2 L608.38,32.42 L609.05,32.03 L609.73,31.88 L610.4,32.08 L611.08,32.06 L611.75,31.68 L612.43,31.29 L613.1,31.66 L613.78,31.72 L614.45,31.62 L615.13,31.56 L615.8,31.38 L616.48,31.33 L617.15,31.04 L617.83,31.16 L618.5,31.25 L619.18,31.09 L619.85,30.85 L620.53,30.63 L621.2,30.18 L621.88,29.61 L622.55,29.78 L623.23,29.37 L623.9,28.77 L624.58,28.14 L625.25,27.25 L625.93,26.78 L626.6,26.03 L627.28,25.03 L627.95,24.14 L628.63,23.69 L629.3,23.13 L629.98,22.56 L630.65,22.58 L631.33,22.41 L632,22.32 L632.68,22.37 L633.35,22.18 L634.03,22.07 L634.7,22.23 L635.38,22.8 L636.05,23.34 L636.73,23.59 L637.4,24.12 L638.08,24.87 L638.75,25.73 L639.43,26.76 L640.1,27.6 L640.78,28.53 L641.45,29.09 L642.13,29.2 L642.8,29.8 L643.48,30.07 L644.15,30.04 L644.83,30.32 L645.5,30.16 L646.18,29.7 L646.85,29.48 L647.53,29.49 L648.2,29.56 L648.88,29.81 L649.55,30.18 L650.23,30.77 L650.9,31.39 L651.58,31.8 L652.25,32.05 L652.93,32 L653.6,32.39 L654.28,32.76 L654.95,32.81 L655.63,32.78 L656.3,32.55 L656.98,32.33 L657.65,32.51 L658.33,32.66 L659,32.6 L659.68,32.68 L660.35,32.83 L661.03,33.04 L661.7,32.91 L662.38,32.67 L663.05,32.78 L663.73,32.77 L664.4,32.8 L665.08,32.79 L665.75,32.62 L666.43,32.76 L667.1,32.88 L667.78,32.76 L668.45,32.61 L669.13,32.71 L669.8,32.92 L670.48,32.75 L671.15,32.52 L671.83,32.94 L672.5,33.16 L673.18,32.87 M599.6,27.73 L600.27,27.9 L600.95,27.99 L601.63,27.8 L602.3,27.43 L602.98,27.43 L603.65,27.68 L604.33,27.68 L605,27.55 L605.68,27.46 L606.35,27.48 L607.03,27.69 L607.7,27.63 L608.38,27.18 L609.05,27.08 L609.73,27.38 L610.4,27.47 L611.08,27.02 L611.75,26.9 L612.43,27 L613.1,26.98 L613.78,26.94 L614.45,26.86 L615.13,26.75 L615.8,26.6 L616.48,26.63 L617.15,26.71 L617.83,26.49 L618.5,26.11 L619.18,25.95 L619.85,25.7 L620.53,25.88 L621.2,25.92 L621.88,25.32 L622.55,25.12 L623.23,24.79 L623.9,24.11 L624.58,23.33 L625.25,22.95 L625.93,22.29 L626.6,21.36 L627.28,20.67 L627.95,19.94 L628.63,19.44 L629.3,18.53 L629.98,18.07 L630.65,17.91 L631.33,17.6 L632,17.41 L632.68,17.29 L633.35,17.28 L634.03,17.02 L634.7,17.31 L635.38,17.91 L636.05,18.7 L636.73,19.61 L637.4,20.43 L638.08,21.15 L638.75,21.83 L639.43,22.38 L640.1,22.79 L640.78,23.65 L641.45,24.45 L642.13,25.04 L642.8,25.44 L643.48,25.4 L644.15,25.31 L644.83,25.43 L645.5,25.19 L646.18,24.72 L646.85,24.58 L647.53,24.39 L648.2,24.57 L648.88,25.11 L649.55,25.37 L650.23,25.51 L650.9,25.89 L651.58,27.08 L652.25,27.62 L652.93,27.39 L653.6,27.81 L654.28,27.84 L654.95,27.66 L655.63,27.58 L656.3,27.91 L656.98,28.23 L657.65,28.01 L658.33,27.59 L659,27.27 L659.68,27.37 L660.35,27.48 L661.03,27.69 L661.7,27.86 L662.38,27.76 L663.05,27.8 L663.73,27.98 L664.4,27.84 L665.08,27.52 L665.75,27.92 L666.43,28.14 L667.1,27.58 L667.78,27.68 L668.45,28.11 L669.13,28.12 L669.8,28.28 L670.48,27.92 L671.15,27.49 L671.83,27.72 L672.5,27.53 L673.18,27.8" fill="none" stroke="#2a2a2a" stroke-width="0.85"/>
<path d="M603,69v-3M603,12.9v3M625.5,69v-3M625.5,12.9v3M648,69v-3M648,12.9v3M670.5,69v-3M670.5,12.9v3M599.6,67.5h2.5M673.8,67.5h-2.5M599.6,57.64h2.5M673.8,57.64h-2.5M599.6,47.78h2.5M673.8,47.78h-2.5M599.6,37.92h2.5M673.8,37.92h-2.5M599.6,28.06h2.5M673.8,28.06h-2.5" stroke="#555" stroke-width="0.8" fill="none"/>
<text x="603" y="83.12" text-anchor="middle" font-size="8.4" font-weight="normal" fill="#000" stroke="#000" stroke-width="0.14">1.95</text>
<text x="625.5" y="83.12" text-anchor="middle" font-size="8.4" font-weight="normal" fill="#000" stroke="#000" stroke-width="0.14">2.0</text>
<text x="648" y="83.12" text-anchor="middle" font-size="8.4" font-weight="normal" fill="#000" stroke="#000" stroke-width="0.14">2.05</text>
<text x="670.5" y="83.12" text-anchor="middle" font-size="8.4" font-weight="normal" fill="#000" stroke="#000" stroke-width="0.14">2.1</text>
<text x="636.4" y="94.32" text-anchor="middle" font-size="8.4" font-weight="normal" fill="#000" stroke="#000" stroke-width="0.14">Energy (eV)</text>
<text x="594.6" y="70.74" text-anchor="end" font-size="7.9" font-weight="normal" fill="#000" stroke="#000" stroke-width="0.14">4</text>
<text x="594.6" y="60.94" text-anchor="end" font-size="7.9" font-weight="normal" fill="#000" stroke="#000" stroke-width="0.14">6</text>
<text x="594.6" y="51.14" text-anchor="end" font-size="7.9" font-weight="normal" fill="#000" stroke="#000" stroke-width="0.14">8</text>
<text x="594.6" y="41.34" text-anchor="end" font-size="7.9" font-weight="normal" fill="#000" stroke="#000" stroke-width="0.14">10</text>
<text x="594.6" y="31.54" text-anchor="end" font-size="7.9" font-weight="normal" fill="#000" stroke="#000" stroke-width="0.14">12</text>
<text x="582.3" y="46" text-anchor="middle" font-size="7.7" font-weight="normal" fill="#000" stroke="#000" stroke-width="0.14" transform="rotate(-90 582.3 46)">mode order q</text>
<rect x="477.0" y="199.4" width="74.39999999999998" height="120.6" fill="none" stroke="#b0b0b0" stroke-width="1"/>
<rect x="478.2" y="281.53" width="4.75" height="38.07" fill="#6cb61a" stroke="#2d4a0c" stroke-width="0.7"/>
<rect x="511.45" y="281.53" width="4.75" height="38.07" fill="#6cb61a" stroke="#2d4a0c" stroke-width="0.7"/>
<rect x="520.95" y="281.53" width="4.75" height="38.07" fill="#6cb61a" stroke="#2d4a0c" stroke-width="0.7"/>
<rect x="525.7" y="243.46" width="4.75" height="76.14" fill="#6cb61a" stroke="#2d4a0c" stroke-width="0.7"/>
<rect x="530.45" y="205.39" width="4.75" height="114.21" fill="#6cb61a" stroke="#2d4a0c" stroke-width="0.7"/>
<rect x="535.2" y="281.53" width="4.75" height="38.07" fill="#6cb61a" stroke="#2d4a0c" stroke-width="0.7"/>
<rect x="544.7" y="281.53" width="4.75" height="38.07" fill="#6cb61a" stroke="#2d4a0c" stroke-width="0.7"/>
<path d="M477.0,319.6h2.5M477.0,281.53h2.5M477.0,243.46h2.5M477.0,205.39h2.5M478.2,320.0v-2.5M497.2,320.0v-2.5M516.2,320.0v-2.5M535.2,320.0v-2.5" stroke="#666" stroke-width="0.8" fill="none"/>
<text x="472.3" y="322.62" text-anchor="end" font-size="8.4" font-weight="normal" fill="#000" stroke="#000" stroke-width="0.14">0</text>
<text x="472.3" y="284.55" text-anchor="end" font-size="8.4" font-weight="normal" fill="#000" stroke="#000" stroke-width="0.14">1</text>
<text x="472.3" y="246.48" text-anchor="end" font-size="8.4" font-weight="normal" fill="#000" stroke="#000" stroke-width="0.14">2</text>
<text x="472.3" y="208.41" text-anchor="end" font-size="8.4" font-weight="normal" fill="#000" stroke="#000" stroke-width="0.14">3</text>
<text x="478.2" y="332.22" text-anchor="middle" font-size="8.4" font-weight="normal" fill="#000" stroke="#000" stroke-width="0.14">22</text>
<text x="497.2" y="332.22" text-anchor="middle" font-size="8.4" font-weight="normal" fill="#000" stroke="#000" stroke-width="0.14">26</text>
<text x="516.2" y="332.22" text-anchor="middle" font-size="8.4" font-weight="normal" fill="#000" stroke="#000" stroke-width="0.14">30</text>
<text x="535.2" y="332.22" text-anchor="middle" font-size="8.4" font-weight="normal" fill="#000" stroke="#000" stroke-width="0.14">34</text>
<text x="511.5" y="350.62" text-anchor="middle" font-size="8.4" font-weight="normal" fill="#000" stroke="#000" stroke-width="0.14">Splitting energy (meV)</text>
<text x="462.5" y="191.7" text-anchor="start" font-size="10" font-weight="bold" fill="#000">f</text>
<defs><filter id="bl1" x="-50%" y="-50%" width="200%" height="200%"><feGaussianBlur stdDeviation="1.1"/></filter><filter id="bl15" x="-50%" y="-50%" width="200%" height="200%"><feGaussianBlur stdDeviation="1.5"/></filter><filter id="bl2" x="-50%" y="-50%" width="200%" height="200%"><feGaussianBlur stdDeviation="1.6"/></filter><filter id="bl05" x="-50%" y="-50%" width="200%" height="200%"><feGaussianBlur stdDeviation="0.5"/></filter><clipPath id="cf"><rect x="556.4" y="199.5" width="127.2" height="152.9"/></clipPath></defs>
<g clip-path="url(#cf)">
<rect x="556.4" y="199.5" width="127.2" height="152.9" fill="#fdd886"/>
<filter id="tx1" filterUnits="userSpaceOnUse" color-interpolation-filters="sRGB" x="556.4" y="199.5" width="127.2" height="152.9"><feTurbulence type="fractalNoise" baseFrequency="0.012 0.38" numOctaves="3" seed="7" result="n"/><feColorMatrix in="n" type="matrix" values="0 0 0 0 1  0 0 0 0 0.95  0 0 0 0 0.78  4.0 0 0 0 -1.85"/></filter>
<filter id="tx2" filterUnits="userSpaceOnUse" color-interpolation-filters="sRGB" x="556.4" y="199.5" width="127.2" height="152.9"><feTurbulence type="fractalNoise" baseFrequency="0.03 0.45" numOctaves="2" seed="21" result="n"/><feColorMatrix in="n" type="matrix" values="0 0 0 0 0.96  0 0 0 0 0.70  0 0 0 0 0.22  3.5 0 0 0 -1.75"/></filter>
<filter id="tx3" filterUnits="userSpaceOnUse" color-interpolation-filters="sRGB" x="556.4" y="199.5" width="127.2" height="152.9"><feTurbulence type="fractalNoise" baseFrequency="0.35 0.45" numOctaves="1" seed="5" result="n"/><feColorMatrix in="n" type="matrix" values="0 0 0 0 1  0 0 0 0 0.965  0 0 0 0 0.87  4.0 0 0 0 -1.8"/></filter>
<rect x="556.4" y="199.5" width="127.2" height="37" filter="url(#tx1)"/>
<rect x="556.4" y="199.5" width="127.2" height="37" fill="#fff4d8" fill-opacity="0.42"/>
<rect x="556.4" y="235.5" width="127.2" height="55" filter="url(#tx1)" opacity="0.5"/>
<rect x="556.4" y="290.5" width="127.2" height="61.9" filter="url(#tx1)" opacity="0.18"/>
<rect x="556.4" y="199.5" width="127.2" height="152.9" filter="url(#tx2)" opacity="0.8"/>
<g filter="url(#bl05)"><rect x="649.2" y="305.7" width="34.2" height="1.5" fill="#fffaf0" fill-opacity="0.19"/><rect x="598.4" y="232.6" width="13.9" height="1.0" fill="#fffaf0" fill-opacity="0.47"/><rect x="629.4" y="349.2" width="22.1" height="1.0" fill="#fffaf0" fill-opacity="0.34"/><rect x="653.8" y="325.8" width="28.9" height="1.0" fill="#fffaf0" fill-opacity="0.26"/><rect x="554.1" y="280.2" width="35.9" height="2.0" fill="#fffaf0" fill-opacity="0.32"/><rect x="632.8" y="202.3" width="49.4" height="1.0" fill="#fffaf0" fill-opacity="0.54"/><rect x="657.3" y="325.3" width="12.8" height="2.0" fill="#fffaf0" fill-opacity="0.18"/><rect x="601.9" y="250.1" width="20.7" height="1.5" fill="#fffaf0" fill-opacity="0.23"/><rect x="586.7" y="306.0" width="18.4" height="1.0" fill="#fffaf0" fill-opacity="0.25"/><rect x="576.4" y="304.5" width="25.8" height="1.5" fill="#fffaf0" fill-opacity="0.31"/><rect x="610.8" y="250.7" width="22.2" height="2.0" fill="#fffaf0" fill-opacity="0.33"/><rect x="653.9" y="203.4" width="27.8" height="1.0" fill="#fffaf0" fill-opacity="0.83"/><rect x="633.4" y="279.8" width="12.6" height="1.0" fill="#fffaf0" fill-opacity="0.22"/><rect x="560.0" y="273.6" width="41.8" height="2.0" fill="#fffaf0" fill-opacity="0.24"/><rect x="571.1" y="304.4" width="28.8" height="1.5" fill="#fffaf0" fill-opacity="0.31"/><rect x="637.1" y="232.2" width="8.9" height="1.0" fill="#fffaf0" fill-opacity="0.85"/><rect x="597.4" y="314.8" width="35.8" height="1.5" fill="#fffaf0" fill-opacity="0.33"/><rect x="597.5" y="224.2" width="12.0" height="1.0" fill="#fffaf0" fill-opacity="0.62"/><rect x="651.1" y="210.7" width="18.8" height="1.0" fill="#fffaf0" fill-opacity="0.61"/><rect x="655.5" y="202.8" width="47.6" height="1.5" fill="#fffaf0" fill-opacity="0.66"/><rect x="609.0" y="217.6" width="35.8" height="1.0" fill="#fffaf0" fill-opacity="0.49"/><rect x="581.9" y="318.4" width="31.2" height="1.0" fill="#fffaf0" fill-opacity="0.18"/><rect x="589.9" y="211.4" width="51.9" height="1.0" fill="#fffaf0" fill-opacity="0.81"/><rect x="604.2" y="246.6" width="40.7" height="1.0" fill="#fffaf0" fill-opacity="0.23"/><rect x="597.2" y="303.4" width="37.5" height="2.0" fill="#fffaf0" fill-opacity="0.30"/><rect x="634.3" y="249.8" width="11.7" height="1.0" fill="#fffaf0" fill-opacity="0.19"/><rect x="573.6" y="207.6" width="20.7" height="1.0" fill="#fffaf0" fill-opacity="0.47"/><rect x="622.8" y="213.4" width="50.1" height="2.0" fill="#fffaf0" fill-opacity="0.60"/><rect x="632.9" y="237.2" width="13.1" height="1.0" fill="#fffaf0" fill-opacity="0.83"/><rect x="636.3" y="231.6" width="9.7" height="1.0" fill="#fffaf0" fill-opacity="0.54"/><rect x="610.6" y="319.9" width="43.2" height="2.0" fill="#fffaf0" fill-opacity="0.27"/><rect x="609.3" y="224.1" width="14.2" height="1.0" fill="#fffaf0" fill-opacity="0.66"/><rect x="622.5" y="248.2" width="23.5" height="1.5" fill="#fffaf0" fill-opacity="0.27"/><rect x="624.7" y="248.3" width="21.3" height="1.5" fill="#fffaf0" fill-opacity="0.27"/><rect x="570.7" y="279.4" width="54.6" height="1.5" fill="#fffaf0" fill-opacity="0.33"/><rect x="602.8" y="221.5" width="23.2" height="1.5" fill="#fffaf0" fill-opacity="0.47"/><rect x="577.8" y="200.7" width="49.0" height="1.0" fill="#fffaf0" fill-opacity="0.73"/><rect x="554.7" y="216.6" width="20.3" height="1.0" fill="#fffaf0" fill-opacity="0.72"/><rect x="616.2" y="249.9" width="29.8" height="1.0" fill="#fffaf0" fill-opacity="0.26"/><rect x="572.0" y="331.4" width="43.5" height="1.0" fill="#fffaf0" fill-opacity="0.22"/><rect x="587.6" y="211.2" width="16.0" height="1.5" fill="#fffaf0" fill-opacity="0.60"/><rect x="546.4" y="209.7" width="14.6" height="2.0" fill="#fffaf0" fill-opacity="0.54"/><rect x="622.9" y="237.3" width="23.1" height="1.0" fill="#fffaf0" fill-opacity="0.55"/><rect x="643.0" y="204.5" width="47.4" height="1.5" fill="#fffaf0" fill-opacity="0.64"/><rect x="592.4" y="231.3" width="14.6" height="2.0" fill="#fffaf0" fill-opacity="0.56"/><rect x="554.3" y="214.6" width="35.3" height="2.0" fill="#fffaf0" fill-opacity="0.46"/><rect x="663.3" y="208.1" width="17.7" height="1.0" fill="#fffaf0" fill-opacity="0.60"/><rect x="560.8" y="337.8" width="29.6" height="1.0" fill="#fffaf0" fill-opacity="0.18"/><rect x="664.7" y="202.5" width="41.4" height="2.0" fill="#fffaf0" fill-opacity="0.55"/><rect x="578.1" y="246.5" width="50.4" height="1.0" fill="#fffaf0" fill-opacity="0.19"/><rect x="569.8" y="253.5" width="29.4" height="2.0" fill="#fffaf0" fill-opacity="0.30"/><rect x="570.5" y="287.2" width="26.3" height="1.0" fill="#fffaf0" fill-opacity="0.24"/><rect x="593.1" y="202.5" width="52.7" height="2.0" fill="#fffaf0" fill-opacity="0.67"/><rect x="618.5" y="267.3" width="27.5" height="1.5" fill="#fffaf0" fill-opacity="0.22"/><rect x="659.2" y="224.1" width="33.5" height="1.0" fill="#fffaf0" fill-opacity="0.51"/><rect x="606.6" y="301.2" width="32.4" height="2.0" fill="#fffaf0" fill-opacity="0.32"/><rect x="611.8" y="206.2" width="22.7" height="1.0" fill="#fffaf0" fill-opacity="0.78"/><rect x="632.7" y="338.9" width="20.5" height="1.5" fill="#fffaf0" fill-opacity="0.21"/><rect x="550.8" y="231.3" width="15.0" height="1.5" fill="#fffaf0" fill-opacity="0.51"/><rect x="653.1" y="210.2" width="22.5" height="1.0" fill="#fffaf0" fill-opacity="0.45"/><rect x="554.1" y="202.1" width="52.1" height="2.0" fill="#fffaf0" fill-opacity="0.78"/><rect x="664.9" y="202.8" width="16.8" height="1" fill="#f5b545" fill-opacity="0.32"/><rect x="572.4" y="287.5" width="39.2" height="1" fill="#f5b545" fill-opacity="0.34"/><rect x="619.2" y="285.5" width="18.4" height="1" fill="#f5b545" fill-opacity="0.43"/><rect x="622.2" y="348.3" width="12.5" height="1" fill="#f5b545" fill-opacity="0.45"/><rect x="608.7" y="299.8" width="29.6" height="1" fill="#f5b545" fill-opacity="0.32"/><rect x="611.9" y="245.7" width="12.1" height="1" fill="#f5b545" fill-opacity="0.40"/><rect x="578.7" y="227.7" width="37.0" height="1" fill="#f5b545" fill-opacity="0.40"/><rect x="635.3" y="236.8" width="39.9" height="1" fill="#f5b545" fill-opacity="0.47"/><rect x="588.7" y="319.4" width="27.5" height="1" fill="#f5b545" fill-opacity="0.40"/><rect x="634.5" y="213.7" width="25.6" height="1" fill="#f5b545" fill-opacity="0.38"/><rect x="556.2" y="310.3" width="16.4" height="1" fill="#f5b545" fill-opacity="0.50"/><rect x="578.9" y="245.1" width="12.2" height="1" fill="#f5b545" fill-opacity="0.33"/><rect x="551.4" y="284.0" width="18.7" height="1" fill="#f5b545" fill-opacity="0.31"/><rect x="647.1" y="223.4" width="38.9" height="1" fill="#f5b545" fill-opacity="0.48"/><rect x="554.8" y="266.1" width="20.5" height="1" fill="#f5b545" fill-opacity="0.38"/><rect x="639.4" y="257.1" width="32.3" height="1" fill="#f5b545" fill-opacity="0.47"/><rect x="576.7" y="270.4" width="37.3" height="1" fill="#f5b545" fill-opacity="0.47"/><rect x="573.3" y="219.4" width="29.8" height="1" fill="#f5b545" fill-opacity="0.46"/><rect x="549.1" y="343.5" width="15.7" height="1" fill="#f5b545" fill-opacity="0.36"/><rect x="645.4" y="282.5" width="26.7" height="1" fill="#f5b545" fill-opacity="0.38"/><rect x="629.1" y="236.1" width="27.5" height="1" fill="#f5b545" fill-opacity="0.49"/><rect x="562.3" y="228.8" width="20.6" height="1" fill="#f5b545" fill-opacity="0.33"/><rect x="568.2" y="268.0" width="31.2" height="1" fill="#f5b545" fill-opacity="0.46"/><rect x="662.2" y="201.4" width="12.7" height="1" fill="#f5b545" fill-opacity="0.33"/><rect x="600.3" y="272.9" width="16.5" height="1" fill="#f5b545" fill-opacity="0.43"/><rect x="575.3" y="325.4" width="14.9" height="1" fill="#f5b545" fill-opacity="0.38"/><rect x="665.9" y="222.6" width="35.5" height="1" fill="#f5b545" fill-opacity="0.46"/><rect x="646.5" y="261.8" width="21.8" height="1" fill="#f5b545" fill-opacity="0.36"/><rect x="551.2" y="216.3" width="30.1" height="1" fill="#f5b545" fill-opacity="0.30"/><rect x="618.3" y="342.9" width="27.3" height="1" fill="#f5b545" fill-opacity="0.47"/><rect x="547.8" y="244.8" width="16.6" height="1" fill="#f5b545" fill-opacity="0.36"/><rect x="582.1" y="223.1" width="32.1" height="1" fill="#f5b545" fill-opacity="0.34"/><rect x="576.1" y="251.4" width="25.9" height="1" fill="#f5b545" fill-opacity="0.50"/><rect x="653.7" y="225.7" width="33.2" height="1" fill="#f5b545" fill-opacity="0.40"/><rect x="612.5" y="281.3" width="13.1" height="1" fill="#f5b545" fill-opacity="0.39"/></g>
<rect x="646" y="226" width="38" height="75.5" fill="#fff6dc" fill-opacity="0.55"/>
<rect x="646" y="226" width="38" height="75.5" filter="url(#tx3)" opacity="0.8"/>
<rect x="645.5" y="301.5" width="39" height="52" fill="#f2a432" fill-opacity="0.38"/>
<rect x="556.4" y="199.5" width="21" height="1.3" fill="#d9924a" fill-opacity="0.7"/>
<path d="M589.6,276.8 L605.6,280.6 L595.6,293.2Z" fill="#e2771a" fill-opacity="0.92" filter="url(#bl15)" stroke="#e2771a" stroke-opacity="0.92" stroke-width="2.2" stroke-linejoin="round"/><path d="M557,293 L573,288.2 L568.4,303.6Z" fill="#e2771a" fill-opacity="0.95" filter="url(#bl15)" stroke="#e2771a" stroke-opacity="0.95" stroke-width="2.2" stroke-linejoin="round"/><path d="M656.4,257.9 L645.7,270 L662.9,272.9Z" fill="#e2771a" fill-opacity="0.92" filter="url(#bl15)" stroke="#e2771a" stroke-opacity="0.92" stroke-width="2.2" stroke-linejoin="round"/><path d="M658.2,274 L669,276 L664.5,284.3Z" fill="#e2771a" fill-opacity="0.9" filter="url(#bl15)" stroke="#e2771a" stroke-opacity="0.9" stroke-width="2.2" stroke-linejoin="round"/><path d="M628.3,232.6 L640,233 L633.8,240.8Z" fill="#e2771a" fill-opacity="0.9" filter="url(#bl15)" stroke="#e2771a" stroke-opacity="0.9" stroke-width="2.2" stroke-linejoin="round"/><path d="M590,325 L600.5,326.5 L594,337Z" fill="#e2771a" fill-opacity="0.8" filter="url(#bl15)" stroke="#e2771a" stroke-opacity="0.8" stroke-width="2.2" stroke-linejoin="round"/><path d="M589.2,257.4 L598.3,258.4 L592.8,266.2Z" fill="#e2771a" fill-opacity="0.92" filter="url(#bl15)" stroke="#e2771a" stroke-opacity="0.92" stroke-width="2.2" stroke-linejoin="round"/><ellipse cx="557.6" cy="221.5" rx="2.4" ry="6.5" fill="#d96a14" fill-opacity="0.9" filter="url(#bl1)"/><circle cx="597" cy="209.2" r="2.7" fill="#d45d16" fill-opacity="0.95" filter="url(#bl1)"/><circle cx="581" cy="216.9" r="1.8" fill="#e2771a" fill-opacity="0.75" filter="url(#bl1)"/><circle cx="613.1" cy="224.7" r="1.6" fill="#e2771a" fill-opacity="0.7" filter="url(#bl1)"/><circle cx="564.6" cy="226.1" r="1.3" fill="#e2771a" fill-opacity="0.4" filter="url(#bl1)"/><circle cx="604.6" cy="234.7" r="1.3" fill="#e2771a" fill-opacity="0.4" filter="url(#bl1)"/><circle cx="598.1" cy="247.6" r="1.3" fill="#e2771a" fill-opacity="0.45" filter="url(#bl1)"/><circle cx="625" cy="199.7" r="2.6" fill="#cc5a18" fill-opacity="0.95" filter="url(#bl1)"/><circle cx="654.3" cy="207.6" r="3.4" fill="#e2771a" fill-opacity="0.95" filter="url(#bl1)"/><circle cx="670.7" cy="210.1" r="2.6" fill="#e2771a" fill-opacity="0.8" filter="url(#bl1)"/><circle cx="646.4" cy="221.1" r="1.3" fill="#e2771a" fill-opacity="0.45" filter="url(#bl1)"/><circle cx="622.6" cy="233.3" r="1.3" fill="#e2771a" fill-opacity="0.45" filter="url(#bl1)"/><circle cx="681.4" cy="258.6" r="1.6" fill="#d86a1a" fill-opacity="0.8" filter="url(#bl1)"/><circle cx="669.3" cy="292.1" r="1.6" fill="#e2771a" fill-opacity="0.45" filter="url(#bl1)"/><circle cx="634.3" cy="297.9" r="1.6" fill="#e2771a" fill-opacity="0.4" filter="url(#bl1)"/><circle cx="578.6" cy="319" r="2.0" fill="#e2771a" fill-opacity="0.85" filter="url(#bl1)"/><circle cx="611" cy="339" r="1.6" fill="#e2771a" fill-opacity="0.4" filter="url(#bl1)"/><circle cx="615.4" cy="331.2" r="1.4" fill="#e2771a" fill-opacity="0.35" filter="url(#bl1)"/><circle cx="566.4" cy="301.5" r="2.0" fill="#e2771a" fill-opacity="0.5" filter="url(#bl1)"/><circle cx="664" cy="341" r="2.0" fill="#e2771a" fill-opacity="0.35" filter="url(#bl1)"/><circle cx="600.3" cy="323.5" r="3.8" fill="#8a4aa0" fill-opacity="0.6" filter="url(#bl05)"/><circle cx="626" cy="248.3" r="3.2" fill="#9a5a9a" fill-opacity="0.45" filter="url(#bl05)"/><circle cx="665" cy="239" r="3.0" fill="#e2771a" fill-opacity="0.85" filter="url(#bl1)"/><circle cx="654.3" cy="207.6" r="1.3" fill="#35154f" fill-opacity="0.95" filter="url(#bl05)"/><circle cx="665" cy="239" r="1.6" fill="#35154f" fill-opacity="1.0" filter="url(#bl05)"/><circle cx="626" cy="248.3" r="2.2" fill="#14071c" fill-opacity="1.0" filter="url(#bl05)"/><circle cx="600.3" cy="323.5" r="2.5" fill="#14071c" fill-opacity="1.0" filter="url(#bl05)"/><circle cx="568.3" cy="250.6" r="0.8" fill="#6a2a7a" fill-opacity="0.9" filter="url(#bl05)"/><circle cx="571.2" cy="250.6" r="0.8" fill="#6a2a7a" fill-opacity="0.9" filter="url(#bl05)"/><circle cx="580.8" cy="269.8" r="0.8" fill="#5a1a6a" fill-opacity="0.9" filter="url(#bl05)"/><circle cx="582.6" cy="269.8" r="0.8" fill="#5a1a6a" fill-opacity="0.9" filter="url(#bl05)"/><circle cx="568.2" cy="314.9" r="0.7" fill="#c0301a" fill-opacity="0.8" filter="url(#bl05)"/><circle cx="680" cy="292.9" r="0.7" fill="#c0301a" fill-opacity="0.8" filter="url(#bl05)"/><circle cx="605.8" cy="307.1" r="0.8" fill="#c0401a" fill-opacity="0.8" filter="url(#bl05)"/><circle cx="609" cy="307.5" r="2.2" fill="#e2771a" fill-opacity="0.5" filter="url(#bl1)"/>
</g>
<rect x="556.4" y="199.5" width="127.2" height="152.9" fill="none" stroke="#777" stroke-width="0.8"/>
<circle cx="597.2" cy="284.2" r="13.5" fill="none" stroke="#1a9a3a" stroke-width="2.5"/>
<rect x="649.1" y="333.3" width="25.7" height="3.3" fill="#000"/>
<text x="662" y="330" text-anchor="middle" font-size="8.7" font-weight="bold" fill="#000">20μm</text>
</svg></body></html>
